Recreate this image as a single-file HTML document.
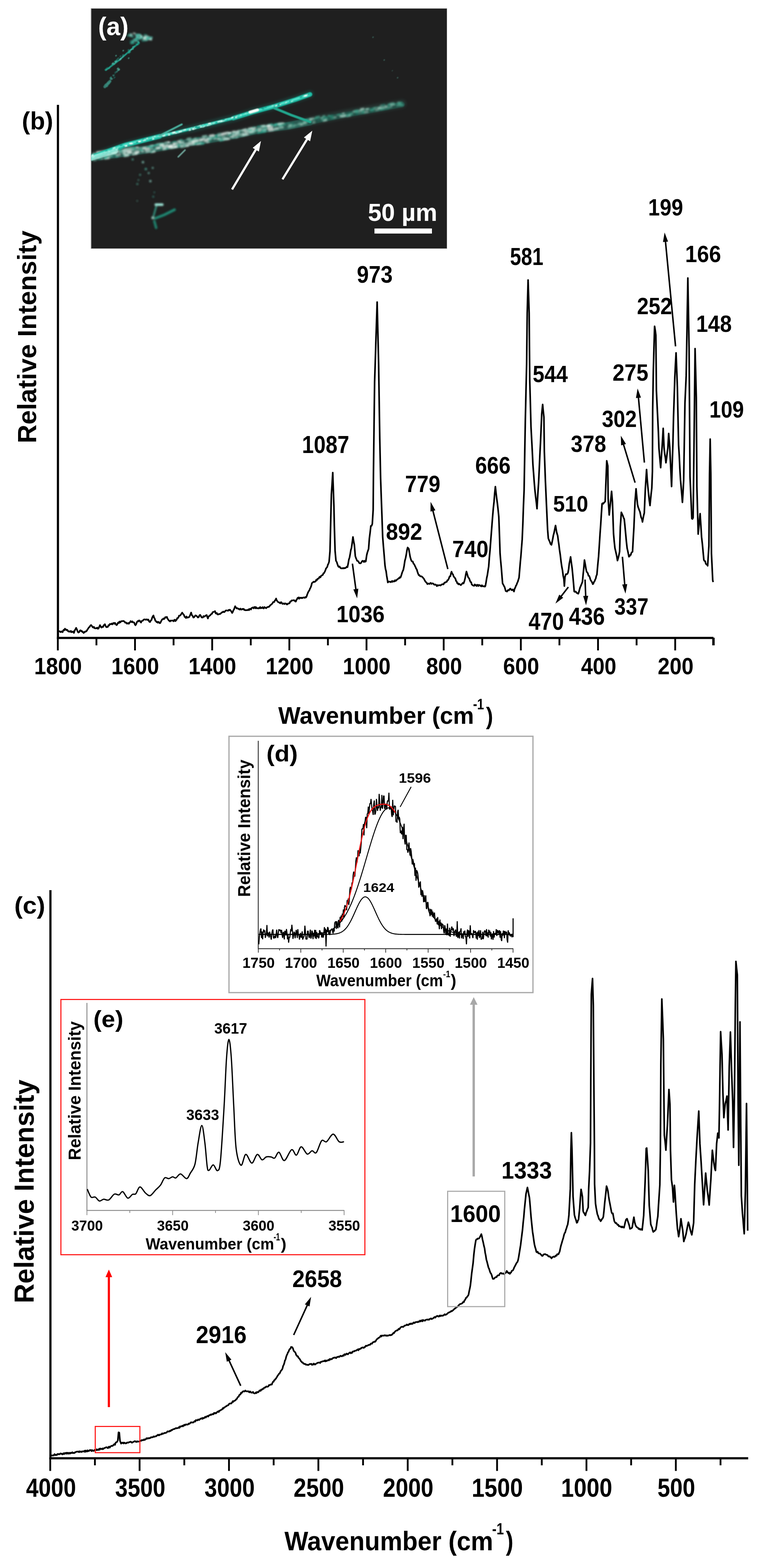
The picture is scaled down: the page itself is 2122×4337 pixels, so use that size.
<!DOCTYPE html>
<html><head><meta charset="utf-8"><title>Raman spectra figure</title>
<style>html,body{margin:0;padding:0;background:#fff;overflow:hidden;width:2122px;height:4337px;}svg{display:block;}text{font-family:"Liberation Sans",Arial,sans-serif;}</style>
</head><body>
<svg width="2122" height="4337" viewBox="0 0 2122 4337">
<rect x="0" y="0" width="2122" height="4337" fill="#fff"/>
<defs>
<filter id="blur2" x="-20%" y="-20%" width="140%" height="140%"><feGaussianBlur stdDeviation="2.2"/></filter>
<filter id="blur1" x="-20%" y="-20%" width="140%" height="140%"><feGaussianBlur stdDeviation="1.3"/></filter>
<filter id="blurS" x="-20%" y="-20%" width="140%" height="140%"><feGaussianBlur stdDeviation="1.9"/></filter>
<filter id="blur4" x="-20%" y="-20%" width="140%" height="140%"><feGaussianBlur stdDeviation="4"/></filter>
<clipPath id="imgclip"><rect x="252" y="24" width="984" height="663"/></clipPath>
</defs><rect x="251" y="23" width="986" height="665" fill="#9a9a9a"/><rect x="253" y="24" width="983" height="663" fill="#1f1f1f"/><g clip-path="url(#imgclip)"><g filter="url(#blur4)" opacity="0.3"><path d="M240.0,439.0 L347.0,401.0 L442.0,377.0 L538.0,354.0 L652.0,325.0 L700.0,309.0 L759.0,293.0 L819.0,274.0 L858.0,260.0" stroke="#1a9c8a" stroke-width="18" fill="none" stroke-linecap="round"/><path d="M240.0,436.0 L330.0,424.0 L411.0,412.0 L506.0,396.0 L569.0,386.0 L652.0,372.0 L719.0,357.0 L799.0,347.0 L858.0,335.0 L958.0,315.0 L1037.0,301.0 L1112.0,287.0" stroke="#3f7c70" stroke-width="22" fill="none" stroke-linecap="round"/></g><g filter="url(#blur1)"><path d="M240,437 L330,425 L411,413 L506,397 L569,387 L652,373 L719,358 L799,348 L858,336" stroke="#2a5f56" stroke-width="21" fill="none" stroke-linecap="round" opacity="0.85"/><path d="M858,337 L958,317 L1037,303 L1112,289" stroke="#22554b" stroke-width="15" fill="none" stroke-linecap="round" opacity="0.75"/><g filter="url(#blurS)"><rect x="479.0" y="397.3" width="13.4" height="6.7" fill="#c0c8c4" opacity="0.78" transform="rotate(-9.6 485.7 400.6)"/><rect x="695.5" y="352.1" width="12.4" height="6.2" fill="#c0c8c4" opacity="0.85" transform="rotate(-12.6 701.7 355.2)"/><rect x="663.9" y="358.8" width="8.4" height="4.2" fill="#a8d2c6" opacity="0.82" transform="rotate(-12.6 668.1 360.9)"/><rect x="716.8" y="356.3" width="10.8" height="5.4" fill="#6a9d90" opacity="0.99" transform="rotate(-7.1 722.2 359.0)"/><rect x="591.4" y="382.0" width="7.3" height="3.6" fill="#d3e6de" opacity="0.93" transform="rotate(-9.6 595.0 383.8)"/><rect x="266.5" y="418.2" width="13.0" height="6.5" fill="#d3e6de" opacity="0.91" transform="rotate(-7.6 273.0 421.4)"/><rect x="413.8" y="410.9" width="7.6" height="3.8" fill="#86b8aa" opacity="0.86" transform="rotate(-9.6 417.6 412.8)"/><rect x="506.8" y="395.9" width="9.7" height="4.8" fill="#eef6f2" opacity="0.76" transform="rotate(-9.0 511.6 398.3)"/><rect x="537.0" y="397.3" width="6.7" height="3.3" fill="#eef6f2" opacity="0.73" transform="rotate(-9.0 540.3 399.0)"/><rect x="360.9" y="412.8" width="6.6" height="3.3" fill="#a8d2c6" opacity="0.76" transform="rotate(-8.4 364.2 414.5)"/><rect x="691.1" y="356.2" width="13.7" height="6.8" fill="#d3e6de" opacity="0.69" transform="rotate(-12.6 697.9 359.6)"/><rect x="736.4" y="344.2" width="9.0" height="4.5" fill="#6a9d90" opacity="0.77" transform="rotate(-7.1 740.9 346.4)"/><rect x="540.5" y="380.9" width="11.4" height="5.7" fill="#1f8f7a" opacity="0.63" transform="rotate(-9.0 546.2 383.8)"/><rect x="416.2" y="416.7" width="12.1" height="6.0" fill="#a8d2c6" opacity="0.65" transform="rotate(-9.6 422.2 419.7)"/><rect x="617.0" y="365.5" width="9.7" height="4.9" fill="#c0c8c4" opacity="0.67" transform="rotate(-9.6 621.8 367.9)"/><rect x="539.5" y="387.2" width="7.5" height="3.8" fill="#3fb39c" opacity="0.77" transform="rotate(-9.0 543.2 389.1)"/><rect x="441.0" y="400.1" width="13.9" height="7.0" fill="#d3e6de" opacity="0.71" transform="rotate(-9.6 448.0 403.6)"/><rect x="762.2" y="354.2" width="8.4" height="4.2" fill="#d3e6de" opacity="0.68" transform="rotate(-7.1 766.4 356.3)"/><rect x="449.7" y="409.0" width="11.1" height="5.6" fill="#a8d2c6" opacity="0.62" transform="rotate(-9.6 455.2 411.8)"/><rect x="316.4" y="422.6" width="6.1" height="3.0" fill="#1f8f7a" opacity="0.93" transform="rotate(-7.6 319.4 424.2)"/><rect x="444.4" y="395.1" width="7.7" height="3.8" fill="#86b8aa" opacity="0.61" transform="rotate(-9.6 448.2 397.1)"/><rect x="437.1" y="407.8" width="7.0" height="3.5" fill="#c0c8c4" opacity="0.93" transform="rotate(-9.6 440.6 409.5)"/><rect x="308.0" y="421.0" width="11.0" height="5.5" fill="#eef6f2" opacity="0.96" transform="rotate(-7.6 313.5 423.7)"/><rect x="678.2" y="358.8" width="7.5" height="3.8" fill="#86b8aa" opacity="0.87" transform="rotate(-12.6 682.0 360.7)"/><rect x="447.4" y="403.3" width="6.6" height="3.3" fill="#d3e6de" opacity="0.64" transform="rotate(-9.6 450.7 405.0)"/><rect x="258.4" y="441.2" width="7.9" height="4.0" fill="#6a9d90" opacity="0.70" transform="rotate(-7.6 262.4 443.2)"/><rect x="682.3" y="364.0" width="8.3" height="4.2" fill="#3fb39c" opacity="0.97" transform="rotate(-12.6 686.5 366.0)"/><rect x="763.4" y="341.9" width="9.8" height="4.9" fill="#a8d2c6" opacity="0.71" transform="rotate(-7.1 768.3 344.4)"/><rect x="732.9" y="348.1" width="6.1" height="3.1" fill="#eef6f2" opacity="0.76" transform="rotate(-7.1 735.9 349.7)"/><rect x="369.9" y="405.9" width="8.3" height="4.1" fill="#3fb39c" opacity="0.64" transform="rotate(-8.4 374.0 408.0)"/><rect x="310.8" y="422.8" width="8.6" height="4.3" fill="#3fb39c" opacity="0.84" transform="rotate(-7.6 315.1 424.9)"/><rect x="735.5" y="351.7" width="8.9" height="4.4" fill="#eef6f2" opacity="0.99" transform="rotate(-7.1 739.9 353.9)"/><rect x="247.0" y="434.9" width="9.9" height="4.9" fill="#eef6f2" opacity="0.73" transform="rotate(-7.6 252.0 437.4)"/><rect x="775.1" y="339.4" width="10.4" height="5.2" fill="#d3e6de" opacity="0.96" transform="rotate(-7.1 780.3 342.0)"/><rect x="634.1" y="374.7" width="12.3" height="6.2" fill="#1f8f7a" opacity="0.74" transform="rotate(-9.6 640.2 377.8)"/><rect x="606.3" y="382.9" width="13.0" height="6.5" fill="#6a9d90" opacity="0.98" transform="rotate(-9.6 612.8 386.2)"/><rect x="253.4" y="432.3" width="6.1" height="3.1" fill="#6a9d90" opacity="0.75" transform="rotate(-7.6 256.5 433.8)"/><rect x="242.2" y="424.1" width="6.7" height="3.4" fill="#a8d2c6" opacity="1.00" transform="rotate(-7.6 245.5 425.8)"/><rect x="712.5" y="359.3" width="9.1" height="4.6" fill="#c0c8c4" opacity="0.78" transform="rotate(-12.6 717.0 361.6)"/><rect x="686.4" y="352.4" width="12.0" height="6.0" fill="#d3e6de" opacity="0.72" transform="rotate(-12.6 692.4 355.4)"/><rect x="279.5" y="416.0" width="13.7" height="6.8" fill="#a8d2c6" opacity="0.80" transform="rotate(-7.6 286.4 419.4)"/><rect x="570.6" y="391.1" width="8.0" height="4.0" fill="#d3e6de" opacity="0.75" transform="rotate(-9.6 574.6 393.1)"/><rect x="313.1" y="425.4" width="10.1" height="5.1" fill="#1f8f7a" opacity="0.86" transform="rotate(-7.6 318.2 428.0)"/><rect x="476.8" y="405.9" width="8.6" height="4.3" fill="#eef6f2" opacity="0.68" transform="rotate(-9.6 481.1 408.1)"/><rect x="468.2" y="404.1" width="13.3" height="6.7" fill="#86b8aa" opacity="0.75" transform="rotate(-9.6 474.9 407.4)"/><rect x="552.2" y="382.8" width="7.1" height="3.5" fill="#c0c8c4" opacity="0.74" transform="rotate(-9.0 555.7 384.6)"/><rect x="720.5" y="346.6" width="6.5" height="3.3" fill="#eef6f2" opacity="0.93" transform="rotate(-7.1 723.7 348.3)"/><rect x="294.6" y="423.9" width="13.4" height="6.7" fill="#6a9d90" opacity="0.75" transform="rotate(-7.6 301.3 427.2)"/><rect x="516.7" y="393.8" width="11.7" height="5.9" fill="#c0c8c4" opacity="0.73" transform="rotate(-9.0 522.6 396.7)"/><rect x="682.5" y="357.2" width="10.9" height="5.4" fill="#eef6f2" opacity="0.83" transform="rotate(-12.6 688.0 359.9)"/><rect x="405.7" y="416.8" width="6.2" height="3.1" fill="#3fb39c" opacity="0.76" transform="rotate(-8.4 408.8 418.4)"/><rect x="340.0" y="425.6" width="8.1" height="4.1" fill="#3fb39c" opacity="0.92" transform="rotate(-8.4 344.1 427.6)"/><rect x="768.6" y="342.0" width="6.9" height="3.4" fill="#1f8f7a" opacity="0.98" transform="rotate(-7.1 772.0 343.7)"/><rect x="605.3" y="370.9" width="9.8" height="4.9" fill="#3fb39c" opacity="0.89" transform="rotate(-9.6 610.2 373.4)"/><rect x="646.3" y="371.5" width="6.3" height="3.1" fill="#86b8aa" opacity="0.71" transform="rotate(-9.6 649.4 373.1)"/><rect x="423.4" y="410.6" width="10.2" height="5.1" fill="#3fb39c" opacity="0.76" transform="rotate(-9.6 428.4 413.1)"/><rect x="667.4" y="373.7" width="6.7" height="3.3" fill="#6a9d90" opacity="0.65" transform="rotate(-12.6 670.7 375.3)"/><rect x="479.9" y="398.5" width="13.3" height="6.6" fill="#6a9d90" opacity="0.82" transform="rotate(-9.6 486.5 401.8)"/><rect x="587.7" y="378.7" width="12.6" height="6.3" fill="#1f8f7a" opacity="0.79" transform="rotate(-9.6 594.0 381.8)"/><rect x="586.4" y="373.5" width="11.8" height="5.9" fill="#a8d2c6" opacity="0.69" transform="rotate(-9.6 592.3 376.5)"/><rect x="721.2" y="360.9" width="13.8" height="6.9" fill="#1f8f7a" opacity="0.70" transform="rotate(-7.1 728.2 364.3)"/><rect x="622.9" y="364.5" width="10.0" height="5.0" fill="#d3e6de" opacity="0.78" transform="rotate(-9.6 628.0 367.0)"/><rect x="534.4" y="393.5" width="9.9" height="4.9" fill="#d3e6de" opacity="0.69" transform="rotate(-9.0 539.3 395.9)"/><rect x="706.2" y="356.3" width="6.3" height="3.1" fill="#1f8f7a" opacity="0.87" transform="rotate(-12.6 709.3 357.9)"/><rect x="728.8" y="350.9" width="14.0" height="7.0" fill="#c0c8c4" opacity="0.98" transform="rotate(-7.1 735.8 354.4)"/><rect x="505.3" y="402.8" width="6.7" height="3.3" fill="#86b8aa" opacity="0.78" transform="rotate(-9.0 508.6 404.5)"/><rect x="538.9" y="393.8" width="10.5" height="5.2" fill="#3fb39c" opacity="0.81" transform="rotate(-9.0 544.1 396.4)"/><rect x="692.8" y="360.9" width="8.5" height="4.2" fill="#6a9d90" opacity="0.98" transform="rotate(-12.6 697.0 363.0)"/><rect x="707.2" y="358.6" width="8.4" height="4.2" fill="#3fb39c" opacity="0.99" transform="rotate(-12.6 711.4 360.7)"/><rect x="520.8" y="392.6" width="7.6" height="3.8" fill="#a8d2c6" opacity="0.80" transform="rotate(-9.0 524.6 394.5)"/><rect x="560.0" y="373.8" width="13.8" height="6.9" fill="#6a9d90" opacity="0.82" transform="rotate(-9.0 566.9 377.3)"/><rect x="771.6" y="341.8" width="6.7" height="3.4" fill="#3fb39c" opacity="0.63" transform="rotate(-7.1 775.0 343.5)"/><rect x="525.1" y="386.8" width="13.7" height="6.8" fill="#6a9d90" opacity="0.71" transform="rotate(-9.0 532.0 390.2)"/><rect x="490.8" y="388.0" width="9.5" height="4.7" fill="#c0c8c4" opacity="0.81" transform="rotate(-9.6 495.5 390.3)"/><rect x="295.7" y="424.9" width="6.2" height="3.1" fill="#eef6f2" opacity="0.65" transform="rotate(-7.6 298.8 426.4)"/><rect x="656.7" y="359.3" width="7.6" height="3.8" fill="#86b8aa" opacity="0.60" transform="rotate(-12.6 660.5 361.2)"/><rect x="391.1" y="417.0" width="8.0" height="4.0" fill="#c0c8c4" opacity="0.64" transform="rotate(-8.4 395.0 419.0)"/><rect x="630.1" y="365.3" width="10.1" height="5.0" fill="#eef6f2" opacity="0.89" transform="rotate(-9.6 635.1 367.8)"/><rect x="618.4" y="382.7" width="6.2" height="3.1" fill="#6a9d90" opacity="0.93" transform="rotate(-9.6 621.5 384.3)"/><rect x="567.7" y="382.6" width="12.9" height="6.5" fill="#86b8aa" opacity="0.81" transform="rotate(-9.6 574.1 385.9)"/><rect x="694.9" y="359.8" width="12.9" height="6.4" fill="#86b8aa" opacity="0.97" transform="rotate(-12.6 701.3 363.0)"/><rect x="576.3" y="379.4" width="7.4" height="3.7" fill="#1f8f7a" opacity="0.96" transform="rotate(-9.6 580.1 381.2)"/><rect x="342.9" y="425.6" width="7.6" height="3.8" fill="#a8d2c6" opacity="0.65" transform="rotate(-8.4 346.7 427.4)"/><rect x="366.7" y="420.7" width="8.1" height="4.0" fill="#a8d2c6" opacity="0.77" transform="rotate(-8.4 370.8 422.7)"/><rect x="743.8" y="351.0" width="11.6" height="5.8" fill="#86b8aa" opacity="0.76" transform="rotate(-7.1 749.6 353.9)"/><rect x="606.3" y="368.1" width="7.6" height="3.8" fill="#1f8f7a" opacity="0.96" transform="rotate(-9.6 610.1 370.0)"/><rect x="758.5" y="342.3" width="10.0" height="5.0" fill="#1f8f7a" opacity="0.80" transform="rotate(-7.1 763.5 344.8)"/><rect x="607.6" y="371.4" width="6.6" height="3.3" fill="#a8d2c6" opacity="0.61" transform="rotate(-9.6 610.8 373.1)"/><rect x="646.9" y="370.5" width="13.2" height="6.6" fill="#c0c8c4" opacity="0.66" transform="rotate(-12.6 653.5 373.8)"/><rect x="333.1" y="413.1" width="12.7" height="6.4" fill="#eef6f2" opacity="0.97" transform="rotate(-8.4 339.4 416.3)"/><rect x="283.7" y="416.3" width="13.6" height="6.8" fill="#c0c8c4" opacity="0.63" transform="rotate(-7.6 290.6 419.7)"/><rect x="287.6" y="424.3" width="9.4" height="4.7" fill="#1f8f7a" opacity="0.77" transform="rotate(-7.6 292.3 426.7)"/><rect x="558.7" y="374.4" width="11.6" height="5.8" fill="#86b8aa" opacity="0.67" transform="rotate(-9.0 564.5 377.3)"/><rect x="482.5" y="401.7" width="9.2" height="4.6" fill="#86b8aa" opacity="0.84" transform="rotate(-9.6 487.1 404.0)"/><rect x="288.1" y="433.2" width="8.6" height="4.3" fill="#a8d2c6" opacity="0.92" transform="rotate(-7.6 292.4 435.4)"/><rect x="617.7" y="380.9" width="11.0" height="5.5" fill="#6a9d90" opacity="0.83" transform="rotate(-9.6 623.2 383.6)"/><rect x="339.7" y="421.5" width="8.7" height="4.4" fill="#eef6f2" opacity="0.71" transform="rotate(-8.4 344.1 423.7)"/><rect x="300.3" y="430.9" width="7.3" height="3.6" fill="#6a9d90" opacity="0.65" transform="rotate(-7.6 303.9 432.7)"/><rect x="414.9" y="409.2" width="9.0" height="4.5" fill="#6a9d90" opacity="0.91" transform="rotate(-9.6 419.4 411.4)"/><rect x="457.7" y="406.5" width="6.6" height="3.3" fill="#1f8f7a" opacity="0.72" transform="rotate(-9.6 461.0 408.1)"/><rect x="289.0" y="433.5" width="13.9" height="7.0" fill="#d3e6de" opacity="0.69" transform="rotate(-7.6 296.0 437.0)"/><rect x="747.4" y="353.6" width="8.7" height="4.4" fill="#6a9d90" opacity="0.83" transform="rotate(-7.1 751.8 355.8)"/><rect x="521.8" y="386.7" width="14.0" height="7.0" fill="#86b8aa" opacity="0.88" transform="rotate(-9.0 528.8 390.2)"/><rect x="651.8" y="378.8" width="6.2" height="3.1" fill="#a8d2c6" opacity="0.90" transform="rotate(-12.6 654.9 380.3)"/><rect x="376.0" y="413.1" width="6.4" height="3.2" fill="#86b8aa" opacity="0.86" transform="rotate(-8.4 379.2 414.7)"/><rect x="241.1" y="427.9" width="8.2" height="4.1" fill="#1f8f7a" opacity="0.82" transform="rotate(-7.6 245.2 430.0)"/><rect x="511.7" y="400.8" width="10.5" height="5.3" fill="#a8d2c6" opacity="0.86" transform="rotate(-9.0 516.9 403.5)"/><rect x="671.5" y="355.9" width="10.8" height="5.4" fill="#d3e6de" opacity="0.75" transform="rotate(-12.6 676.9 358.6)"/><rect x="741.0" y="348.0" width="13.8" height="6.9" fill="#c0c8c4" opacity="0.82" transform="rotate(-7.1 747.9 351.4)"/><rect x="558.4" y="383.0" width="10.0" height="5.0" fill="#eef6f2" opacity="0.81" transform="rotate(-9.0 563.4 385.5)"/><rect x="559.7" y="382.2" width="8.3" height="4.1" fill="#eef6f2" opacity="0.82" transform="rotate(-9.0 563.9 384.2)"/><rect x="390.5" y="416.8" width="8.4" height="4.2" fill="#d3e6de" opacity="0.91" transform="rotate(-8.4 394.7 418.9)"/><rect x="553.5" y="388.0" width="9.3" height="4.6" fill="#6a9d90" opacity="0.62" transform="rotate(-9.0 558.2 390.3)"/><rect x="405.6" y="407.2" width="10.7" height="5.3" fill="#1f8f7a" opacity="0.63" transform="rotate(-9.6 410.9 409.9)"/><rect x="725.1" y="351.9" width="9.8" height="4.9" fill="#86b8aa" opacity="0.62" transform="rotate(-7.1 730.0 354.4)"/><rect x="287.8" y="432.2" width="13.3" height="6.6" fill="#3fb39c" opacity="0.99" transform="rotate(-7.6 294.4 435.5)"/><rect x="679.3" y="365.3" width="6.9" height="3.5" fill="#6a9d90" opacity="0.78" transform="rotate(-12.6 682.8 367.0)"/><rect x="344.2" y="409.1" width="10.2" height="5.1" fill="#a8d2c6" opacity="0.75" transform="rotate(-8.4 349.3 411.6)"/><rect x="310.4" y="421.4" width="10.8" height="5.4" fill="#6a9d90" opacity="0.75" transform="rotate(-7.6 315.8 424.1)"/><rect x="640.7" y="377.4" width="7.1" height="3.5" fill="#eef6f2" opacity="0.89" transform="rotate(-9.6 644.3 379.2)"/><rect x="361.8" y="406.9" width="13.1" height="6.6" fill="#1f8f7a" opacity="0.71" transform="rotate(-8.4 368.4 410.2)"/><rect x="565.7" y="387.0" width="11.6" height="5.8" fill="#86b8aa" opacity="0.85" transform="rotate(-9.6 571.5 389.9)"/><rect x="643.5" y="365.0" width="8.0" height="4.0" fill="#86b8aa" opacity="0.95" transform="rotate(-9.6 647.5 367.0)"/><rect x="256.1" y="421.6" width="8.2" height="4.1" fill="#6a9d90" opacity="0.61" transform="rotate(-7.6 260.2 423.6)"/><rect x="255.8" y="425.2" width="8.2" height="4.1" fill="#a8d2c6" opacity="0.97" transform="rotate(-7.6 259.9 427.2)"/><rect x="319.8" y="415.3" width="13.9" height="6.9" fill="#c0c8c4" opacity="0.79" transform="rotate(-7.6 326.7 418.8)"/><rect x="348.0" y="414.1" width="12.0" height="6.0" fill="#a8d2c6" opacity="0.92" transform="rotate(-8.4 354.0 417.1)"/><rect x="477.4" y="403.0" width="12.7" height="6.4" fill="#86b8aa" opacity="0.78" transform="rotate(-9.6 483.8 406.2)"/><rect x="641.2" y="369.4" width="7.2" height="3.6" fill="#3fb39c" opacity="0.86" transform="rotate(-9.6 644.8 371.2)"/><rect x="770.1" y="344.4" width="10.4" height="5.2" fill="#3fb39c" opacity="0.77" transform="rotate(-7.1 775.3 347.0)"/><rect x="432.7" y="395.8" width="13.0" height="6.5" fill="#a8d2c6" opacity="0.82" transform="rotate(-9.6 439.2 399.0)"/><rect x="468.4" y="399.5" width="12.5" height="6.3" fill="#c0c8c4" opacity="0.72" transform="rotate(-9.6 474.7 402.6)"/><rect x="654.8" y="360.7" width="7.7" height="3.9" fill="#a8d2c6" opacity="0.88" transform="rotate(-12.6 658.6 362.6)"/><rect x="504.9" y="398.6" width="8.6" height="4.3" fill="#3fb39c" opacity="0.69" transform="rotate(-9.0 509.2 400.7)"/><rect x="589.3" y="374.9" width="13.3" height="6.6" fill="#1f8f7a" opacity="0.88" transform="rotate(-9.6 595.9 378.2)"/><rect x="543.3" y="393.8" width="13.5" height="6.8" fill="#eef6f2" opacity="0.78" transform="rotate(-9.0 550.1 397.1)"/><rect x="670.0" y="361.3" width="8.5" height="4.3" fill="#6a9d90" opacity="0.99" transform="rotate(-12.6 674.3 363.4)"/><rect x="632.4" y="373.4" width="6.7" height="3.3" fill="#1f8f7a" opacity="0.61" transform="rotate(-9.6 635.7 375.0)"/><rect x="601.2" y="378.0" width="12.4" height="6.2" fill="#1f8f7a" opacity="0.92" transform="rotate(-9.6 607.4 381.1)"/><rect x="529.0" y="395.5" width="10.5" height="5.3" fill="#3fb39c" opacity="0.64" transform="rotate(-9.0 534.3 398.1)"/><rect x="481.5" y="403.1" width="12.5" height="6.2" fill="#86b8aa" opacity="0.81" transform="rotate(-9.6 487.7 406.2)"/><rect x="528.5" y="389.2" width="13.7" height="6.9" fill="#6a9d90" opacity="0.63" transform="rotate(-9.0 535.4 392.7)"/><rect x="534.2" y="395.0" width="6.7" height="3.3" fill="#a8d2c6" opacity="0.71" transform="rotate(-9.0 537.5 396.6)"/><rect x="293.7" y="422.8" width="6.2" height="3.1" fill="#3fb39c" opacity="0.64" transform="rotate(-7.6 296.8 424.4)"/><rect x="676.0" y="361.0" width="11.7" height="5.8" fill="#c0c8c4" opacity="0.91" transform="rotate(-12.6 681.8 363.9)"/><rect x="519.2" y="396.1" width="9.2" height="4.6" fill="#1f8f7a" opacity="0.92" transform="rotate(-9.0 523.7 398.4)"/><rect x="414.7" y="400.6" width="9.9" height="5.0" fill="#a8d2c6" opacity="0.88" transform="rotate(-9.6 419.6 403.0)"/><rect x="728.8" y="350.3" width="12.6" height="6.3" fill="#1f8f7a" opacity="0.94" transform="rotate(-7.1 735.1 353.4)"/><rect x="671.4" y="369.1" width="13.1" height="6.6" fill="#d3e6de" opacity="0.81" transform="rotate(-12.6 677.9 372.4)"/><rect x="621.3" y="379.7" width="9.4" height="4.7" fill="#6a9d90" opacity="0.97" transform="rotate(-9.6 625.9 382.1)"/><rect x="367.0" y="407.8" width="11.1" height="5.5" fill="#3fb39c" opacity="0.73" transform="rotate(-8.4 372.5 410.6)"/><rect x="447.4" y="403.7" width="8.2" height="4.1" fill="#d3e6de" opacity="0.79" transform="rotate(-9.6 451.5 405.8)"/><rect x="632.0" y="369.3" width="7.2" height="3.6" fill="#3fb39c" opacity="0.96" transform="rotate(-9.6 635.6 371.1)"/><rect x="641.9" y="361.5" width="9.8" height="4.9" fill="#d3e6de" opacity="0.73" transform="rotate(-9.6 646.8 363.9)"/><rect x="341.7" y="415.8" width="10.7" height="5.4" fill="#c0c8c4" opacity="0.84" transform="rotate(-8.4 347.0 418.5)"/><rect x="356.7" y="410.7" width="8.2" height="4.1" fill="#3fb39c" opacity="0.96" transform="rotate(-8.4 360.8 412.8)"/><rect x="741.0" y="352.2" width="13.5" height="6.8" fill="#c0c8c4" opacity="0.94" transform="rotate(-7.1 747.7 355.6)"/><rect x="495.9" y="391.2" width="13.6" height="6.8" fill="#a8d2c6" opacity="0.79" transform="rotate(-9.6 502.7 394.6)"/><rect x="352.0" y="406.8" width="13.6" height="6.8" fill="#6a9d90" opacity="0.99" transform="rotate(-8.4 358.8 410.2)"/><rect x="665.5" y="369.6" width="12.3" height="6.2" fill="#d3e6de" opacity="0.86" transform="rotate(-12.6 671.7 372.7)"/><rect x="362.8" y="405.7" width="9.8" height="4.9" fill="#1f8f7a" opacity="0.78" transform="rotate(-8.4 367.7 408.1)"/><rect x="367.3" y="412.6" width="13.0" height="6.5" fill="#6a9d90" opacity="0.66" transform="rotate(-8.4 373.8 415.9)"/><rect x="407.5" y="403.3" width="13.0" height="6.5" fill="#3fb39c" opacity="0.85" transform="rotate(-9.6 414.0 406.5)"/><rect x="772.2" y="343.1" width="10.3" height="5.1" fill="#3fb39c" opacity="0.83" transform="rotate(-7.1 777.3 345.7)"/><rect x="329.4" y="413.5" width="13.3" height="6.7" fill="#3fb39c" opacity="0.93" transform="rotate(-8.4 336.0 416.8)"/><rect x="278.3" y="422.2" width="11.7" height="5.9" fill="#a8d2c6" opacity="0.96" transform="rotate(-7.6 284.2 425.1)"/><rect x="608.9" y="367.4" width="12.0" height="6.0" fill="#eef6f2" opacity="0.61" transform="rotate(-9.6 614.9 370.4)"/><rect x="335.4" y="412.9" width="11.5" height="5.7" fill="#c0c8c4" opacity="0.68" transform="rotate(-8.4 341.1 415.8)"/><rect x="531.2" y="390.1" width="7.3" height="3.6" fill="#eef6f2" opacity="0.73" transform="rotate(-9.0 534.8 391.9)"/><rect x="453.3" y="401.3" width="14.0" height="7.0" fill="#a8d2c6" opacity="0.74" transform="rotate(-9.6 460.3 404.8)"/><rect x="606.8" y="369.1" width="9.2" height="4.6" fill="#c0c8c4" opacity="0.90" transform="rotate(-9.6 611.4 371.4)"/><rect x="658.8" y="360.0" width="9.6" height="4.8" fill="#6a9d90" opacity="0.88" transform="rotate(-12.6 663.6 362.4)"/><rect x="493.7" y="391.6" width="6.9" height="3.5" fill="#d3e6de" opacity="0.94" transform="rotate(-9.6 497.2 393.4)"/><rect x="691.5" y="362.4" width="13.2" height="6.6" fill="#3fb39c" opacity="0.72" transform="rotate(-12.6 698.1 365.7)"/><rect x="440.1" y="405.1" width="8.4" height="4.2" fill="#1f8f7a" opacity="0.90" transform="rotate(-9.6 444.3 407.2)"/><rect x="536.4" y="380.7" width="7.5" height="3.8" fill="#6a9d90" opacity="0.89" transform="rotate(-9.0 540.1 382.5)"/><rect x="415.2" y="417.0" width="10.5" height="5.3" fill="#1f8f7a" opacity="0.78" transform="rotate(-9.6 420.4 419.6)"/><rect x="440.8" y="395.2" width="11.0" height="5.5" fill="#3fb39c" opacity="0.87" transform="rotate(-9.6 446.3 397.9)"/><rect x="618.4" y="368.6" width="9.2" height="4.6" fill="#c0c8c4" opacity="0.84" transform="rotate(-9.6 623.1 370.9)"/><rect x="284.6" y="421.8" width="7.3" height="3.6" fill="#a8d2c6" opacity="0.77" transform="rotate(-7.6 288.2 423.6)"/><rect x="651.1" y="364.7" width="12.6" height="6.3" fill="#3fb39c" opacity="0.86" transform="rotate(-12.6 657.4 367.8)"/><rect x="652.4" y="374.6" width="9.1" height="4.5" fill="#1f8f7a" opacity="0.97" transform="rotate(-12.6 657.0 376.9)"/><rect x="573.2" y="386.0" width="10.9" height="5.5" fill="#1f8f7a" opacity="0.99" transform="rotate(-9.6 578.6 388.7)"/><rect x="663.1" y="368.5" width="10.9" height="5.4" fill="#d3e6de" opacity="0.70" transform="rotate(-12.6 668.5 371.3)"/><rect x="337.3" y="415.7" width="9.5" height="4.8" fill="#6a9d90" opacity="0.68" transform="rotate(-8.4 342.0 418.1)"/><rect x="416.7" y="404.5" width="6.8" height="3.4" fill="#3fb39c" opacity="0.70" transform="rotate(-9.6 420.1 406.2)"/><rect x="527.8" y="386.0" width="7.9" height="3.9" fill="#3fb39c" opacity="0.83" transform="rotate(-9.0 531.7 388.0)"/><rect x="342.1" y="426.9" width="14.0" height="7.0" fill="#86b8aa" opacity="0.83" transform="rotate(-8.4 349.1 430.4)"/><rect x="248.9" y="434.5" width="12.2" height="6.1" fill="#3fb39c" opacity="0.70" transform="rotate(-7.6 255.0 437.5)"/><rect x="549.0" y="390.2" width="8.6" height="4.3" fill="#1f8f7a" opacity="0.71" transform="rotate(-9.0 553.3 392.3)"/><rect x="711.8" y="353.5" width="11.8" height="5.9" fill="#86b8aa" opacity="0.96" transform="rotate(-12.6 717.7 356.4)"/><rect x="529.7" y="390.0" width="10.5" height="5.2" fill="#eef6f2" opacity="0.67" transform="rotate(-9.0 535.0 392.6)"/><rect x="641.2" y="378.3" width="8.7" height="4.3" fill="#3fb39c" opacity="0.65" transform="rotate(-9.6 645.5 380.5)"/><rect x="679.2" y="357.3" width="13.2" height="6.6" fill="#86b8aa" opacity="0.90" transform="rotate(-12.6 685.8 360.6)"/><rect x="430.7" y="398.2" width="10.8" height="5.4" fill="#a8d2c6" opacity="0.78" transform="rotate(-9.6 436.1 400.9)"/><rect x="453.2" y="406.1" width="13.4" height="6.7" fill="#3fb39c" opacity="0.72" transform="rotate(-9.6 459.9 409.5)"/><rect x="600.2" y="382.2" width="9.1" height="4.5" fill="#d3e6de" opacity="0.66" transform="rotate(-9.6 604.7 384.5)"/><rect x="457.0" y="391.4" width="10.2" height="5.1" fill="#a8d2c6" opacity="0.83" transform="rotate(-9.6 462.1 393.9)"/><rect x="330.5" y="421.7" width="8.1" height="4.1" fill="#1f8f7a" opacity="0.62" transform="rotate(-8.4 334.5 423.8)"/><rect x="659.6" y="370.0" width="12.3" height="6.2" fill="#6a9d90" opacity="0.98" transform="rotate(-12.6 665.7 373.0)"/><rect x="560.8" y="383.7" width="9.3" height="4.6" fill="#6a9d90" opacity="0.90" transform="rotate(-9.0 565.4 386.0)"/><rect x="498.8" y="402.8" width="12.7" height="6.4" fill="#6a9d90" opacity="0.93" transform="rotate(-9.6 505.2 406.0)"/><rect x="296.0" y="415.9" width="13.5" height="6.8" fill="#1f8f7a" opacity="0.81" transform="rotate(-7.6 302.7 419.3)"/><rect x="471.6" y="407.1" width="8.6" height="4.3" fill="#d3e6de" opacity="0.72" transform="rotate(-9.6 475.9 409.2)"/><rect x="569.5" y="381.6" width="9.0" height="4.5" fill="#1f8f7a" opacity="0.90" transform="rotate(-9.6 574.0 383.9)"/><rect x="402.6" y="413.1" width="6.6" height="3.3" fill="#a8d2c6" opacity="0.94" transform="rotate(-8.4 405.9 414.7)"/><rect x="366.0" y="422.0" width="13.8" height="6.9" fill="#c0c8c4" opacity="0.88" transform="rotate(-8.4 372.9 425.5)"/><rect x="520.4" y="385.8" width="8.5" height="4.2" fill="#6a9d90" opacity="0.98" transform="rotate(-9.0 524.7 387.9)"/><rect x="712.1" y="363.3" width="11.8" height="5.9" fill="#1f8f7a" opacity="0.95" transform="rotate(-12.6 718.1 366.2)"/><rect x="465.8" y="406.3" width="7.8" height="3.9" fill="#6a9d90" opacity="0.83" transform="rotate(-9.6 469.7 408.3)"/><rect x="721.9" y="345.7" width="12.3" height="6.2" fill="#a8d2c6" opacity="0.95" transform="rotate(-7.1 728.1 348.8)"/><rect x="548.1" y="385.7" width="8.4" height="4.2" fill="#eef6f2" opacity="0.61" transform="rotate(-9.0 552.2 387.8)"/><rect x="328.6" y="419.8" width="9.6" height="4.8" fill="#6a9d90" opacity="0.66" transform="rotate(-8.4 333.4 422.2)"/><rect x="610.3" y="371.1" width="8.4" height="4.2" fill="#c0c8c4" opacity="0.96" transform="rotate(-9.6 614.5 373.2)"/><rect x="400.5" y="409.2" width="13.5" height="6.7" fill="#c0c8c4" opacity="0.95" transform="rotate(-8.4 407.3 412.5)"/><rect x="345.5" y="425.6" width="11.5" height="5.8" fill="#d3e6de" opacity="0.68" transform="rotate(-8.4 351.3 428.5)"/><rect x="688.3" y="357.7" width="9.8" height="4.9" fill="#3fb39c" opacity="0.85" transform="rotate(-12.6 693.2 360.1)"/><rect x="613.5" y="376.2" width="10.3" height="5.1" fill="#86b8aa" opacity="0.68" transform="rotate(-9.6 618.6 378.8)"/><rect x="711.2" y="348.1" width="6.8" height="3.4" fill="#1f8f7a" opacity="0.98" transform="rotate(-12.6 714.6 349.8)"/><rect x="382.1" y="410.4" width="13.0" height="6.5" fill="#1f8f7a" opacity="0.88" transform="rotate(-8.4 388.6 413.7)"/><rect x="744.3" y="350.8" width="6.6" height="3.3" fill="#86b8aa" opacity="0.94" transform="rotate(-7.1 747.6 352.5)"/><rect x="302.1" y="429.3" width="8.2" height="4.1" fill="#86b8aa" opacity="0.80" transform="rotate(-7.6 306.2 431.3)"/><rect x="393.7" y="405.8" width="12.4" height="6.2" fill="#a8d2c6" opacity="0.84" transform="rotate(-8.4 399.9 408.9)"/><rect x="357.2" y="411.4" width="13.4" height="6.7" fill="#86b8aa" opacity="0.71" transform="rotate(-8.4 363.9 414.8)"/><rect x="578.8" y="371.9" width="13.9" height="6.9" fill="#c0c8c4" opacity="0.97" transform="rotate(-9.6 585.8 375.3)"/><rect x="278.3" y="437.9" width="6.1" height="3.0" fill="#eef6f2" opacity="0.81" transform="rotate(-7.6 281.3 439.4)"/><rect x="466.4" y="401.6" width="7.3" height="3.7" fill="#86b8aa" opacity="0.70" transform="rotate(-9.6 470.1 403.4)"/><rect x="388.1" y="414.0" width="7.5" height="3.7" fill="#3fb39c" opacity="1.00" transform="rotate(-8.4 391.8 415.8)"/><rect x="252.2" y="429.7" width="12.0" height="6.0" fill="#6a9d90" opacity="0.60" transform="rotate(-7.6 258.2 432.7)"/><rect x="718.3" y="347.3" width="6.5" height="3.3" fill="#1f8f7a" opacity="0.73" transform="rotate(-7.1 721.6 348.9)"/><rect x="496.6" y="385.5" width="8.3" height="4.2" fill="#3fb39c" opacity="0.84" transform="rotate(-9.6 500.8 387.6)"/><rect x="651.8" y="361.4" width="9.5" height="4.7" fill="#c0c8c4" opacity="0.82" transform="rotate(-12.6 656.5 363.8)"/><rect x="374.0" y="418.2" width="11.8" height="5.9" fill="#eef6f2" opacity="0.80" transform="rotate(-8.4 379.9 421.1)"/><rect x="355.5" y="418.7" width="10.0" height="5.0" fill="#d3e6de" opacity="0.68" transform="rotate(-8.4 360.5 421.2)"/><rect x="759.8" y="341.2" width="9.6" height="4.8" fill="#3fb39c" opacity="0.73" transform="rotate(-7.1 764.6 343.5)"/><rect x="564.1" y="384.8" width="12.4" height="6.2" fill="#c0c8c4" opacity="0.89" transform="rotate(-9.6 570.3 387.9)"/><rect x="698.5" y="350.6" width="6.9" height="3.5" fill="#3fb39c" opacity="0.83" transform="rotate(-12.6 702.0 352.3)"/><rect x="531.6" y="395.0" width="7.9" height="4.0" fill="#3fb39c" opacity="0.62" transform="rotate(-9.0 535.6 397.0)"/><rect x="465.2" y="402.6" width="12.6" height="6.3" fill="#eef6f2" opacity="0.91" transform="rotate(-9.6 471.5 405.8)"/><rect x="505.8" y="395.7" width="10.1" height="5.0" fill="#6a9d90" opacity="0.70" transform="rotate(-9.0 510.8 398.2)"/><rect x="321.1" y="425.3" width="12.6" height="6.3" fill="#c0c8c4" opacity="0.62" transform="rotate(-7.6 327.5 428.4)"/><rect x="458.6" y="398.7" width="7.7" height="3.9" fill="#d3e6de" opacity="0.65" transform="rotate(-9.6 462.4 400.6)"/><rect x="646.3" y="372.5" width="7.1" height="3.5" fill="#c0c8c4" opacity="0.81" transform="rotate(-9.6 649.8 374.2)"/><rect x="768.0" y="339.4" width="9.3" height="4.6" fill="#3fb39c" opacity="0.64" transform="rotate(-7.1 772.7 341.7)"/><rect x="534.8" y="386.4" width="13.5" height="6.7" fill="#d3e6de" opacity="0.87" transform="rotate(-9.0 541.6 389.8)"/><rect x="624.8" y="381.9" width="10.9" height="5.4" fill="#eef6f2" opacity="0.70" transform="rotate(-9.6 630.2 384.6)"/><rect x="533.7" y="383.4" width="9.7" height="4.8" fill="#86b8aa" opacity="0.75" transform="rotate(-9.0 538.6 385.8)"/><rect x="419.3" y="416.9" width="10.9" height="5.4" fill="#d3e6de" opacity="0.66" transform="rotate(-9.6 424.7 419.6)"/><rect x="553.0" y="394.2" width="11.9" height="5.9" fill="#3fb39c" opacity="0.79" transform="rotate(-9.0 558.9 397.2)"/><rect x="449.9" y="409.4" width="9.0" height="4.5" fill="#d3e6de" opacity="0.69" transform="rotate(-9.6 454.5 411.7)"/><rect x="422.4" y="400.1" width="10.4" height="5.2" fill="#3fb39c" opacity="0.79" transform="rotate(-9.6 427.6 402.7)"/><rect x="451.5" y="403.0" width="12.1" height="6.0" fill="#c0c8c4" opacity="0.78" transform="rotate(-9.6 457.6 406.1)"/><rect x="771.9" y="349.4" width="12.9" height="6.5" fill="#86b8aa" opacity="0.82" transform="rotate(-7.1 778.3 352.7)"/><rect x="461.9" y="391.5" width="8.2" height="4.1" fill="#eef6f2" opacity="0.85" transform="rotate(-9.6 466.0 393.6)"/><rect x="517.2" y="395.7" width="10.1" height="5.0" fill="#86b8aa" opacity="0.71" transform="rotate(-9.0 522.2 398.2)"/><rect x="428.2" y="397.5" width="13.5" height="6.7" fill="#1f8f7a" opacity="0.65" transform="rotate(-9.6 434.9 400.9)"/><rect x="368.5" y="423.2" width="7.0" height="3.5" fill="#1f8f7a" opacity="0.94" transform="rotate(-8.4 372.0 424.9)"/><rect x="480.8" y="404.3" width="9.1" height="4.5" fill="#eef6f2" opacity="0.91" transform="rotate(-9.6 485.3 406.6)"/><rect x="515.8" y="382.7" width="9.2" height="4.6" fill="#86b8aa" opacity="0.80" transform="rotate(-9.0 520.4 385.0)"/><rect x="338.6" y="420.7" width="7.0" height="3.5" fill="#86b8aa" opacity="0.72" transform="rotate(-8.4 342.1 422.5)"/><rect x="466.8" y="401.1" width="7.1" height="3.5" fill="#eef6f2" opacity="0.73" transform="rotate(-9.6 470.3 402.9)"/><rect x="478.2" y="393.9" width="13.0" height="6.5" fill="#eef6f2" opacity="0.81" transform="rotate(-9.6 484.7 397.1)"/><rect x="477.6" y="390.1" width="10.1" height="5.1" fill="#1f8f7a" opacity="0.69" transform="rotate(-9.6 482.7 392.6)"/><rect x="394.4" y="408.7" width="7.7" height="3.9" fill="#d3e6de" opacity="0.94" transform="rotate(-8.4 398.2 410.7)"/><rect x="641.9" y="371.3" width="6.1" height="3.0" fill="#eef6f2" opacity="0.86" transform="rotate(-9.6 645.0 372.9)"/><rect x="272.2" y="436.1" width="10.5" height="5.2" fill="#1f8f7a" opacity="0.87" transform="rotate(-7.6 277.4 438.7)"/><rect x="754.0" y="356.6" width="7.9" height="3.9" fill="#eef6f2" opacity="0.64" transform="rotate(-7.1 757.9 358.5)"/><rect x="468.5" y="398.0" width="6.5" height="3.2" fill="#6a9d90" opacity="0.97" transform="rotate(-9.6 471.8 399.6)"/><rect x="391.4" y="416.6" width="7.8" height="3.9" fill="#6a9d90" opacity="0.68" transform="rotate(-8.4 395.2 418.6)"/><rect x="650.0" y="365.4" width="11.7" height="5.8" fill="#a8d2c6" opacity="0.90" transform="rotate(-12.6 655.9 368.4)"/><rect x="727.0" y="358.3" width="9.8" height="4.9" fill="#eef6f2" opacity="0.88" transform="rotate(-7.1 731.9 360.8)"/><rect x="537.6" y="392.9" width="6.2" height="3.1" fill="#6a9d90" opacity="0.65" transform="rotate(-9.0 540.7 394.4)"/><rect x="729.2" y="360.4" width="8.2" height="4.1" fill="#6a9d90" opacity="0.80" transform="rotate(-7.1 733.3 362.5)"/><rect x="553.4" y="385.0" width="8.6" height="4.3" fill="#eef6f2" opacity="0.63" transform="rotate(-9.0 557.7 387.2)"/><rect x="254.2" y="427.4" width="9.0" height="4.5" fill="#eef6f2" opacity="0.70" transform="rotate(-7.6 258.7 429.6)"/><rect x="596.4" y="372.2" width="9.8" height="4.9" fill="#1f8f7a" opacity="0.98" transform="rotate(-9.6 601.3 374.6)"/><rect x="430.4" y="405.8" width="13.5" height="6.8" fill="#a8d2c6" opacity="0.85" transform="rotate(-9.6 437.2 409.2)"/><rect x="571.8" y="380.7" width="9.3" height="4.7" fill="#eef6f2" opacity="0.63" transform="rotate(-9.6 576.4 383.0)"/><rect x="484.7" y="394.0" width="13.7" height="6.9" fill="#6a9d90" opacity="0.62" transform="rotate(-9.6 491.6 397.4)"/><rect x="309.7" y="424.2" width="8.5" height="4.2" fill="#1f8f7a" opacity="0.79" transform="rotate(-7.6 313.9 426.3)"/><rect x="247.7" y="434.7" width="8.2" height="4.1" fill="#eef6f2" opacity="0.87" transform="rotate(-7.6 251.8 436.8)"/><rect x="360.8" y="405.6" width="10.4" height="5.2" fill="#6a9d90" opacity="0.60" transform="rotate(-8.4 366.0 408.2)"/><rect x="531.7" y="394.7" width="12.1" height="6.1" fill="#a8d2c6" opacity="0.85" transform="rotate(-9.0 537.8 397.8)"/><rect x="538.3" y="392.8" width="13.8" height="6.9" fill="#1f8f7a" opacity="0.71" transform="rotate(-9.0 545.2 396.2)"/><rect x="288.9" y="415.1" width="12.4" height="6.2" fill="#86b8aa" opacity="0.88" transform="rotate(-7.6 295.1 418.2)"/><rect x="607.4" y="384.1" width="12.6" height="6.3" fill="#3fb39c" opacity="0.73" transform="rotate(-9.6 613.7 387.2)"/><rect x="610.5" y="382.0" width="8.3" height="4.2" fill="#6a9d90" opacity="0.71" transform="rotate(-9.6 614.7 384.0)"/><rect x="642.2" y="371.6" width="7.9" height="3.9" fill="#86b8aa" opacity="0.74" transform="rotate(-9.6 646.2 373.6)"/><rect x="618.2" y="381.5" width="11.9" height="6.0" fill="#a8d2c6" opacity="1.00" transform="rotate(-9.6 624.2 384.5)"/><rect x="680.3" y="369.7" width="8.5" height="4.2" fill="#c0c8c4" opacity="0.80" transform="rotate(-12.6 684.5 371.8)"/><rect x="601.4" y="368.2" width="11.0" height="5.5" fill="#6a9d90" opacity="0.95" transform="rotate(-9.6 606.9 370.9)"/><rect x="263.3" y="424.3" width="10.1" height="5.0" fill="#6a9d90" opacity="0.70" transform="rotate(-7.6 268.4 426.8)"/><rect x="578.1" y="378.1" width="11.5" height="5.7" fill="#3fb39c" opacity="0.73" transform="rotate(-9.6 583.9 381.0)"/><rect x="646.3" y="375.1" width="12.6" height="6.3" fill="#6a9d90" opacity="0.86" transform="rotate(-9.6 652.7 378.2)"/><rect x="304.9" y="429.9" width="8.2" height="4.1" fill="#3fb39c" opacity="0.65" transform="rotate(-7.6 309.0 432.0)"/><rect x="441.3" y="407.7" width="7.8" height="3.9" fill="#3fb39c" opacity="0.99" transform="rotate(-9.6 445.2 409.7)"/><rect x="490.5" y="398.4" width="12.3" height="6.2" fill="#3fb39c" opacity="0.71" transform="rotate(-9.6 496.6 401.4)"/><rect x="380.9" y="407.6" width="11.3" height="5.7" fill="#6a9d90" opacity="0.97" transform="rotate(-8.4 386.6 410.4)"/><rect x="768.7" y="339.4" width="11.7" height="5.9" fill="#a8d2c6" opacity="0.95" transform="rotate(-7.1 774.5 342.3)"/><rect x="339.8" y="416.2" width="10.3" height="5.2" fill="#a8d2c6" opacity="0.76" transform="rotate(-8.4 344.9 418.7)"/><rect x="724.0" y="358.2" width="12.8" height="6.4" fill="#3fb39c" opacity="0.75" transform="rotate(-7.1 730.4 361.4)"/><rect x="402.6" y="415.3" width="12.7" height="6.4" fill="#eef6f2" opacity="0.69" transform="rotate(-8.4 408.9 418.5)"/><rect x="627.5" y="372.0" width="7.1" height="3.6" fill="#6a9d90" opacity="0.87" transform="rotate(-9.6 631.1 373.8)"/><rect x="350.6" y="412.2" width="12.9" height="6.5" fill="#c0c8c4" opacity="0.67" transform="rotate(-8.4 357.1 415.4)"/><rect x="295.5" y="435.5" width="8.0" height="4.0" fill="#c0c8c4" opacity="0.77" transform="rotate(-7.6 299.5 437.5)"/><rect x="319.6" y="431.0" width="8.2" height="4.1" fill="#3fb39c" opacity="0.71" transform="rotate(-7.6 323.7 433.1)"/><rect x="453.3" y="399.0" width="6.6" height="3.3" fill="#86b8aa" opacity="0.75" transform="rotate(-9.6 456.6 400.7)"/><rect x="376.5" y="405.6" width="6.5" height="3.3" fill="#eef6f2" opacity="0.87" transform="rotate(-8.4 379.7 407.2)"/><rect x="238.2" y="430.4" width="7.1" height="3.6" fill="#86b8aa" opacity="1.00" transform="rotate(-7.6 241.7 432.1)"/><rect x="455.8" y="392.0" width="8.8" height="4.4" fill="#6a9d90" opacity="0.82" transform="rotate(-9.6 460.2 394.2)"/><rect x="350.9" y="419.3" width="12.6" height="6.3" fill="#eef6f2" opacity="0.71" transform="rotate(-8.4 357.2 422.4)"/><rect x="742.1" y="356.1" width="14.0" height="7.0" fill="#c0c8c4" opacity="0.83" transform="rotate(-7.1 749.1 359.6)"/><rect x="741.9" y="342.2" width="12.9" height="6.4" fill="#3fb39c" opacity="0.82" transform="rotate(-7.1 748.4 345.4)"/><rect x="602.1" y="374.0" width="6.2" height="3.1" fill="#eef6f2" opacity="0.63" transform="rotate(-9.6 605.2 375.6)"/><rect x="490.8" y="404.1" width="6.5" height="3.3" fill="#1f8f7a" opacity="0.60" transform="rotate(-9.6 494.0 405.7)"/><rect x="520.8" y="395.7" width="12.3" height="6.2" fill="#c0c8c4" opacity="0.76" transform="rotate(-9.0 527.0 398.8)"/><rect x="670.3" y="369.6" width="12.1" height="6.1" fill="#a8d2c6" opacity="0.97" transform="rotate(-12.6 676.4 372.6)"/><rect x="498.0" y="401.0" width="9.3" height="4.6" fill="#d3e6de" opacity="0.60" transform="rotate(-9.6 502.7 403.3)"/><rect x="310.2" y="419.1" width="11.8" height="5.9" fill="#eef6f2" opacity="0.92" transform="rotate(-7.6 316.1 422.1)"/><rect x="434.1" y="408.0" width="8.8" height="4.4" fill="#eef6f2" opacity="0.63" transform="rotate(-9.6 438.5 410.2)"/><rect x="590.5" y="381.4" width="8.1" height="4.1" fill="#86b8aa" opacity="0.90" transform="rotate(-9.6 594.6 383.5)"/><rect x="350.5" y="422.8" width="10.4" height="5.2" fill="#86b8aa" opacity="0.67" transform="rotate(-8.4 355.6 425.4)"/><rect x="292.1" y="418.5" width="8.8" height="4.4" fill="#6a9d90" opacity="0.61" transform="rotate(-7.6 296.5 420.7)"/><rect x="452.1" y="393.7" width="6.8" height="3.4" fill="#86b8aa" opacity="0.61" transform="rotate(-9.6 455.5 395.4)"/><rect x="328.2" y="411.5" width="10.7" height="5.4" fill="#1f8f7a" opacity="0.77" transform="rotate(-8.4 333.6 414.2)"/><rect x="756.0" y="344.6" width="9.3" height="4.6" fill="#3fb39c" opacity="0.93" transform="rotate(-7.1 760.6 346.9)"/><rect x="271.0" y="425.2" width="13.4" height="6.7" fill="#3fb39c" opacity="0.91" transform="rotate(-7.6 277.7 428.6)"/><rect x="517.4" y="380.7" width="11.8" height="5.9" fill="#6a9d90" opacity="0.96" transform="rotate(-9.0 523.4 383.6)"/><rect x="266.0" y="432.3" width="8.8" height="4.4" fill="#c0c8c4" opacity="0.94" transform="rotate(-7.6 270.4 434.5)"/><rect x="575.7" y="381.4" width="10.5" height="5.3" fill="#a8d2c6" opacity="0.65" transform="rotate(-9.6 581.0 384.1)"/><rect x="636.5" y="376.0" width="9.5" height="4.7" fill="#c0c8c4" opacity="0.77" transform="rotate(-9.6 641.2 378.4)"/><rect x="442.5" y="397.6" width="10.8" height="5.4" fill="#d3e6de" opacity="0.81" transform="rotate(-9.6 447.9 400.3)"/><rect x="253.1" y="434.0" width="9.6" height="4.8" fill="#d3e6de" opacity="0.84" transform="rotate(-7.6 257.9 436.4)"/><rect x="738.7" y="345.4" width="9.7" height="4.9" fill="#eef6f2" opacity="0.90" transform="rotate(-7.1 743.6 347.8)"/><rect x="403.8" y="413.5" width="13.9" height="7.0" fill="#6a9d90" opacity="0.62" transform="rotate(-8.4 410.8 416.9)"/><rect x="758.2" y="352.4" width="13.2" height="6.6" fill="#a8d2c6" opacity="0.69" transform="rotate(-7.1 764.8 355.7)"/><rect x="688.8" y="361.6" width="13.5" height="6.8" fill="#a8d2c6" opacity="0.92" transform="rotate(-12.6 695.6 365.0)"/><rect x="515.8" y="402.0" width="6.5" height="3.3" fill="#d3e6de" opacity="0.88" transform="rotate(-9.0 519.1 403.7)"/><rect x="372.4" y="421.0" width="9.6" height="4.8" fill="#d3e6de" opacity="0.95" transform="rotate(-8.4 377.2 423.5)"/><rect x="340.3" y="414.2" width="11.1" height="5.6" fill="#a8d2c6" opacity="0.64" transform="rotate(-8.4 345.9 417.0)"/><rect x="837.8" y="338.4" width="8.3" height="4.2" fill="#3f9f88" opacity="0.88" transform="rotate(-11.5 841.9 340.5)"/><rect x="984.3" y="303.5" width="8.1" height="4.0" fill="#2a8f78" opacity="0.54" transform="rotate(-10.0 988.3 305.5)"/><rect x="1073.0" y="286.2" width="9.7" height="4.8" fill="#3f9f88" opacity="0.84" transform="rotate(-10.6 1077.8 288.6)"/><rect x="1089.1" y="285.4" width="7.7" height="3.8" fill="#1f6f60" opacity="0.61" transform="rotate(-10.6 1092.9 287.3)"/><rect x="943.8" y="317.6" width="12.2" height="6.1" fill="#a8d0c2" opacity="0.55" transform="rotate(-11.3 949.9 320.7)"/><rect x="872.6" y="320.9" width="12.8" height="6.4" fill="#3f9f88" opacity="0.80" transform="rotate(-11.3 879.0 324.1)"/><rect x="910.2" y="319.0" width="10.0" height="5.0" fill="#2a8f78" opacity="0.82" transform="rotate(-11.3 915.2 321.5)"/><rect x="975.8" y="307.0" width="6.8" height="3.4" fill="#a8d0c2" opacity="0.71" transform="rotate(-10.0 979.2 308.7)"/><rect x="941.1" y="314.3" width="11.6" height="5.8" fill="#3f9f88" opacity="0.54" transform="rotate(-11.3 946.8 317.2)"/><rect x="992.5" y="310.5" width="6.9" height="3.5" fill="#5f9a8a" opacity="0.67" transform="rotate(-10.0 996.0 312.2)"/><rect x="810.6" y="343.9" width="10.1" height="5.1" fill="#5f9a8a" opacity="0.83" transform="rotate(-11.5 815.7 346.5)"/><rect x="1038.3" y="301.3" width="10.6" height="5.3" fill="#a8d0c2" opacity="0.49" transform="rotate(-10.6 1043.6 304.0)"/><rect x="826.3" y="334.3" width="6.6" height="3.3" fill="#1f6f60" opacity="0.49" transform="rotate(-11.5 829.6 335.9)"/><rect x="893.3" y="329.8" width="11.5" height="5.7" fill="#a8d0c2" opacity="0.81" transform="rotate(-11.3 899.1 332.6)"/><rect x="1047.4" y="298.0" width="9.7" height="4.8" fill="#3f9f88" opacity="0.80" transform="rotate(-10.6 1052.3 300.4)"/><rect x="1056.2" y="289.2" width="8.8" height="4.4" fill="#a8d0c2" opacity="0.53" transform="rotate(-10.6 1060.6 291.4)"/><rect x="914.0" y="317.7" width="8.8" height="4.4" fill="#1f6f60" opacity="0.61" transform="rotate(-11.3 918.4 319.9)"/><rect x="887.8" y="328.5" width="10.3" height="5.1" fill="#3f9f88" opacity="0.65" transform="rotate(-11.3 893.0 331.1)"/><rect x="1007.0" y="306.8" width="12.3" height="6.1" fill="#a8d0c2" opacity="0.52" transform="rotate(-10.0 1013.2 309.9)"/><rect x="830.8" y="340.1" width="10.6" height="5.3" fill="#a8d0c2" opacity="0.45" transform="rotate(-11.5 836.1 342.8)"/><rect x="961.0" y="315.4" width="9.8" height="4.9" fill="#7fb8a8" opacity="0.80" transform="rotate(-10.0 965.9 317.9)"/><rect x="1031.5" y="298.0" width="8.8" height="4.4" fill="#5f9a8a" opacity="0.70" transform="rotate(-10.0 1035.9 300.2)"/><rect x="1063.4" y="296.2" width="11.9" height="5.9" fill="#3f9f88" opacity="0.55" transform="rotate(-10.6 1069.4 299.1)"/><rect x="1058.7" y="290.0" width="8.6" height="4.3" fill="#1f6f60" opacity="0.58" transform="rotate(-10.6 1063.0 292.1)"/><rect x="795.7" y="347.9" width="12.5" height="6.3" fill="#5f9a8a" opacity="0.78" transform="rotate(-11.5 802.0 351.0)"/><rect x="1096.8" y="285.8" width="12.5" height="6.3" fill="#2a8f78" opacity="0.88" transform="rotate(-10.6 1103.0 289.0)"/><rect x="829.3" y="337.3" width="13.0" height="6.5" fill="#3f9f88" opacity="0.51" transform="rotate(-11.5 835.8 340.5)"/><rect x="877.7" y="330.0" width="6.5" height="3.2" fill="#2a8f78" opacity="0.49" transform="rotate(-11.3 880.9 331.6)"/><rect x="865.7" y="328.9" width="7.2" height="3.6" fill="#1f6f60" opacity="0.63" transform="rotate(-11.3 869.3 330.7)"/><rect x="945.0" y="316.2" width="13.0" height="6.5" fill="#7fb8a8" opacity="0.57" transform="rotate(-11.3 951.5 319.5)"/><rect x="920.6" y="322.3" width="10.0" height="5.0" fill="#a8d0c2" opacity="0.57" transform="rotate(-11.3 925.6 324.8)"/><rect x="848.4" y="329.9" width="7.0" height="3.5" fill="#1f6f60" opacity="0.74" transform="rotate(-11.5 851.9 331.6)"/><rect x="807.8" y="345.9" width="8.3" height="4.1" fill="#1f6f60" opacity="0.57" transform="rotate(-11.5 811.9 348.0)"/><rect x="1051.5" y="298.4" width="9.7" height="4.9" fill="#7fb8a8" opacity="0.55" transform="rotate(-10.6 1056.3 300.8)"/><rect x="800.9" y="342.1" width="11.4" height="5.7" fill="#2a8f78" opacity="0.52" transform="rotate(-11.5 806.7 345.0)"/><rect x="1098.9" y="281.5" width="8.5" height="4.3" fill="#5f9a8a" opacity="0.87" transform="rotate(-10.6 1103.1 283.7)"/><rect x="939.6" y="318.9" width="9.5" height="4.8" fill="#a8d0c2" opacity="0.84" transform="rotate(-11.3 944.4 321.3)"/><rect x="1001.9" y="304.6" width="6.1" height="3.1" fill="#1f6f60" opacity="0.87" transform="rotate(-10.0 1005.0 306.1)"/><rect x="1053.7" y="297.3" width="7.4" height="3.7" fill="#7fb8a8" opacity="0.63" transform="rotate(-10.6 1057.4 299.2)"/><rect x="1025.1" y="302.4" width="10.0" height="5.0" fill="#2a8f78" opacity="0.55" transform="rotate(-10.0 1030.1 304.9)"/><rect x="955.8" y="315.4" width="8.2" height="4.1" fill="#3f9f88" opacity="0.55" transform="rotate(-10.0 959.9 317.5)"/><rect x="1010.7" y="299.5" width="9.7" height="4.8" fill="#1f6f60" opacity="0.87" transform="rotate(-10.0 1015.6 301.9)"/><rect x="946.4" y="311.8" width="7.0" height="3.5" fill="#a8d0c2" opacity="0.73" transform="rotate(-11.3 949.9 313.6)"/><rect x="979.5" y="307.6" width="9.7" height="4.8" fill="#1f6f60" opacity="0.81" transform="rotate(-10.0 984.3 310.0)"/><rect x="945.0" y="316.3" width="8.0" height="4.0" fill="#1f6f60" opacity="0.58" transform="rotate(-11.3 949.0 318.3)"/><rect x="1078.4" y="283.6" width="10.6" height="5.3" fill="#5f9a8a" opacity="0.71" transform="rotate(-10.6 1083.7 286.3)"/><rect x="845.6" y="328.4" width="12.9" height="6.5" fill="#3f9f88" opacity="0.53" transform="rotate(-11.5 852.1 331.6)"/><rect x="800.3" y="344.9" width="7.2" height="3.6" fill="#a8d0c2" opacity="0.70" transform="rotate(-11.5 803.9 346.7)"/><rect x="857.4" y="325.6" width="10.8" height="5.4" fill="#a8d0c2" opacity="0.67" transform="rotate(-11.3 862.8 328.3)"/><rect x="838.6" y="334.5" width="10.5" height="5.2" fill="#a8d0c2" opacity="0.58" transform="rotate(-11.5 843.8 337.1)"/><rect x="843.2" y="339.8" width="8.3" height="4.2" fill="#1f6f60" opacity="0.76" transform="rotate(-11.5 847.4 341.9)"/><rect x="956.0" y="317.6" width="8.6" height="4.3" fill="#7fb8a8" opacity="0.75" transform="rotate(-10.0 960.3 319.8)"/><rect x="1022.8" y="300.8" width="12.4" height="6.2" fill="#3f9f88" opacity="0.63" transform="rotate(-10.0 1029.0 303.9)"/><rect x="808.7" y="348.7" width="7.8" height="3.9" fill="#3f9f88" opacity="0.66" transform="rotate(-11.5 812.6 350.6)"/><rect x="1071.4" y="296.8" width="7.1" height="3.5" fill="#2a8f78" opacity="0.46" transform="rotate(-10.6 1075.0 298.6)"/><rect x="892.0" y="319.1" width="8.0" height="4.0" fill="#3f9f88" opacity="0.88" transform="rotate(-11.3 896.0 321.1)"/><rect x="979.0" y="305.7" width="10.4" height="5.2" fill="#7fb8a8" opacity="0.72" transform="rotate(-10.0 984.2 308.3)"/><rect x="818.3" y="343.4" width="11.5" height="5.7" fill="#3f9f88" opacity="0.47" transform="rotate(-11.5 824.0 346.3)"/><rect x="999.1" y="307.8" width="8.4" height="4.2" fill="#1f6f60" opacity="0.70" transform="rotate(-10.0 1003.3 309.9)"/><rect x="1033.2" y="296.2" width="9.6" height="4.8" fill="#5f9a8a" opacity="0.60" transform="rotate(-10.6 1038.0 298.6)"/><rect x="864.5" y="337.2" width="7.6" height="3.8" fill="#a8d0c2" opacity="0.62" transform="rotate(-11.3 868.3 339.1)"/><rect x="914.4" y="323.8" width="11.5" height="5.7" fill="#2a8f78" opacity="0.66" transform="rotate(-11.3 920.2 326.7)"/><rect x="999.8" y="308.9" width="9.4" height="4.7" fill="#3f9f88" opacity="0.66" transform="rotate(-10.0 1004.5 311.2)"/><rect x="1046.0" y="296.4" width="7.8" height="3.9" fill="#a8d0c2" opacity="0.76" transform="rotate(-10.6 1049.9 298.3)"/><rect x="888.8" y="321.4" width="11.9" height="5.9" fill="#2a8f78" opacity="0.54" transform="rotate(-11.3 894.7 324.4)"/><rect x="964.0" y="312.1" width="13.0" height="6.5" fill="#3f9f88" opacity="0.79" transform="rotate(-10.0 970.5 315.3)"/><rect x="1002.0" y="307.9" width="6.3" height="3.2" fill="#5f9a8a" opacity="0.50" transform="rotate(-10.0 1005.1 309.4)"/><rect x="996.5" y="298.6" width="11.5" height="5.7" fill="#a8d0c2" opacity="0.82" transform="rotate(-10.0 1002.2 301.5)"/><rect x="1054.0" y="288.3" width="12.1" height="6.1" fill="#1f6f60" opacity="0.75" transform="rotate(-10.6 1060.0 291.3)"/><rect x="1076.8" y="288.9" width="8.4" height="4.2" fill="#5f9a8a" opacity="0.54" transform="rotate(-10.6 1081.0 291.0)"/><rect x="1096.5" y="288.0" width="11.7" height="5.8" fill="#5f9a8a" opacity="0.63" transform="rotate(-10.6 1102.4 290.9)"/><rect x="1073.5" y="293.0" width="11.3" height="5.6" fill="#7fb8a8" opacity="0.55" transform="rotate(-10.6 1079.2 295.8)"/><rect x="1026.4" y="300.9" width="9.0" height="4.5" fill="#2a8f78" opacity="0.64" transform="rotate(-10.0 1030.9 303.1)"/><rect x="1001.3" y="305.0" width="8.6" height="4.3" fill="#2a8f78" opacity="0.77" transform="rotate(-10.0 1005.6 307.1)"/><rect x="994.8" y="303.6" width="6.3" height="3.1" fill="#7fb8a8" opacity="0.77" transform="rotate(-10.0 997.9 305.1)"/><rect x="840.2" y="339.4" width="8.3" height="4.1" fill="#a8d0c2" opacity="0.50" transform="rotate(-11.5 844.4 341.5)"/><rect x="1058.0" y="297.1" width="11.8" height="5.9" fill="#1f6f60" opacity="0.49" transform="rotate(-10.6 1063.9 300.0)"/><rect x="849.4" y="329.3" width="12.2" height="6.1" fill="#a8d0c2" opacity="0.63" transform="rotate(-11.5 855.5 332.4)"/><rect x="800.5" y="342.6" width="8.2" height="4.1" fill="#5f9a8a" opacity="0.54" transform="rotate(-11.5 804.7 344.6)"/><rect x="1050.5" y="290.3" width="6.6" height="3.3" fill="#5f9a8a" opacity="0.75" transform="rotate(-10.6 1053.8 292.0)"/><rect x="961.9" y="312.9" width="7.1" height="3.6" fill="#1f6f60" opacity="0.45" transform="rotate(-10.0 965.5 314.7)"/><rect x="958.2" y="317.2" width="11.9" height="5.9" fill="#7fb8a8" opacity="0.70" transform="rotate(-10.0 964.1 320.2)"/><rect x="1052.0" y="295.3" width="12.7" height="6.4" fill="#a8d0c2" opacity="0.55" transform="rotate(-10.6 1058.4 298.4)"/><rect x="823.5" y="340.1" width="8.7" height="4.4" fill="#7fb8a8" opacity="0.70" transform="rotate(-11.5 827.8 342.3)"/><rect x="1064.9" y="292.0" width="10.9" height="5.4" fill="#a8d0c2" opacity="0.76" transform="rotate(-10.6 1070.3 294.7)"/><rect x="931.2" y="317.0" width="6.3" height="3.1" fill="#5f9a8a" opacity="0.56" transform="rotate(-11.3 934.4 318.6)"/><rect x="796.9" y="347.0" width="11.1" height="5.6" fill="#5f9a8a" opacity="0.85" transform="rotate(-11.5 802.4 349.7)"/><rect x="991.9" y="303.4" width="10.4" height="5.2" fill="#7fb8a8" opacity="0.76" transform="rotate(-10.0 997.1 306.0)"/><rect x="793.9" y="339.6" width="8.3" height="4.2" fill="#2a8f78" opacity="0.66" transform="rotate(-7.1 798.0 341.7)"/><rect x="956.3" y="317.4" width="8.8" height="4.4" fill="#2a8f78" opacity="0.79" transform="rotate(-10.0 960.7 319.6)"/><rect x="798.0" y="344.5" width="8.9" height="4.5" fill="#7fb8a8" opacity="0.89" transform="rotate(-11.5 802.5 346.7)"/><rect x="864.5" y="333.1" width="8.2" height="4.1" fill="#5f9a8a" opacity="0.47" transform="rotate(-11.3 868.7 335.2)"/><rect x="945.9" y="318.5" width="10.2" height="5.1" fill="#a8d0c2" opacity="0.74" transform="rotate(-11.3 951.0 321.1)"/><rect x="903.4" y="327.2" width="9.5" height="4.8" fill="#1f6f60" opacity="0.50" transform="rotate(-11.3 908.2 329.6)"/><rect x="987.1" y="310.0" width="6.3" height="3.2" fill="#7fb8a8" opacity="0.70" transform="rotate(-10.0 990.2 311.6)"/><rect x="844.6" y="329.2" width="11.6" height="5.8" fill="#1f6f60" opacity="0.66" transform="rotate(-11.5 850.4 332.1)"/><rect x="978.8" y="303.6" width="13.0" height="6.5" fill="#3f9f88" opacity="0.68" transform="rotate(-10.0 985.2 306.8)"/><rect x="1101.5" y="282.5" width="10.9" height="5.5" fill="#3f9f88" opacity="0.72" transform="rotate(-10.6 1106.9 285.2)"/><rect x="1092.8" y="288.0" width="8.5" height="4.3" fill="#1f6f60" opacity="0.60" transform="rotate(-10.6 1097.1 290.1)"/><rect x="932.8" y="315.3" width="9.5" height="4.7" fill="#3f9f88" opacity="0.64" transform="rotate(-11.3 937.5 317.6)"/><rect x="906.2" y="318.4" width="6.2" height="3.1" fill="#3f9f88" opacity="0.82" transform="rotate(-11.3 909.3 320.0)"/><rect x="984.2" y="307.5" width="8.2" height="4.1" fill="#3f9f88" opacity="0.50" transform="rotate(-10.0 988.3 309.6)"/><rect x="1080.0" y="286.3" width="12.4" height="6.2" fill="#7fb8a8" opacity="0.80" transform="rotate(-10.6 1086.2 289.4)"/><rect x="805.5" y="338.9" width="9.0" height="4.5" fill="#1f6f60" opacity="0.62" transform="rotate(-11.5 810.0 341.2)"/><rect x="896.3" y="324.3" width="11.0" height="5.5" fill="#2a8f78" opacity="0.83" transform="rotate(-11.3 901.8 327.0)"/><rect x="886.7" y="324.5" width="7.6" height="3.8" fill="#7fb8a8" opacity="0.75" transform="rotate(-11.3 890.5 326.4)"/><rect x="1106.5" y="288.1" width="10.1" height="5.1" fill="#3f9f88" opacity="0.85" transform="rotate(-10.6 1111.6 290.7)"/><rect x="857.3" y="330.7" width="6.3" height="3.1" fill="#a8d0c2" opacity="0.71" transform="rotate(-11.3 860.4 332.3)"/><rect x="868.0" y="324.6" width="9.4" height="4.7" fill="#3f9f88" opacity="0.74" transform="rotate(-11.3 872.7 327.0)"/><rect x="830.3" y="342.8" width="7.8" height="3.9" fill="#a8d0c2" opacity="0.72" transform="rotate(-11.5 834.2 344.8)"/><rect x="983.0" y="311.2" width="10.2" height="5.1" fill="#1f6f60" opacity="0.71" transform="rotate(-10.0 988.1 313.8)"/><rect x="842.3" y="331.6" width="9.3" height="4.7" fill="#5f9a8a" opacity="0.58" transform="rotate(-11.5 846.9 333.9)"/><rect x="1043.8" y="295.8" width="10.1" height="5.0" fill="#a8d0c2" opacity="0.65" transform="rotate(-10.6 1048.9 298.3)"/><rect x="1070.6" y="291.0" width="10.7" height="5.3" fill="#1f6f60" opacity="0.83" transform="rotate(-10.6 1075.9 293.7)"/><rect x="892.0" y="319.5" width="7.2" height="3.6" fill="#5f9a8a" opacity="0.73" transform="rotate(-11.3 895.6 321.3)"/><rect x="1011.1" y="299.2" width="9.9" height="4.9" fill="#a8d0c2" opacity="0.77" transform="rotate(-10.0 1016.1 301.6)"/><rect x="1084.1" y="284.2" width="7.2" height="3.6" fill="#3f9f88" opacity="0.77" transform="rotate(-10.6 1087.7 286.0)"/><rect x="809.2" y="346.2" width="7.2" height="3.6" fill="#7fb8a8" opacity="0.60" transform="rotate(-11.5 812.8 348.0)"/><rect x="1051.3" y="299.0" width="10.4" height="5.2" fill="#3f9f88" opacity="0.80" transform="rotate(-10.6 1056.5 301.6)"/><rect x="779.2" y="341.2" width="11.8" height="5.9" fill="#2a8f78" opacity="0.84" transform="rotate(-7.1 785.1 344.2)"/></g><path d="M240,439 L347,401 L442,377" stroke="#1db9a2" stroke-width="13" fill="none" stroke-linecap="round"/><path d="M442,377 L538,354 L645,327" stroke="#1db9a2" stroke-width="8" fill="none" stroke-linecap="round"/><path d="M645,327 L700,310 L759,294 L819,275 L858,261" stroke="#1db9a2" stroke-width="12" fill="none" stroke-linecap="round"/><path d="M240,438 L347,400 L442,376 L538,353 L652,324 L700,309 L759,293 L819,274 L855,262" stroke="#4fe3cc" stroke-width="5" fill="none" stroke-linecap="round"/><rect x="530.5" y="354.5" width="6.5" height="3.3" fill="#e8fffa" opacity="0.75" transform="rotate(-13.5 533.8 356.2)"/><rect x="852.7" y="259.0" width="6.4" height="3.2" fill="#0fa08c" opacity="0.88" transform="rotate(-19.7 855.9 260.7)"/><rect x="609.5" y="333.7" width="6.5" height="3.3" fill="#e8fffa" opacity="0.99" transform="rotate(-14.3 612.8 335.4)"/><rect x="464.0" y="368.8" width="4.5" height="2.3" fill="#9ee9da" opacity="0.93" transform="rotate(-13.5 466.3 369.9)"/><rect x="283.3" y="423.2" width="5.1" height="2.5" fill="#0fa08c" opacity="0.92" transform="rotate(-19.6 285.8 424.5)"/><rect x="290.6" y="421.8" width="7.2" height="3.6" fill="#9ee9da" opacity="0.69" transform="rotate(-19.6 294.2 423.6)"/><rect x="848.7" y="260.5" width="5.6" height="2.8" fill="#0fa08c" opacity="0.99" transform="rotate(-19.7 851.5 261.9)"/><rect x="571.6" y="345.9" width="6.1" height="3.0" fill="#bff7ec" opacity="0.82" transform="rotate(-14.3 574.7 347.4)"/><rect x="550.1" y="345.6" width="6.3" height="3.1" fill="#9ee9da" opacity="0.79" transform="rotate(-14.3 553.2 347.1)"/><rect x="614.4" y="332.4" width="6.4" height="3.2" fill="#bff7ec" opacity="0.99" transform="rotate(-14.3 617.7 334.0)"/><rect x="841.3" y="264.6" width="5.2" height="2.6" fill="#2fd8bf" opacity="0.95" transform="rotate(-19.7 843.9 265.9)"/><rect x="475.1" y="365.9" width="4.7" height="2.4" fill="#2fd8bf" opacity="0.75" transform="rotate(-13.5 477.4 367.1)"/><rect x="554.1" y="349.9" width="5.8" height="2.9" fill="#bff7ec" opacity="0.75" transform="rotate(-14.3 557.0 351.4)"/><rect x="769.3" y="285.5" width="3.7" height="1.9" fill="#0fa08c" opacity="0.62" transform="rotate(-17.6 771.2 286.4)"/><rect x="361.3" y="395.7" width="6.9" height="3.5" fill="#e8fffa" opacity="0.67" transform="rotate(-14.2 364.7 397.4)"/><rect x="667.9" y="314.7" width="4.8" height="2.4" fill="#2fd8bf" opacity="0.84" transform="rotate(-18.4 670.3 315.9)"/><rect x="687.0" y="311.3" width="5.2" height="2.6" fill="#2fd8bf" opacity="0.71" transform="rotate(-18.4 689.6 312.6)"/><rect x="532.5" y="356.6" width="5.7" height="2.9" fill="#e8fffa" opacity="0.79" transform="rotate(-13.5 535.3 358.0)"/><rect x="575.9" y="339.5" width="7.0" height="3.5" fill="#e8fffa" opacity="0.96" transform="rotate(-14.3 579.3 341.3)"/><rect x="239.9" y="433.9" width="7.0" height="3.5" fill="#2fd8bf" opacity="0.67" transform="rotate(-19.6 243.4 435.6)"/><rect x="729.9" y="299.1" width="4.7" height="2.3" fill="#bff7ec" opacity="0.99" transform="rotate(-15.2 732.3 300.3)"/><rect x="855.2" y="259.4" width="3.7" height="1.9" fill="#2fd8bf" opacity="0.95" transform="rotate(-19.7 857.1 260.3)"/><rect x="652.0" y="321.8" width="4.1" height="2.1" fill="#9ee9da" opacity="0.80" transform="rotate(-18.4 654.1 322.8)"/><rect x="539.4" y="350.1" width="6.6" height="3.3" fill="#0fa08c" opacity="0.96" transform="rotate(-14.3 542.7 351.7)"/><rect x="334.1" y="400.6" width="7.4" height="3.7" fill="#2fd8bf" opacity="0.73" transform="rotate(-19.6 337.8 402.4)"/><rect x="771.3" y="287.6" width="5.6" height="2.8" fill="#e8fffa" opacity="0.89" transform="rotate(-17.6 774.1 289.0)"/><rect x="559.9" y="343.7" width="3.6" height="1.8" fill="#bff7ec" opacity="0.65" transform="rotate(-14.3 561.7 344.6)"/><rect x="786.3" y="282.0" width="4.7" height="2.3" fill="#0fa08c" opacity="0.79" transform="rotate(-17.6 788.7 283.2)"/><rect x="272.5" y="425.2" width="6.8" height="3.4" fill="#2fd8bf" opacity="0.90" transform="rotate(-19.6 275.9 426.9)"/><rect x="494.2" y="362.4" width="7.6" height="3.8" fill="#e8fffa" opacity="0.83" transform="rotate(-13.5 498.0 364.2)"/><rect x="450.2" y="371.5" width="6.8" height="3.4" fill="#9ee9da" opacity="0.66" transform="rotate(-13.5 453.7 373.2)"/><rect x="664.3" y="317.1" width="3.7" height="1.9" fill="#bff7ec" opacity="0.96" transform="rotate(-18.4 666.2 318.0)"/><rect x="800.1" y="277.3" width="7.1" height="3.5" fill="#0fa08c" opacity="0.92" transform="rotate(-17.6 803.6 279.1)"/><rect x="677.0" y="312.6" width="4.8" height="2.4" fill="#9ee9da" opacity="0.80" transform="rotate(-18.4 679.4 313.8)"/><rect x="615.2" y="330.1" width="6.2" height="3.1" fill="#0fa08c" opacity="0.83" transform="rotate(-14.3 618.3 331.6)"/><rect x="281.1" y="421.4" width="4.0" height="2.0" fill="#2fd8bf" opacity="0.66" transform="rotate(-19.6 283.1 422.4)"/><rect x="291.1" y="416.3" width="6.7" height="3.3" fill="#0fa08c" opacity="0.75" transform="rotate(-19.6 294.4 418.0)"/><rect x="255.2" y="431.1" width="5.6" height="2.8" fill="#e8fffa" opacity="0.62" transform="rotate(-19.6 258.0 432.5)"/><rect x="604.4" y="334.0" width="7.5" height="3.7" fill="#bff7ec" opacity="0.98" transform="rotate(-14.3 608.1 335.9)"/><rect x="241.9" y="434.9" width="4.8" height="2.4" fill="#e8fffa" opacity="0.88" transform="rotate(-19.6 244.3 436.2)"/><rect x="419.7" y="381.2" width="4.2" height="2.1" fill="#2fd8bf" opacity="0.66" transform="rotate(-14.2 421.8 382.2)"/><rect x="523.8" y="355.5" width="7.3" height="3.7" fill="#e8fffa" opacity="0.78" transform="rotate(-13.5 527.4 357.3)"/><rect x="722.2" y="297.5" width="7.0" height="3.5" fill="#0fa08c" opacity="0.82" transform="rotate(-15.2 725.7 299.3)"/><rect x="707.9" y="303.7" width="6.6" height="3.3" fill="#bff7ec" opacity="0.99" transform="rotate(-15.2 711.2 305.3)"/><rect x="580.7" y="342.5" width="5.1" height="2.6" fill="#bff7ec" opacity="0.73" transform="rotate(-14.3 583.3 343.7)"/><rect x="546.6" y="348.9" width="5.0" height="2.5" fill="#e8fffa" opacity="0.79" transform="rotate(-14.3 549.1 350.2)"/><rect x="732.5" y="295.8" width="5.8" height="2.9" fill="#0fa08c" opacity="0.92" transform="rotate(-15.2 735.4 297.2)"/><rect x="413.0" y="385.5" width="6.2" height="3.1" fill="#0fa08c" opacity="0.93" transform="rotate(-14.2 416.1 387.1)"/><rect x="726.9" y="300.7" width="4.3" height="2.1" fill="#2fd8bf" opacity="0.86" transform="rotate(-15.2 729.0 301.8)"/><rect x="758.6" y="290.9" width="7.1" height="3.5" fill="#0fa08c" opacity="0.77" transform="rotate(-17.6 762.1 292.7)"/><rect x="644.5" y="323.2" width="7.0" height="3.5" fill="#0fa08c" opacity="0.75" transform="rotate(-14.3 648.0 325.0)"/><rect x="484.9" y="367.5" width="4.3" height="2.2" fill="#e8fffa" opacity="0.93" transform="rotate(-13.5 487.0 368.5)"/><rect x="302.1" y="411.6" width="7.5" height="3.8" fill="#2fd8bf" opacity="0.99" transform="rotate(-19.6 305.9 413.5)"/><rect x="803.1" y="277.5" width="7.4" height="3.7" fill="#2fd8bf" opacity="0.93" transform="rotate(-17.6 806.8 279.4)"/><rect x="367.7" y="397.6" width="3.7" height="1.9" fill="#2fd8bf" opacity="0.62" transform="rotate(-14.2 369.5 398.5)"/><rect x="739.1" y="294.8" width="4.5" height="2.2" fill="#2fd8bf" opacity="0.97" transform="rotate(-15.2 741.4 296.0)"/><rect x="844.3" y="263.8" width="6.0" height="3.0" fill="#bff7ec" opacity="0.84" transform="rotate(-19.7 847.3 265.3)"/><rect x="299.6" y="417.0" width="6.0" height="3.0" fill="#0fa08c" opacity="0.64" transform="rotate(-19.6 302.6 418.4)"/><rect x="240.0" y="433.2" width="5.3" height="2.7" fill="#0fa08c" opacity="0.85" transform="rotate(-19.6 242.6 434.5)"/><rect x="526.5" y="355.8" width="5.3" height="2.7" fill="#0fa08c" opacity="0.96" transform="rotate(-13.5 529.2 357.1)"/><rect x="256.3" y="434.9" width="3.7" height="1.8" fill="#e8fffa" opacity="0.80" transform="rotate(-19.6 258.1 435.8)"/><rect x="766.2" y="288.6" width="7.8" height="3.9" fill="#0fa08c" opacity="0.82" transform="rotate(-17.6 770.1 290.6)"/><rect x="833.2" y="266.5" width="3.9" height="2.0" fill="#e8fffa" opacity="0.74" transform="rotate(-19.7 835.1 267.5)"/><rect x="377.9" y="389.9" width="7.1" height="3.6" fill="#bff7ec" opacity="0.97" transform="rotate(-14.2 381.4 391.7)"/><rect x="256.3" y="432.4" width="6.1" height="3.0" fill="#bff7ec" opacity="0.84" transform="rotate(-19.6 259.4 433.9)"/><rect x="601.0" y="337.6" width="6.4" height="3.2" fill="#0fa08c" opacity="0.90" transform="rotate(-14.3 604.2 339.2)"/><rect x="499.1" y="361.8" width="5.0" height="2.5" fill="#e8fffa" opacity="0.76" transform="rotate(-13.5 501.6 363.0)"/><rect x="644.6" y="324.4" width="3.9" height="1.9" fill="#2fd8bf" opacity="0.66" transform="rotate(-14.3 646.5 325.3)"/><rect x="312.2" y="411.4" width="4.2" height="2.1" fill="#2fd8bf" opacity="0.61" transform="rotate(-19.6 314.3 412.5)"/><rect x="376.2" y="390.9" width="6.8" height="3.4" fill="#0fa08c" opacity="0.90" transform="rotate(-14.2 379.6 392.6)"/><rect x="445.1" y="372.6" width="7.4" height="3.7" fill="#0fa08c" opacity="0.74" transform="rotate(-13.5 448.8 374.4)"/><rect x="787.7" y="282.1" width="6.3" height="3.2" fill="#bff7ec" opacity="0.69" transform="rotate(-17.6 790.8 283.7)"/><rect x="475.7" y="368.2" width="4.2" height="2.1" fill="#9ee9da" opacity="0.87" transform="rotate(-13.5 477.8 369.3)"/><rect x="509.1" y="357.4" width="5.1" height="2.6" fill="#bff7ec" opacity="0.65" transform="rotate(-13.5 511.7 358.7)"/><rect x="601.0" y="336.0" width="5.2" height="2.6" fill="#e8fffa" opacity="0.84" transform="rotate(-14.3 603.6 337.3)"/><rect x="594.9" y="336.8" width="5.0" height="2.5" fill="#2fd8bf" opacity="0.96" transform="rotate(-14.3 597.3 338.1)"/><rect x="804.6" y="278.5" width="6.2" height="3.1" fill="#bff7ec" opacity="0.67" transform="rotate(-17.6 807.7 280.0)"/><rect x="483.6" y="362.9" width="5.0" height="2.5" fill="#2fd8bf" opacity="0.85" transform="rotate(-13.5 486.1 364.2)"/><rect x="768.4" y="285.9" width="5.1" height="2.5" fill="#0fa08c" opacity="0.62" transform="rotate(-17.6 771.0 287.1)"/><rect x="438.5" y="375.4" width="7.3" height="3.6" fill="#9ee9da" opacity="0.64" transform="rotate(-13.5 442.1 377.3)"/><rect x="389.8" y="389.8" width="8.0" height="4.0" fill="#2fd8bf" opacity="0.67" transform="rotate(-14.2 393.8 391.7)"/><rect x="506.7" y="357.2" width="7.3" height="3.7" fill="#e8fffa" opacity="0.68" transform="rotate(-13.5 510.4 359.0)"/><rect x="405.0" y="381.6" width="4.5" height="2.3" fill="#e8fffa" opacity="0.79" transform="rotate(-14.2 407.2 382.7)"/><rect x="829.3" y="266.8" width="7.7" height="3.9" fill="#0fa08c" opacity="0.78" transform="rotate(-19.7 833.1 268.7)"/><rect x="475.6" y="364.4" width="7.6" height="3.8" fill="#e8fffa" opacity="0.70" transform="rotate(-13.5 479.3 366.3)"/><rect x="563.1" y="347.0" width="5.8" height="2.9" fill="#9ee9da" opacity="0.94" transform="rotate(-14.3 566.0 348.5)"/><rect x="446.7" y="373.5" width="4.2" height="2.1" fill="#bff7ec" opacity="0.96" transform="rotate(-13.5 448.8 374.6)"/><rect x="725.0" y="298.5" width="7.9" height="3.9" fill="#0fa08c" opacity="0.66" transform="rotate(-15.2 729.0 300.5)"/><rect x="755.6" y="291.5" width="5.0" height="2.5" fill="#2fd8bf" opacity="0.77" transform="rotate(-15.2 758.1 292.8)"/><rect x="751.4" y="290.8" width="5.6" height="2.8" fill="#9ee9da" opacity="0.72" transform="rotate(-15.2 754.1 292.2)"/><rect x="331.5" y="400.0" width="7.3" height="3.6" fill="#0fa08c" opacity="0.80" transform="rotate(-19.6 335.1 401.9)"/><rect x="425.9" y="376.1" width="4.4" height="2.2" fill="#e8fffa" opacity="0.75" transform="rotate(-14.2 428.1 377.2)"/><rect x="563.0" y="343.0" width="7.8" height="3.9" fill="#2fd8bf" opacity="0.91" transform="rotate(-14.3 566.9 344.9)"/><rect x="311.9" y="407.7" width="7.3" height="3.7" fill="#bff7ec" opacity="0.92" transform="rotate(-19.6 315.5 409.5)"/><rect x="396.0" y="386.1" width="7.6" height="3.8" fill="#bff7ec" opacity="0.80" transform="rotate(-14.2 399.8 387.9)"/><rect x="559.5" y="349.6" width="6.1" height="3.0" fill="#bff7ec" opacity="0.77" transform="rotate(-14.3 562.5 351.1)"/><rect x="250.4" y="433.0" width="5.2" height="2.6" fill="#0fa08c" opacity="0.63" transform="rotate(-19.6 253.0 434.3)"/><rect x="576.2" y="345.1" width="5.6" height="2.8" fill="#9ee9da" opacity="0.76" transform="rotate(-14.3 579.0 346.5)"/><rect x="242.2" y="435.9" width="5.4" height="2.7" fill="#e8fffa" opacity="0.61" transform="rotate(-19.6 244.9 437.3)"/><rect x="729.9" y="298.6" width="6.3" height="3.2" fill="#2fd8bf" opacity="0.69" transform="rotate(-15.2 733.1 300.2)"/><rect x="488.5" y="365.6" width="6.9" height="3.4" fill="#9ee9da" opacity="0.63" transform="rotate(-13.5 491.9 367.3)"/><rect x="658.0" y="318.0" width="4.9" height="2.4" fill="#2fd8bf" opacity="0.88" transform="rotate(-18.4 660.4 319.2)"/><rect x="450.0" y="373.6" width="7.2" height="3.6" fill="#bff7ec" opacity="0.99" transform="rotate(-13.5 453.6 375.4)"/><rect x="323.6" y="408.4" width="4.2" height="2.1" fill="#9ee9da" opacity="0.81" transform="rotate(-19.6 325.7 409.5)"/><rect x="344.4" y="401.7" width="7.4" height="3.7" fill="#e8fffa" opacity="0.93" transform="rotate(-14.2 348.1 403.5)"/><rect x="248.0" y="430.4" width="5.6" height="2.8" fill="#0fa08c" opacity="0.88" transform="rotate(-19.6 250.8 431.8)"/><rect x="702.4" y="307.7" width="6.9" height="3.5" fill="#2fd8bf" opacity="0.77" transform="rotate(-15.2 705.8 309.4)"/><rect x="708.6" y="301.9" width="7.8" height="3.9" fill="#9ee9da" opacity="0.74" transform="rotate(-15.2 712.5 303.8)"/><rect x="417.2" y="382.2" width="5.2" height="2.6" fill="#2fd8bf" opacity="0.73" transform="rotate(-14.2 419.8 383.5)"/><rect x="587.8" y="339.4" width="5.9" height="3.0" fill="#9ee9da" opacity="0.96" transform="rotate(-14.3 590.8 340.8)"/><rect x="421.6" y="383.3" width="5.0" height="2.5" fill="#bff7ec" opacity="0.97" transform="rotate(-14.2 424.1 384.5)"/><rect x="382.8" y="389.7" width="7.0" height="3.5" fill="#e8fffa" opacity="0.95" transform="rotate(-14.2 386.4 391.4)"/><rect x="291.2" y="422.3" width="6.3" height="3.1" fill="#0fa08c" opacity="1.00" transform="rotate(-19.6 294.4 423.9)"/><rect x="847.3" y="260.9" width="4.8" height="2.4" fill="#bff7ec" opacity="0.77" transform="rotate(-19.7 849.7 262.1)"/><rect x="801.9" y="276.8" width="3.8" height="1.9" fill="#2fd8bf" opacity="0.86" transform="rotate(-17.6 803.8 277.8)"/><rect x="534.1" y="351.1" width="4.6" height="2.3" fill="#bff7ec" opacity="0.93" transform="rotate(-13.5 536.4 352.2)"/><rect x="651.1" y="322.3" width="7.2" height="3.6" fill="#e8fffa" opacity="0.81" transform="rotate(-18.4 654.6 324.1)"/><rect x="654.0" y="321.2" width="7.0" height="3.5" fill="#2fd8bf" opacity="0.99" transform="rotate(-18.4 657.5 323.0)"/><rect x="760.9" y="290.9" width="6.2" height="3.1" fill="#e8fffa" opacity="0.81" transform="rotate(-17.6 764.0 292.5)"/><rect x="683.1" y="316.0" width="4.1" height="2.1" fill="#0fa08c" opacity="0.69" transform="rotate(-18.4 685.2 317.1)"/><rect x="393.3" y="383.6" width="5.7" height="2.8" fill="#0fa08c" opacity="0.81" transform="rotate(-14.2 396.1 385.1)"/><rect x="505.6" y="359.3" width="4.5" height="2.2" fill="#9ee9da" opacity="0.86" transform="rotate(-13.5 507.8 360.4)"/><rect x="639.5" y="323.6" width="6.0" height="3.0" fill="#e8fffa" opacity="0.89" transform="rotate(-14.3 642.5 325.1)"/><rect x="626.5" y="331.2" width="3.8" height="1.9" fill="#0fa08c" opacity="0.89" transform="rotate(-14.3 628.4 332.1)"/><rect x="538.4" y="355.1" width="4.3" height="2.2" fill="#bff7ec" opacity="0.94" transform="rotate(-14.3 540.5 356.2)"/><rect x="522.4" y="359.1" width="6.1" height="3.0" fill="#e8fffa" opacity="0.66" transform="rotate(-13.5 525.4 360.7)"/><rect x="840.7" y="262.9" width="7.6" height="3.8" fill="#e8fffa" opacity="0.96" transform="rotate(-19.7 844.5 264.8)"/><rect x="556.9" y="347.6" width="5.9" height="3.0" fill="#2fd8bf" opacity="0.70" transform="rotate(-14.3 559.9 349.1)"/><rect x="478.6" y="365.8" width="7.6" height="3.8" fill="#9ee9da" opacity="0.95" transform="rotate(-13.5 482.4 367.7)"/><rect x="653.1" y="322.6" width="3.8" height="1.9" fill="#9ee9da" opacity="0.65" transform="rotate(-18.4 655.0 323.5)"/><rect x="358.0" y="394.9" width="7.4" height="3.7" fill="#e8fffa" opacity="0.87" transform="rotate(-14.2 361.7 396.7)"/><rect x="653.8" y="319.5" width="4.1" height="2.1" fill="#9ee9da" opacity="0.66" transform="rotate(-18.4 655.9 320.5)"/><rect x="420.2" y="378.1" width="5.5" height="2.8" fill="#9ee9da" opacity="0.93" transform="rotate(-14.2 423.0 379.4)"/><rect x="554.5" y="350.4" width="3.9" height="2.0" fill="#e8fffa" opacity="0.97" transform="rotate(-14.3 556.5 351.4)"/><rect x="251.1" y="430.2" width="7.8" height="3.9" fill="#e8fffa" opacity="0.64" transform="rotate(-19.6 255.0 432.1)"/><rect x="244.2" y="437.7" width="5.2" height="2.6" fill="#2fd8bf" opacity="0.89" transform="rotate(-19.6 246.9 439.0)"/><rect x="310.4" y="413.6" width="4.3" height="2.2" fill="#9ee9da" opacity="0.92" transform="rotate(-19.6 312.6 414.6)"/><rect x="295.6" y="418.0" width="7.2" height="3.6" fill="#0fa08c" opacity="0.75" transform="rotate(-19.6 299.2 419.8)"/><rect x="409.5" y="382.6" width="4.1" height="2.0" fill="#2fd8bf" opacity="0.71" transform="rotate(-14.2 411.5 383.6)"/><rect x="669.8" y="319.6" width="4.7" height="2.4" fill="#0fa08c" opacity="0.79" transform="rotate(-18.4 672.1 320.8)"/><rect x="239.4" y="433.7" width="3.6" height="1.8" fill="#e8fffa" opacity="0.78" transform="rotate(-19.6 241.2 434.6)"/><rect x="545.1" y="349.7" width="7.4" height="3.7" fill="#0fa08c" opacity="0.95" transform="rotate(-14.3 548.7 351.5)"/><rect x="711.7" y="303.6" width="3.9" height="1.9" fill="#e8fffa" opacity="0.84" transform="rotate(-15.2 713.7 304.6)"/><rect x="339.7" y="404.8" width="7.3" height="3.7" fill="#0fa08c" opacity="0.72" transform="rotate(-19.6 343.4 406.6)"/><rect x="421.5" y="382.6" width="3.8" height="1.9" fill="#e8fffa" opacity="0.73" transform="rotate(-14.2 423.4 383.5)"/><rect x="478.4" y="364.4" width="6.7" height="3.4" fill="#e8fffa" opacity="0.97" transform="rotate(-13.5 481.7 366.0)"/><rect x="735.4" y="297.3" width="3.9" height="2.0" fill="#2fd8bf" opacity="1.00" transform="rotate(-15.2 737.4 298.3)"/><rect x="240.9" y="436.1" width="5.2" height="2.6" fill="#2fd8bf" opacity="0.74" transform="rotate(-19.6 243.5 437.4)"/><rect x="249.7" y="432.0" width="4.6" height="2.3" fill="#e8fffa" opacity="0.62" transform="rotate(-19.6 252.0 433.2)"/><rect x="319.7" y="411.7" width="6.8" height="3.4" fill="#9ee9da" opacity="0.93" transform="rotate(-19.6 323.0 413.3)"/><rect x="694.7" y="307.3" width="4.1" height="2.0" fill="#e8fffa" opacity="0.61" transform="rotate(-18.4 696.7 308.4)"/><rect x="465.4" y="372.2" width="5.2" height="2.6" fill="#e8fffa" opacity="0.99" transform="rotate(-13.5 468.0 373.5)"/><rect x="623.3" y="328.1" width="4.0" height="2.0" fill="#9ee9da" opacity="0.74" transform="rotate(-14.3 625.3 329.0)"/><rect x="532.8" y="351.0" width="4.4" height="2.2" fill="#0fa08c" opacity="0.73" transform="rotate(-13.5 535.0 352.1)"/><rect x="299.5" y="417.9" width="4.9" height="2.5" fill="#bff7ec" opacity="0.97" transform="rotate(-19.6 302.0 419.2)"/><rect x="252.9" y="427.7" width="5.9" height="2.9" fill="#e8fffa" opacity="0.91" transform="rotate(-19.6 255.8 429.2)"/><rect x="675.7" y="318.2" width="4.3" height="2.2" fill="#0fa08c" opacity="0.85" transform="rotate(-18.4 677.9 319.3)"/><rect x="772.5" y="286.0" width="4.1" height="2.1" fill="#0fa08c" opacity="0.99" transform="rotate(-17.6 774.5 287.1)"/><rect x="657.9" y="324.6" width="3.9" height="1.9" fill="#0fa08c" opacity="0.91" transform="rotate(-18.4 659.9 325.6)"/><rect x="596.7" y="337.9" width="5.7" height="2.9" fill="#0fa08c" opacity="0.83" transform="rotate(-14.3 599.6 339.4)"/><path d="M692,310 L712,304" stroke="#f4fffb" stroke-width="8" stroke-linecap="round"/><path d="M252,438 L320,418" stroke="#a8f0e2" stroke-width="13" stroke-linecap="round" opacity="0.75"/><path d="M759,299 L805,318 L858,337" stroke="#22a88f" stroke-width="7" fill="none" stroke-linecap="round"/><path d="M442,375 L503,344" stroke="#4cb5a3" stroke-width="5" fill="none" stroke-linecap="round"/><path d="M293,194 L330,166 L385,118" stroke="#22ad98" stroke-width="4" fill="none" stroke-linecap="round"/><rect x="314.9" y="174.0" width="5.7" height="2.9" fill="#2aa892" opacity="0.86" transform="rotate(-39.6 317.8 175.5)"/><rect x="353.4" y="144.3" width="5.6" height="2.8" fill="#2aa892" opacity="0.65" transform="rotate(-39.6 356.2 145.6)"/><rect x="338.3" y="150.8" width="4.2" height="2.1" fill="#5fcfbd" opacity="0.65" transform="rotate(-39.6 340.4 151.9)"/><rect x="355.0" y="143.3" width="7.0" height="3.5" fill="#2aa892" opacity="0.63" transform="rotate(-39.6 358.5 145.1)"/><rect x="366.0" y="135.0" width="4.0" height="2.0" fill="#5fcfbd" opacity="0.90" transform="rotate(-39.6 368.0 136.0)"/><rect x="379.8" y="122.7" width="4.0" height="2.0" fill="#2aa892" opacity="0.79" transform="rotate(-39.6 381.8 123.7)"/><rect x="360.4" y="135.8" width="4.7" height="2.4" fill="#5fcfbd" opacity="0.96" transform="rotate(-39.6 362.8 137.0)"/><rect x="350.4" y="145.3" width="4.4" height="2.2" fill="#1b7f70" opacity="0.92" transform="rotate(-39.6 352.5 146.4)"/><rect x="382.0" y="119.0" width="5.2" height="2.6" fill="#1b7f70" opacity="0.99" transform="rotate(-39.6 384.7 120.3)"/><rect x="332.1" y="160.7" width="5.1" height="2.6" fill="#5fcfbd" opacity="0.68" transform="rotate(-39.6 334.7 161.9)"/><rect x="337.4" y="151.5" width="4.8" height="2.4" fill="#1b7f70" opacity="0.71" transform="rotate(-39.6 339.8 152.8)"/><rect x="372.6" y="125.6" width="5.2" height="2.6" fill="#1b7f70" opacity="0.69" transform="rotate(-39.6 375.2 126.9)"/><rect x="308.6" y="177.6" width="3.3" height="1.6" fill="#1b7f70" opacity="0.85" transform="rotate(-39.6 310.2 178.4)"/><rect x="330.8" y="154.5" width="4.7" height="2.3" fill="#2aa892" opacity="0.69" transform="rotate(-39.6 333.1 155.7)"/><rect x="337.4" y="156.2" width="4.8" height="2.4" fill="#5fcfbd" opacity="0.66" transform="rotate(-39.6 339.8 157.4)"/><rect x="329.6" y="163.2" width="6.5" height="3.3" fill="#5fcfbd" opacity="0.68" transform="rotate(-39.6 332.9 164.8)"/><rect x="368.0" y="126.9" width="5.9" height="2.9" fill="#2aa892" opacity="0.96" transform="rotate(-39.6 370.9 128.3)"/><rect x="353.9" y="137.6" width="5.0" height="2.5" fill="#1b7f70" opacity="0.62" transform="rotate(-39.6 356.4 138.9)"/><rect x="352.5" y="136.5" width="5.3" height="2.7" fill="#1b7f70" opacity="0.74" transform="rotate(-39.6 355.2 137.8)"/><rect x="315.6" y="168.1" width="5.7" height="2.9" fill="#2aa892" opacity="0.96" transform="rotate(-39.6 318.5 169.5)"/><rect x="305.3" y="179.5" width="5.4" height="2.7" fill="#1b7f70" opacity="0.88" transform="rotate(-39.6 308.0 180.8)"/><rect x="381.2" y="120.8" width="5.6" height="2.8" fill="#1b7f70" opacity="0.60" transform="rotate(-39.6 384.0 122.2)"/><rect x="380.8" y="114.8" width="4.2" height="2.1" fill="#5fcfbd" opacity="0.83" transform="rotate(-39.6 382.9 115.8)"/><rect x="357.0" y="142.3" width="5.1" height="2.5" fill="#2aa892" opacity="0.60" transform="rotate(-39.6 359.5 143.6)"/><rect x="320.3" y="166.8" width="6.9" height="3.4" fill="#1b7f70" opacity="0.93" transform="rotate(-39.6 323.8 168.5)"/><rect x="308.9" y="173.7" width="6.2" height="3.1" fill="#5fcfbd" opacity="0.80" transform="rotate(-39.6 312.0 175.2)"/><rect x="376.0" y="125.3" width="4.0" height="2.0" fill="#1b7f70" opacity="0.93" transform="rotate(-39.6 378.0 126.3)"/><rect x="310.4" y="176.2" width="3.9" height="2.0" fill="#2aa892" opacity="0.84" transform="rotate(-39.6 312.4 177.2)"/><rect x="330.7" y="161.2" width="4.7" height="2.4" fill="#5fcfbd" opacity="0.76" transform="rotate(-39.6 333.1 162.3)"/><rect x="299.6" y="187.6" width="5.4" height="2.7" fill="#2aa892" opacity="0.86" transform="rotate(-39.6 302.3 189.0)"/><rect x="317.4" y="168.7" width="7.0" height="3.5" fill="#5fcfbd" opacity="0.73" transform="rotate(-39.6 320.9 170.4)"/><rect x="317.5" y="170.7" width="3.5" height="1.8" fill="#2aa892" opacity="0.64" transform="rotate(-39.6 319.3 171.6)"/><rect x="365.2" y="128.6" width="4.2" height="2.1" fill="#5fcfbd" opacity="0.72" transform="rotate(-39.6 367.3 129.7)"/><rect x="320.5" y="163.9" width="5.0" height="2.5" fill="#1b7f70" opacity="0.95" transform="rotate(-39.6 322.9 165.1)"/><rect x="379.2" y="114.7" width="5.1" height="2.6" fill="#2aa892" opacity="0.99" transform="rotate(-39.6 381.7 116.0)"/><rect x="292.6" y="186.6" width="6.5" height="3.3" fill="#1b7f70" opacity="0.65" transform="rotate(-39.6 295.8 188.2)"/><rect x="288.9" y="190.5" width="6.5" height="3.2" fill="#2aa892" opacity="0.64" transform="rotate(-39.6 292.2 192.1)"/><rect x="374.5" y="119.5" width="4.1" height="2.0" fill="#2aa892" opacity="0.62" transform="rotate(-39.6 376.5 120.5)"/><rect x="314.6" y="177.0" width="4.0" height="2.0" fill="#5fcfbd" opacity="0.68" transform="rotate(-39.6 316.5 177.9)"/><rect x="324.3" y="160.1" width="5.2" height="2.6" fill="#2aa892" opacity="0.65" transform="rotate(-39.6 326.9 161.4)"/><g filter="url(#blurS)"><rect x="361.8" y="97.6" width="8.2" height="4.1" fill="#1f7f70" opacity="0.94" transform="rotate(7.6 365.9 99.6)"/><rect x="412.5" y="101.2" width="9.8" height="4.9" fill="#5fc8b5" opacity="0.80" transform="rotate(7.1 417.4 103.6)"/><rect x="368.0" y="90.3" width="6.9" height="3.4" fill="#d8f2ea" opacity="0.77" transform="rotate(7.6 371.4 92.0)"/><rect x="359.8" y="97.8" width="9.6" height="4.8" fill="#2f9f8c" opacity="0.77" transform="rotate(7.6 364.6 100.2)"/><rect x="413.8" y="105.4" width="7.0" height="3.5" fill="#1f7f70" opacity="0.61" transform="rotate(7.1 417.3 107.2)"/><rect x="373.6" y="97.3" width="5.6" height="2.8" fill="#9fe0d2" opacity="0.61" transform="rotate(7.6 376.4 98.7)"/><rect x="398.0" y="94.8" width="9.0" height="4.5" fill="#2f9f8c" opacity="0.78" transform="rotate(7.1 402.5 97.1)"/><rect x="386.7" y="96.8" width="7.4" height="3.7" fill="#5fc8b5" opacity="0.87" transform="rotate(7.1 390.4 98.7)"/><rect x="381.9" y="102.3" width="5.4" height="2.7" fill="#5fc8b5" opacity="0.68" transform="rotate(7.6 384.6 103.7)"/><rect x="411.1" y="106.3" width="8.8" height="4.4" fill="#d8f2ea" opacity="1.00" transform="rotate(7.1 415.5 108.4)"/><rect x="356.4" y="95.4" width="7.8" height="3.9" fill="#1f7f70" opacity="0.68" transform="rotate(7.6 360.3 97.3)"/><rect x="409.1" y="106.3" width="7.0" height="3.5" fill="#9fe0d2" opacity="0.98" transform="rotate(7.1 412.7 108.0)"/><rect x="383.6" y="96.1" width="7.4" height="3.7" fill="#9fe0d2" opacity="0.61" transform="rotate(7.1 387.3 98.0)"/><rect x="356.5" y="96.9" width="10.0" height="5.0" fill="#1f7f70" opacity="0.60" transform="rotate(7.6 361.4 99.4)"/><rect x="356.4" y="95.9" width="7.6" height="3.8" fill="#d8f2ea" opacity="0.84" transform="rotate(7.6 360.2 97.8)"/><rect x="387.4" y="100.5" width="5.9" height="3.0" fill="#5fc8b5" opacity="0.85" transform="rotate(7.1 390.3 102.0)"/><rect x="403.5" y="98.5" width="8.8" height="4.4" fill="#9fe0d2" opacity="0.70" transform="rotate(7.1 407.9 100.7)"/><rect x="362.8" y="101.0" width="5.9" height="2.9" fill="#1f7f70" opacity="0.75" transform="rotate(7.6 365.8 102.4)"/><rect x="393.3" y="101.3" width="9.5" height="4.7" fill="#5fc8b5" opacity="0.76" transform="rotate(7.1 398.1 103.6)"/><rect x="412.7" y="107.4" width="8.0" height="4.0" fill="#9fe0d2" opacity="0.80" transform="rotate(7.1 416.6 109.4)"/><rect x="375.0" y="93.8" width="9.4" height="4.7" fill="#5fc8b5" opacity="0.82" transform="rotate(7.6 379.7 96.1)"/><rect x="379.0" y="96.4" width="8.7" height="4.4" fill="#2f9f8c" opacity="0.93" transform="rotate(7.6 383.4 98.5)"/><rect x="356.4" y="91.9" width="6.4" height="3.2" fill="#1f7f70" opacity="0.70" transform="rotate(7.6 359.6 93.6)"/><rect x="375.7" y="101.6" width="8.2" height="4.1" fill="#5fc8b5" opacity="0.99" transform="rotate(7.6 379.9 103.7)"/><rect x="399.1" y="100.2" width="6.3" height="3.1" fill="#d8f2ea" opacity="0.96" transform="rotate(7.1 402.3 101.8)"/><rect x="380.2" y="103.0" width="9.5" height="4.7" fill="#9fe0d2" opacity="0.92" transform="rotate(7.6 385.0 105.3)"/><rect x="406.9" y="102.5" width="7.1" height="3.6" fill="#d8f2ea" opacity="0.96" transform="rotate(7.1 410.5 104.3)"/><rect x="382.2" y="93.7" width="7.9" height="4.0" fill="#5fc8b5" opacity="0.91" transform="rotate(7.6 386.1 95.6)"/><rect x="351.5" y="95.8" width="9.8" height="4.9" fill="#2f9f8c" opacity="0.71" transform="rotate(7.6 356.3 98.3)"/><rect x="371.7" y="93.3" width="9.8" height="4.9" fill="#1f7f70" opacity="0.70" transform="rotate(7.6 376.6 95.7)"/><rect x="375.6" y="102.4" width="9.5" height="4.8" fill="#5fc8b5" opacity="0.66" transform="rotate(7.6 380.4 104.8)"/><rect x="377.0" y="93.5" width="8.2" height="4.1" fill="#5fc8b5" opacity="0.63" transform="rotate(7.6 381.1 95.6)"/><rect x="360.5" y="92.8" width="6.5" height="3.3" fill="#9fe0d2" opacity="0.76" transform="rotate(7.6 363.7 94.4)"/><rect x="407.9" y="103.1" width="5.9" height="3.0" fill="#1f7f70" opacity="0.68" transform="rotate(7.1 410.9 104.6)"/><rect x="397.7" y="103.1" width="8.0" height="4.0" fill="#d8f2ea" opacity="0.95" transform="rotate(7.1 401.7 105.1)"/><rect x="401.0" y="104.5" width="5.0" height="2.5" fill="#1f7f70" opacity="0.95" transform="rotate(7.1 403.6 105.7)"/><rect x="375.9" y="97.8" width="9.3" height="4.6" fill="#5fc8b5" opacity="0.70" transform="rotate(7.6 380.6 100.1)"/><rect x="396.9" y="98.1" width="5.2" height="2.6" fill="#1f7f70" opacity="0.66" transform="rotate(7.1 399.5 99.4)"/><rect x="395.7" y="105.4" width="9.1" height="4.5" fill="#d8f2ea" opacity="0.80" transform="rotate(7.1 400.3 107.7)"/><rect x="388.8" y="99.9" width="5.3" height="2.7" fill="#d8f2ea" opacity="0.89" transform="rotate(7.1 391.4 101.2)"/><rect x="407.0" y="101.3" width="5.1" height="2.6" fill="#5fc8b5" opacity="0.67" transform="rotate(-4.8 409.5 102.6)"/><rect x="365.0" y="115.5" width="6.7" height="3.4" fill="#2f9f8c" opacity="0.69" transform="rotate(-21.0 368.4 117.2)"/><rect x="405.8" y="102.4" width="8.0" height="4.0" fill="#1f7f70" opacity="0.87" transform="rotate(-4.8 409.8 104.4)"/><rect x="405.6" y="107.1" width="5.2" height="2.6" fill="#2f9f8c" opacity="0.84" transform="rotate(-4.8 408.2 108.4)"/><rect x="371.3" y="107.0" width="9.2" height="4.6" fill="#1f7f70" opacity="0.81" transform="rotate(-21.0 375.9 109.3)"/><rect x="393.5" y="109.5" width="9.8" height="4.9" fill="#2f9f8c" opacity="0.88" transform="rotate(-4.8 398.4 112.0)"/><rect x="386.8" y="102.8" width="9.8" height="4.9" fill="#5fc8b5" opacity="0.96" transform="rotate(-4.8 391.7 105.3)"/><rect x="401.9" y="109.2" width="7.6" height="3.8" fill="#5fc8b5" opacity="0.93" transform="rotate(-4.8 405.7 111.1)"/><rect x="391.9" y="103.0" width="5.2" height="2.6" fill="#1f7f70" opacity="0.96" transform="rotate(-4.8 394.5 104.3)"/><rect x="378.2" y="106.3" width="6.4" height="3.2" fill="#5fc8b5" opacity="0.76" transform="rotate(-21.0 381.4 107.9)"/><rect x="403.9" y="101.2" width="7.8" height="3.9" fill="#5fc8b5" opacity="0.83" transform="rotate(-4.8 407.8 103.2)"/><rect x="372.9" y="111.4" width="7.7" height="3.9" fill="#5fc8b5" opacity="0.90" transform="rotate(-21.0 376.8 113.3)"/><rect x="404.0" y="104.3" width="5.5" height="2.7" fill="#5fc8b5" opacity="0.74" transform="rotate(-4.8 406.7 105.7)"/><rect x="377.8" y="106.6" width="9.6" height="4.8" fill="#2f9f8c" opacity="0.80" transform="rotate(-21.0 382.6 109.0)"/><rect x="375.2" y="104.4" width="9.5" height="4.7" fill="#2f9f8c" opacity="0.61" transform="rotate(-21.0 380.0 106.8)"/><rect x="374.3" y="105.6" width="9.5" height="4.8" fill="#1f7f70" opacity="0.68" transform="rotate(-21.0 379.1 108.0)"/><rect x="359.4" y="115.4" width="9.0" height="4.5" fill="#1f7f70" opacity="0.90" transform="rotate(-21.0 363.9 117.6)"/><rect x="390.9" y="102.0" width="6.0" height="3.0" fill="#2f9f8c" opacity="0.93" transform="rotate(-4.8 393.8 103.5)"/><rect x="403.3" y="103.6" width="9.2" height="4.6" fill="#5fc8b5" opacity="0.88" transform="rotate(-4.8 407.9 105.9)"/><rect x="363.6" y="111.4" width="8.4" height="4.2" fill="#5fc8b5" opacity="0.79" transform="rotate(-21.0 367.8 113.5)"/><rect x="361.1" y="116.3" width="9.8" height="4.9" fill="#2f9f8c" opacity="0.93" transform="rotate(-21.0 366.0 118.8)"/><rect x="389.6" y="110.8" width="5.1" height="2.5" fill="#1f7f70" opacity="0.74" transform="rotate(-4.8 392.1 112.1)"/><rect x="359.6" y="111.0" width="8.1" height="4.1" fill="#1f7f70" opacity="0.77" transform="rotate(-21.0 363.7 113.0)"/><rect x="368.5" y="106.2" width="9.8" height="4.9" fill="#5fc8b5" opacity="0.87" transform="rotate(-21.0 373.4 108.7)"/><rect x="408.0" y="104.5" width="7.4" height="3.7" fill="#2f9f8c" opacity="0.67" transform="rotate(-4.8 411.7 106.4)"/><rect x="370.3" y="107.3" width="7.3" height="3.7" fill="#2f9f8c" opacity="0.76" transform="rotate(-21.0 374.0 109.1)"/><rect x="365.4" y="117.7" width="7.6" height="3.8" fill="#2f9f8c" opacity="0.62" transform="rotate(-21.0 369.2 119.6)"/><rect x="379.0" y="112.9" width="5.2" height="2.6" fill="#2f9f8c" opacity="0.90" transform="rotate(-21.0 381.6 114.2)"/></g><rect x="292.1" y="235.7" width="5.6" height="2.8" fill="#2f8f80" opacity="0.71" transform="rotate(-50.1 294.9 237.1)"/><rect x="298.5" y="228.6" width="5.6" height="2.8" fill="#4fae9d" opacity="0.79" transform="rotate(-50.1 301.3 230.0)"/><rect x="320.7" y="195.9" width="6.6" height="3.3" fill="#4fae9d" opacity="0.69" transform="rotate(-50.1 324.0 197.6)"/><rect x="322.9" y="194.9" width="4.0" height="2.0" fill="#1d6a5f" opacity="0.85" transform="rotate(-50.1 324.9 195.9)"/><rect x="292.7" y="232.6" width="5.7" height="2.8" fill="#2f8f80" opacity="0.60" transform="rotate(-50.1 295.5 234.0)"/><rect x="291.0" y="237.4" width="3.1" height="1.6" fill="#4fae9d" opacity="0.68" transform="rotate(-50.1 292.6 238.2)"/><rect x="324.9" y="190.7" width="7.0" height="3.5" fill="#4fae9d" opacity="0.96" transform="rotate(-50.1 328.4 192.5)"/><rect x="290.7" y="235.6" width="6.5" height="3.3" fill="#1d6a5f" opacity="0.84" transform="rotate(-50.1 294.0 237.3)"/><rect x="310.8" y="207.1" width="3.4" height="1.7" fill="#4fae9d" opacity="0.81" transform="rotate(-50.1 312.5 207.9)"/><rect x="294.6" y="230.2" width="3.9" height="1.9" fill="#4fae9d" opacity="0.80" transform="rotate(-50.1 296.6 231.2)"/><rect x="294.0" y="237.2" width="3.4" height="1.7" fill="#4fae9d" opacity="0.65" transform="rotate(-50.1 295.6 238.0)"/><rect x="292.1" y="231.1" width="5.7" height="2.9" fill="#1d6a5f" opacity="0.64" transform="rotate(-50.1 295.0 232.5)"/><rect x="307.5" y="217.4" width="5.1" height="2.6" fill="#4fae9d" opacity="0.72" transform="rotate(-50.1 310.1 218.6)"/><rect x="304.1" y="216.4" width="6.3" height="3.2" fill="#4fae9d" opacity="0.79" transform="rotate(-50.1 307.2 217.9)"/><rect x="298.1" y="230.1" width="6.8" height="3.4" fill="#2f8f80" opacity="0.83" transform="rotate(-50.1 301.5 231.8)"/><rect x="304.9" y="214.3" width="4.8" height="2.4" fill="#1d6a5f" opacity="0.76" transform="rotate(-50.1 307.3 215.5)"/><rect x="322.9" y="188.1" width="5.8" height="2.9" fill="#4fae9d" opacity="0.98" transform="rotate(-50.1 325.8 189.6)"/><rect x="296.4" y="225.9" width="3.8" height="1.9" fill="#1d6a5f" opacity="0.82" transform="rotate(-50.1 298.3 226.8)"/><rect x="316.9" y="198.5" width="3.4" height="1.7" fill="#2f8f80" opacity="0.72" transform="rotate(-50.1 318.6 199.3)"/><rect x="327.9" y="192.4" width="4.1" height="2.1" fill="#4fae9d" opacity="1.00" transform="rotate(-50.1 330.0 193.4)"/><rect x="294.1" y="236.8" width="6.1" height="3.0" fill="#2f8f80" opacity="0.69" transform="rotate(-50.1 297.2 238.4)"/><rect x="321.0" y="195.7" width="4.0" height="2.0" fill="#1d6a5f" opacity="0.87" transform="rotate(-50.1 323.0 196.7)"/><rect x="301.0" y="224.5" width="6.6" height="3.3" fill="#2f8f80" opacity="0.82" transform="rotate(-50.1 304.3 226.2)"/><rect x="313.8" y="213.1" width="6.0" height="3.0" fill="#1d6a5f" opacity="0.86" transform="rotate(-50.1 316.8 214.6)"/><rect x="295.0" y="230.3" width="4.0" height="2.0" fill="#4fae9d" opacity="0.82" transform="rotate(-50.1 297.0 231.3)"/><rect x="316.0" y="200.2" width="6.7" height="3.3" fill="#1d6a5f" opacity="0.61" transform="rotate(-50.1 319.3 201.9)"/><rect x="311.8" y="207.5" width="6.1" height="3.0" fill="#2f8f80" opacity="0.71" transform="rotate(-50.1 314.8 209.0)"/><rect x="288.1" y="232.6" width="5.8" height="2.9" fill="#2f8f80" opacity="0.68" transform="rotate(-50.1 290.9 234.0)"/><rect x="302.8" y="213.1" width="6.6" height="3.3" fill="#2f8f80" opacity="0.91" transform="rotate(-50.1 306.1 214.7)"/><rect x="296.2" y="226.4" width="4.7" height="2.4" fill="#2f8f80" opacity="0.78" transform="rotate(-50.1 298.5 227.6)"/><path d="M290,240 L304,225" stroke="#3c8f80" stroke-width="8" stroke-linecap="round" opacity="0.8"/><path d="M320,153 L322,155 M340,139 L342,141 M355,160 L357,162" stroke="#4fa898" stroke-width="4"/><g filter="url(#blurS)"><rect x="364.5" y="438.5" width="5" height="5" fill="#4f9a8c"/><rect x="392.5" y="445.6" width="6" height="6" fill="#6fa89c"/><rect x="400.5" y="464.6" width="6" height="6" fill="#3f8f80"/><rect x="408.9" y="476.2" width="5" height="5" fill="#5f9a8e"/><rect x="420.0" y="461.9" width="5" height="5" fill="#5f9a8e"/><rect x="385.1" y="481.0" width="5" height="5" fill="#3f7f72"/><rect x="377.5" y="506.5" width="5" height="5" fill="#3f7f72"/><rect x="381.0" y="496.0" width="4" height="4" fill="#3f7f72"/><rect x="413.0" y="498.0" width="6" height="6" fill="#6f9f95"/><rect x="377.7" y="553.7" width="4" height="4" fill="#3f6a62"/><rect x="421.5" y="541.5" width="5" height="5" fill="#2f6a60"/><rect x="425.0" y="530.0" width="4" height="4" fill="#2f6a60"/><path d="M431,566 L449,566" stroke="#9fe8da" stroke-width="7" stroke-linecap="round"/><path d="M432,572 L423,604" stroke="#2f8a78" stroke-width="5" stroke-linecap="round"/><path d="M429,604 L455,594 L483,580" stroke="#1f8a74" stroke-width="7" stroke-linecap="round" fill="none"/><path d="M427,612 L432,630" stroke="#1f7f6a" stroke-width="7" stroke-linecap="round"/><rect x="419" y="599" width="7" height="7" fill="#8fc0b4"/></g><path d="M493,434 L512,415" stroke="#6fa79b" stroke-width="4" stroke-linecap="round"/><path d="M1031,102 L1033,104 M1062,165 L1064,167 M1099,214 L1101,216 M1085,195 L1086,196" stroke="#3f6a62" stroke-width="4"/></g><line x1="642.0" y1="524.0" x2="708.7" y2="412.3" stroke="#ffffff" stroke-width="6"/><polygon points="722.0,390.0 716.2,419.2 699.1,408.9" fill="#ffffff"/><line x1="781.5" y1="496.0" x2="850.4" y2="383.8" stroke="#ffffff" stroke-width="6"/><polygon points="864.0,361.6 857.9,390.7 840.8,380.2" fill="#ffffff"/><rect x="1036" y="632" width="159" height="14" fill="#fff"/></g><path d="M160.3,290 L160.3,1767.5" stroke="#000" stroke-width="6" fill="none"/><path d="M157.3,1764.5 L1974,1764.5" stroke="#000" stroke-width="6" fill="none"/><path d="M160.0,1764 L160.0,1799 M373.5,1764 L373.5,1799 M587.0,1764 L587.0,1799 M800.5,1764 L800.5,1799 M1014.0,1764 L1014.0,1799 M1227.5,1764 L1227.5,1799 M1441.0,1764 L1441.0,1799 M1654.5,1764 L1654.5,1799 M1868.0,1764 L1868.0,1799 M266.8,1764 L266.8,1785 M480.2,1764 L480.2,1785 M693.8,1764 L693.8,1785 M907.2,1764 L907.2,1785 M1120.8,1764 L1120.8,1785 M1334.2,1764 L1334.2,1785 M1547.7,1764 L1547.7,1785 M1761.2,1764 L1761.2,1785 M1974.7,1764 L1974.7,1785 M1973,1764 L1973,1785" stroke="#000" stroke-width="5" fill="none"/><path d="M162.0,1746.0 L163.3,1746.2 L164.9,1746.0 L166.6,1747.7 L168.2,1748.4 L169.9,1746.5 L171.5,1746.9 L173.2,1748.5 L174.8,1743.9 L176.5,1741.8 L178.1,1743.2 L179.8,1738.9 L181.4,1741.7 L183.1,1741.3 L184.7,1743.2 L186.4,1742.3 L188.0,1745.6 L189.7,1747.0 L191.3,1745.9 L192.9,1747.3 L194.6,1747.4 L196.2,1745.1 L197.9,1748.5 L199.6,1748.2 L201.2,1747.3 L202.8,1746.5 L204.5,1750.6 L206.6,1744.2 L208.6,1740.6 L210.7,1736.7 L212.8,1740.9 L214.8,1746.9 L216.9,1749.5 L219.0,1748.5 L221.0,1744.1 L223.1,1743.4 L224.8,1746.0 L226.6,1745.4 L228.3,1748.4 L229.9,1748.2 L231.5,1750.9 L233.1,1748.0 L234.8,1748.3 L236.4,1746.3 L238.0,1746.6 L239.6,1745.5 L241.7,1741.7 L243.7,1739.0 L245.8,1735.4 L247.9,1734.1 L249.9,1730.5 L252.0,1728.9 L254.1,1731.2 L256.1,1734.5 L258.2,1735.8 L259.8,1733.9 L261.4,1737.3 L263.0,1738.0 L264.6,1738.1 L266.2,1737.0 L267.8,1737.9 L269.4,1736.1 L271.0,1739.1 L272.6,1738.3 L274.6,1733.6 L276.7,1729.1 L278.8,1733.9 L280.9,1735.8 L283.0,1733.2 L284.8,1734.4 L286.6,1730.9 L288.4,1727.8 L290.2,1726.6 L292.3,1731.5 L294.3,1734.8 L296.4,1734.0 L298.2,1734.2 L300.1,1729.4 L301.9,1730.0 L303.8,1726.0 L305.6,1726.1 L307.4,1726.6 L309.1,1724.6 L310.9,1726.9 L312.7,1723.9 L314.5,1723.0 L316.2,1725.4 L318.0,1722.9 L320.1,1725.9 L322.2,1729.1 L323.8,1728.1 L325.5,1724.2 L327.1,1721.8 L328.8,1723.5 L330.4,1719.2 L332.0,1721.6 L333.6,1720.9 L335.2,1718.2 L336.9,1718.1 L338.5,1717.9 L340.1,1718.1 L341.7,1717.4 L343.3,1718.5 L345.0,1719.9 L346.6,1722.5 L348.2,1721.8 L349.8,1722.7 L351.5,1725.2 L353.1,1724.2 L354.8,1723.4 L356.4,1725.3 L358.1,1722.3 L359.7,1721.3 L361.4,1717.9 L363.0,1719.8 L364.7,1720.8 L366.3,1718.5 L368.0,1721.3 L369.6,1721.6 L371.3,1721.9 L373.1,1727.2 L374.8,1729.4 L376.9,1726.1 L378.9,1720.5 L381.0,1717.9 L382.8,1718.6 L384.7,1716.1 L386.5,1716.9 L388.4,1720.2 L390.2,1722.0 L391.9,1717.7 L393.5,1717.4 L395.2,1716.8 L396.8,1714.4 L398.5,1713.4 L400.2,1713.2 L401.9,1713.4 L403.6,1714.4 L405.4,1713.1 L407.1,1713.5 L408.8,1715.2 L410.4,1713.7 L412.1,1717.8 L413.7,1720.3 L415.3,1720.2 L417.2,1716.1 L419.0,1715.0 L420.9,1708.8 L422.7,1704.9 L424.6,1702.3 L426.3,1708.6 L428.1,1711.1 L429.8,1717.2 L431.6,1718.0 L433.3,1720.9 L435.1,1719.9 L436.8,1722.4 L438.6,1720.1 L440.3,1721.6 L442.1,1723.7 L443.8,1722.7 L445.4,1718.8 L447.1,1715.8 L448.7,1713.3 L450.4,1713.1 L452.0,1710.6 L453.6,1712.3 L455.2,1711.4 L456.9,1707.4 L458.5,1706.8 L460.1,1708.1 L461.7,1706.3 L463.4,1711.1 L465.2,1713.2 L466.9,1716.4 L468.6,1716.9 L470.3,1718.9 L472.0,1716.4 L473.7,1716.6 L475.4,1716.7 L477.0,1716.6 L478.7,1716.3 L480.4,1718.4 L482.1,1714.9 L483.8,1714.0 L485.5,1718.0 L487.1,1715.6 L488.8,1714.0 L490.4,1709.5 L492.1,1709.7 L493.7,1707.6 L495.4,1702.8 L497.1,1703.3 L498.9,1702.0 L500.6,1699.6 L502.3,1697.2 L504.0,1694.5 L505.7,1697.2 L507.3,1699.2 L509.0,1701.1 L510.6,1705.9 L512.3,1707.1 L514.0,1709.0 L515.7,1705.2 L517.5,1708.6 L519.2,1707.3 L520.9,1707.9 L522.6,1707.4 L524.7,1704.4 L526.7,1699.8 L528.8,1694.3 L530.9,1701.7 L532.9,1703.4 L535.0,1708.1 L536.8,1707.6 L538.6,1704.9 L540.4,1702.3 L542.2,1702.5 L543.9,1703.9 L545.7,1705.5 L547.4,1707.9 L549.5,1707.4 L551.5,1702.6 L553.6,1700.7 L555.7,1703.6 L557.7,1707.7 L559.5,1708.0 L561.2,1708.0 L563.0,1704.0 L564.7,1705.5 L566.5,1704.9 L568.2,1703.1 L570.0,1702.0 L571.7,1701.2 L573.5,1706.8 L575.2,1710.6 L576.8,1705.2 L578.5,1704.4 L580.1,1702.6 L581.7,1701.9 L583.3,1699.7 L585.0,1698.1 L586.6,1697.6 L588.2,1693.4 L589.9,1692.8 L591.5,1692.3 L593.2,1691.5 L594.8,1690.4 L596.5,1696.0 L598.1,1697.2 L599.8,1695.5 L601.4,1698.9 L603.1,1699.8 L604.9,1698.9 L606.7,1698.1 L608.5,1698.5 L610.3,1697.3 L612.1,1695.4 L613.9,1693.8 L615.7,1693.5 L617.5,1691.6 L619.2,1692.9 L621.0,1692.9 L622.7,1690.7 L624.4,1688.7 L626.2,1688.5 L627.9,1688.6 L629.5,1689.0 L631.2,1689.2 L632.8,1686.8 L634.5,1688.0 L636.1,1686.5 L638.2,1688.8 L640.2,1691.7 L642.3,1695.4 L644.0,1692.8 L645.6,1688.1 L647.3,1685.8 L648.9,1681.3 L650.6,1676.9 L652.7,1680.2 L654.7,1682.9 L656.8,1682.1 L658.4,1683.7 L660.1,1683.7 L661.7,1685.7 L663.4,1685.9 L665.0,1683.4 L666.8,1686.1 L668.7,1685.9 L670.5,1684.0 L672.3,1685.2 L674.2,1684.0 L676.0,1687.4 L677.6,1686.9 L679.2,1688.0 L680.9,1687.8 L682.5,1687.4 L684.1,1687.8 L685.8,1687.3 L687.4,1685.4 L689.0,1687.7 L690.8,1684.2 L692.6,1683.9 L694.4,1685.8 L696.2,1681.7 L698.0,1681.0 L699.8,1680.1 L701.6,1682.7 L703.3,1679.6 L704.9,1678.9 L706.6,1682.5 L708.2,1679.3 L709.9,1682.5 L711.5,1681.8 L713.2,1682.5 L714.9,1683.0 L716.5,1681.3 L718.2,1682.3 L719.8,1679.0 L721.5,1682.2 L723.1,1681.0 L724.8,1681.9 L726.4,1679.3 L728.1,1682.1 L729.8,1682.9 L731.4,1679.1 L733.1,1680.2 L734.7,1681.3 L736.4,1682.4 L738.0,1679.9 L739.7,1679.6 L741.5,1678.5 L743.3,1678.7 L745.1,1677.8 L747.0,1674.8 L748.8,1673.3 L750.6,1672.0 L752.4,1670.3 L754.0,1668.6 L755.7,1665.2 L757.3,1665.0 L758.9,1665.1 L760.5,1660.6 L762.2,1660.1 L763.8,1655.5 L765.4,1660.0 L767.0,1662.5 L768.6,1664.3 L770.2,1665.8 L771.9,1666.0 L773.6,1667.2 L775.3,1668.7 L777.0,1665.8 L778.7,1666.0 L780.4,1669.3 L782.1,1670.5 L783.7,1669.1 L785.4,1669.2 L787.1,1670.9 L788.8,1668.9 L790.5,1669.7 L792.2,1669.8 L793.9,1672.0 L795.6,1671.2 L797.4,1669.0 L799.2,1669.2 L801.0,1668.6 L802.9,1663.9 L804.7,1663.9 L806.5,1660.8 L808.3,1661.0 L810.0,1660.6 L811.7,1660.0 L813.3,1660.7 L815.0,1660.6 L816.7,1663.5 L818.4,1663.9 L820.1,1659.6 L821.8,1657.1 L823.5,1653.5 L825.1,1655.3 L826.8,1652.4 L828.4,1655.9 L830.0,1653.5 L831.6,1653.8 L833.3,1653.0 L834.9,1654.5 L836.5,1654.2 L838.2,1652.9 L839.8,1652.4 L841.4,1653.2 L843.0,1653.6 L844.7,1651.4 L846.3,1652.7 L848.2,1649.9 L850.1,1644.0 L852.1,1639.1 L854.0,1635.3 L855.8,1633.0 L857.6,1628.3 L859.4,1625.0 L861.2,1620.1 L863.0,1612.9 L864.7,1611.3 L866.4,1610.3 L868.1,1608.7 L869.8,1609.7 L871.5,1609.0 L873.2,1607.9 L874.8,1603.8 L876.5,1605.1 L878.2,1601.4 L879.9,1600.6 L881.6,1600.6 L883.3,1596.5 L885.0,1595.2 L886.6,1596.9 L888.3,1592.9 L889.9,1591.7 L891.6,1591.1 L893.2,1589.9 L894.9,1585.4 L896.5,1585.3 L898.3,1581.7 L900.1,1577.9 L901.8,1572.7 L903.6,1570.4 L905.4,1568.0 L907.1,1561.9 L908.8,1558.9 L910.5,1553.3 L913.0,1524.0 L914.3,1468.7 L915.6,1415.3 L916.8,1367.7 L918.7,1339.3 L920.6,1307.2 L923.8,1399.9 L925.0,1454.4 L927.0,1523.2 L929.5,1551.1 L931.6,1554.4 L933.8,1561.4 L935.9,1566.7 L937.7,1568.3 L939.5,1567.0 L941.3,1570.1 L943.2,1572.0 L945.0,1571.8 L946.8,1572.2 L948.6,1571.3 L950.4,1572.3 L952.2,1570.9 L954.0,1571.8 L955.9,1570.9 L957.7,1569.7 L959.5,1567.3 L961.3,1568.6 L963.2,1559.3 L965.1,1548.1 L967.1,1542.0 L969.0,1531.7 L970.7,1521.0 L972.3,1516.2 L974.0,1504.4 L976.5,1485.3 L978.4,1497.0 L980.3,1506.4 L983.0,1538.2 L984.7,1543.3 L986.3,1547.1 L988.0,1551.2 L989.8,1551.8 L991.5,1552.5 L993.3,1556.5 L995.0,1557.9 L996.8,1558.2 L998.9,1557.1 L1000.9,1553.4 L1003.0,1551.0 L1004.8,1551.9 L1006.6,1554.4 L1008.4,1551.2 L1010.2,1553.6 L1012.0,1552.9 L1014.6,1535.2 L1016.3,1528.4 L1018.0,1523.3 L1019.7,1518.6 L1022.0,1488.2 L1024.0,1472.7 L1026.0,1454.4 L1028.0,1454.5 L1030.0,1449.3 L1032.4,1410.0 L1033.2,1308.2 L1034.8,1180.8 L1036.4,1056.2 L1038.2,1001.3 L1039.9,944.1 L1041.7,889.4 L1043.4,835.6 L1045.5,922.6 L1047.5,1008.4 L1049.1,1111.6 L1050.7,1214.4 L1053.0,1323.4 L1054.9,1377.9 L1056.8,1430.3 L1058.7,1485.1 L1060.8,1511.6 L1062.9,1536.4 L1065.0,1562.9 L1066.6,1574.2 L1068.2,1579.9 L1069.8,1592.3 L1071.4,1601.7 L1073.0,1611.0 L1074.7,1608.3 L1076.3,1608.9 L1078.0,1608.9 L1079.7,1608.9 L1081.3,1610.3 L1083.0,1608.8 L1084.7,1607.0 L1086.3,1609.3 L1088.0,1607.4 L1089.7,1607.8 L1091.3,1608.2 L1093.0,1604.8 L1094.8,1606.9 L1096.5,1605.2 L1098.2,1603.2 L1100.0,1602.1 L1101.6,1600.9 L1103.2,1598.9 L1104.8,1599.4 L1106.4,1596.4 L1108.0,1597.5 L1110.0,1592.3 L1112.0,1585.5 L1113.9,1580.2 L1115.9,1576.0 L1118.0,1565.1 L1120.1,1551.1 L1122.2,1543.3 L1124.1,1533.5 L1125.9,1522.0 L1127.8,1514.4 L1129.4,1516.3 L1131.0,1518.1 L1132.8,1529.2 L1134.7,1539.9 L1136.5,1546.2 L1138.3,1551.2 L1140.2,1553.0 L1142.0,1553.1 L1143.9,1558.9 L1145.8,1560.4 L1147.6,1564.4 L1149.4,1568.0 L1151.3,1572.6 L1153.2,1575.3 L1155.0,1581.8 L1156.8,1586.9 L1158.7,1591.1 L1160.5,1590.8 L1162.3,1593.8 L1164.1,1594.2 L1166.0,1594.1 L1167.8,1595.4 L1169.6,1597.2 L1171.4,1599.3 L1173.2,1601.5 L1175.1,1605.4 L1177.0,1608.7 L1178.8,1610.4 L1180.7,1612.3 L1182.5,1615.7 L1184.3,1613.9 L1186.1,1614.3 L1187.9,1615.3 L1189.8,1613.4 L1191.6,1612.2 L1193.4,1615.0 L1195.2,1614.0 L1196.9,1613.4 L1198.6,1614.4 L1200.3,1616.1 L1201.9,1617.4 L1203.6,1616.8 L1205.3,1616.8 L1207.0,1618.7 L1208.7,1621.2 L1210.4,1618.4 L1212.1,1619.8 L1213.9,1618.7 L1215.6,1618.7 L1217.3,1618.6 L1219.0,1619.6 L1220.6,1617.8 L1222.2,1616.5 L1223.8,1616.2 L1225.4,1615.7 L1227.0,1616.5 L1228.8,1612.9 L1230.6,1611.1 L1232.4,1611.3 L1234.3,1609.5 L1236.1,1609.2 L1237.9,1604.7 L1239.7,1604.6 L1241.8,1600.2 L1243.9,1594.3 L1246.0,1594.0 L1247.6,1586.3 L1249.2,1581.2 L1251.1,1586.4 L1253.0,1588.5 L1255.0,1594.3 L1257.0,1596.8 L1258.6,1598.7 L1260.2,1601.3 L1261.8,1607.2 L1263.4,1608.1 L1265.0,1613.3 L1266.6,1613.0 L1268.2,1616.3 L1269.8,1614.7 L1271.4,1615.7 L1273.0,1617.0 L1274.9,1618.4 L1276.8,1616.6 L1278.7,1614.3 L1280.6,1612.2 L1282.5,1613.8 L1284.8,1607.6 L1287.0,1598.4 L1288.8,1588.3 L1290.5,1580.9 L1292.8,1588.7 L1295.0,1596.5 L1296.7,1598.3 L1298.3,1600.7 L1300.0,1605.7 L1301.8,1610.0 L1303.5,1610.2 L1305.2,1616.8 L1307.0,1617.9 L1308.6,1619.5 L1310.3,1620.1 L1311.9,1620.3 L1313.5,1616.5 L1315.2,1617.8 L1316.8,1619.3 L1318.5,1620.9 L1320.1,1617.3 L1321.7,1618.3 L1323.4,1620.9 L1325.0,1617.8 L1326.6,1619.2 L1328.3,1619.0 L1329.9,1620.7 L1331.5,1621.9 L1333.2,1618.8 L1334.8,1621.4 L1336.5,1621.5 L1338.1,1622.1 L1339.7,1621.0 L1341.4,1622.7 L1343.0,1620.4 L1344.8,1610.0 L1346.6,1598.6 L1348.4,1590.4 L1350.2,1578.5 L1352.0,1567.0 L1353.8,1543.0 L1355.7,1522.0 L1357.5,1498.0 L1359.3,1474.9 L1361.2,1450.0 L1363.0,1426.9 L1364.9,1405.2 L1366.8,1387.4 L1368.6,1364.2 L1370.5,1345.9 L1372.4,1363.5 L1374.3,1379.6 L1376.2,1393.4 L1378.1,1410.4 L1380.0,1429.5 L1381.8,1479.1 L1383.5,1530.7 L1385.2,1551.6 L1387.0,1570.8 L1388.8,1593.7 L1390.5,1614.0 L1392.2,1616.3 L1394.0,1620.4 L1395.8,1623.1 L1397.5,1628.6 L1399.2,1635.0 L1401.0,1635.3 L1402.8,1636.1 L1404.5,1633.0 L1406.2,1631.7 L1408.0,1633.0 L1409.8,1630.0 L1411.5,1628.0 L1413.2,1629.1 L1415.0,1632.0 L1416.8,1632.4 L1418.5,1630.5 L1420.2,1632.1 L1422.0,1636.1 L1423.8,1628.4 L1425.5,1625.5 L1427.2,1620.5 L1429.0,1617.7 L1430.8,1612.6 L1432.5,1609.0 L1434.2,1603.5 L1436.0,1597.6 L1437.7,1576.6 L1439.5,1555.1 L1441.2,1537.4 L1443.0,1513.3 L1444.7,1491.9 L1446.5,1449.4 L1448.2,1399.3 L1450.0,1355.7 L1451.7,1256.2 L1453.4,1161.8 L1455.2,1082.3 L1457.0,1006.4 L1458.6,865.5 L1461.0,774.6 L1464.0,866.2 L1465.6,1051.6 L1467.3,1113.8 L1469.0,1179.5 L1470.8,1213.8 L1472.6,1247.3 L1474.4,1285.5 L1476.1,1307.7 L1477.9,1332.1 L1479.6,1352.7 L1481.6,1371.5 L1483.7,1388.5 L1485.7,1407.0 L1487.8,1369.6 L1490.0,1336.3 L1491.8,1299.6 L1493.5,1260.4 L1495.3,1225.2 L1497.0,1186.0 L1498.8,1144.7 L1501.3,1118.7 L1503.0,1137.0 L1504.8,1153.7 L1506.0,1249.3 L1509.0,1332.2 L1512.0,1399.3 L1515.0,1464.7 L1517.0,1489.2 L1519.0,1494.3 L1521.0,1498.5 L1523.3,1504.9 L1525.7,1507.0 L1527.5,1499.0 L1529.2,1490.8 L1531.0,1480.5 L1533.0,1473.2 L1535.0,1462.8 L1537.0,1453.6 L1540.0,1472.0 L1542.9,1481.8 L1544.6,1495.3 L1546.3,1506.6 L1548.0,1521.2 L1550.1,1534.9 L1552.2,1552.9 L1554.3,1567.8 L1556.2,1577.4 L1558.1,1592.6 L1560.0,1601.6 L1561.4,1621.2 L1563.0,1596.0 L1565.7,1588.1 L1567.6,1588.1 L1569.5,1587.6 L1571.4,1584.0 L1573.2,1574.1 L1575.0,1559.0 L1576.8,1550.2 L1578.6,1540.3 L1580.8,1557.1 L1582.9,1572.1 L1584.8,1592.1 L1586.7,1613.3 L1588.6,1636.1 L1590.2,1637.0 L1591.9,1636.0 L1593.5,1636.8 L1595.1,1639.9 L1596.7,1640.0 L1598.4,1641.7 L1600.0,1642.1 L1601.6,1637.2 L1603.3,1630.6 L1604.9,1625.2 L1606.5,1621.5 L1608.1,1617.7 L1609.8,1613.5 L1611.4,1609.2 L1613.3,1588.7 L1615.1,1571.2 L1617.0,1549.1 L1619.0,1559.8 L1620.9,1571.7 L1622.9,1581.4 L1624.7,1582.9 L1626.5,1586.4 L1628.2,1592.6 L1630.0,1592.8 L1631.7,1597.0 L1633.3,1602.5 L1635.0,1606.2 L1636.7,1608.2 L1638.3,1611.4 L1640.0,1615.7 L1641.6,1614.5 L1643.3,1609.4 L1644.9,1608.0 L1646.5,1603.4 L1648.1,1600.5 L1649.8,1592.7 L1651.4,1589.6 L1653.7,1563.4 L1656.0,1539.7 L1658.0,1509.3 L1660.0,1478.0 L1661.9,1451.5 L1663.8,1420.9 L1665.7,1393.2 L1667.4,1391.9 L1669.1,1393.3 L1670.9,1390.6 L1672.6,1388.9 L1674.3,1387.0 L1676.5,1329.7 L1678.6,1274.6 L1681.6,1288.8 L1682.5,1378.8 L1685.5,1424.4 L1687.5,1403.9 L1689.5,1385.4 L1692.0,1359.1 L1694.4,1388.3 L1697.4,1476.0 L1699.3,1497.5 L1701.3,1516.2 L1703.0,1523.5 L1704.8,1531.5 L1706.5,1539.4 L1708.3,1550.6 L1710.3,1543.7 L1712.2,1535.8 L1714.2,1525.9 L1716.2,1457.7 L1719.0,1416.9 L1720.6,1420.8 L1722.2,1424.3 L1723.8,1427.8 L1725.4,1432.7 L1727.0,1435.6 L1729.0,1455.1 L1731.0,1476.8 L1733.0,1498.2 L1735.0,1516.2 L1736.7,1523.6 L1738.3,1531.3 L1740.0,1539.8 L1741.7,1539.0 L1743.3,1535.1 L1745.0,1535.0 L1746.7,1529.2 L1748.3,1527.5 L1750.0,1526.1 L1751.9,1491.1 L1753.8,1458.5 L1756.8,1388.4 L1759.7,1351.9 L1761.7,1374.0 L1763.7,1394.9 L1765.4,1402.3 L1767.2,1407.2 L1768.9,1411.9 L1770.6,1416.0 L1772.3,1424.4 L1774.0,1431.8 L1775.8,1434.8 L1777.5,1443.7 L1779.2,1433.8 L1780.8,1425.7 L1782.5,1418.7 L1785.5,1350.0 L1787.2,1324.6 L1788.8,1298.7 L1790.6,1325.9 L1792.4,1346.6 L1794.3,1365.0 L1796.3,1384.4 L1798.3,1398.2 L1801.3,1367.0 L1803.3,1350.0 L1805.0,1304.0 L1805.7,1134.2 L1807.5,1025.5 L1809.2,964.0 L1811.0,902.4 L1812.8,913.4 L1814.5,927.1 L1816.0,1080.1 L1817.8,1119.1 L1819.7,1157.3 L1821.5,1195.1 L1823.0,1239.1 L1825.4,1266.6 L1827.8,1293.5 L1829.9,1262.6 L1832.0,1233.4 L1834.8,1184.8 L1837.2,1238.0 L1838.9,1255.0 L1840.7,1265.1 L1842.4,1280.0 L1844.2,1266.9 L1845.9,1252.0 L1847.7,1239.2 L1850.0,1199.0 L1853.0,1237.8 L1854.7,1276.0 L1856.3,1307.4 L1858.0,1345.8 L1859.8,1283.1 L1861.7,1227.2 L1863.4,1152.8 L1865.2,1098.6 L1867.0,1042.4 L1868.7,1007.5 L1870.4,976.1 L1872.2,1022.1 L1874.0,1070.6 L1875.7,1151.9 L1877.4,1230.6 L1879.2,1259.7 L1880.9,1296.4 L1882.7,1327.2 L1884.5,1347.5 L1886.2,1367.3 L1888.0,1389.5 L1889.7,1362.1 L1891.4,1329.0 L1893.0,1237.4 L1895.0,1115.4 L1896.7,1076.9 L1898.4,1039.4 L1900.7,907.3 L1903.0,769.1 L1904.7,864.1 L1906.4,961.9 L1909.0,1318.2 L1910.7,1357.8 L1912.3,1394.2 L1914.0,1434.4 L1915.8,1435.5 L1917.6,1431.9 L1920.4,1204.9 L1923.0,964.2 L1924.7,1030.4 L1926.4,1099.3 L1928.0,1345.1 L1929.8,1411.7 L1931.6,1477.3 L1933.4,1458.2 L1935.1,1439.8 L1936.9,1420.7 L1939.0,1452.7 L1941.0,1485.5 L1943.1,1503.7 L1945.2,1526.4 L1947.3,1548.9 L1949.0,1551.7 L1950.8,1551.9 L1952.5,1558.5 L1954.3,1561.2 L1956.0,1561.4 L1957.8,1565.0 L1959.5,1537.7 L1961.3,1510.0 L1963.0,1311.1 L1964.8,1214.6 L1966.6,1310.6 L1968.3,1531.3 L1970.0,1565.9 L1971.8,1604.6 L1973.0,1610.0" stroke="#000" stroke-width="4.5" fill="none" stroke-linejoin="round"/><line x1="975.0" y1="1559.0" x2="984.8" y2="1631.2" stroke="#000" stroke-width="4.2"/><polygon points="988.0,1655.0 977.6,1630.2 991.4,1628.3" fill="#000"/><line x1="1239.0" y1="1574.0" x2="1197.3" y2="1411.2" stroke="#000" stroke-width="4.2"/><polygon points="1191.3,1388.0 1204.5,1411.4 1191.0,1414.9" fill="#000"/><line x1="1572.4" y1="1623.8" x2="1551.5" y2="1650.6" stroke="#000" stroke-width="4.2"/><polygon points="1536.7,1669.5 1547.2,1644.7 1558.2,1653.3" fill="#000"/><line x1="1618.6" y1="1603.0" x2="1620.5" y2="1650.3" stroke="#000" stroke-width="4.2"/><polygon points="1621.4,1674.3 1613.4,1648.6 1627.4,1648.0" fill="#000"/><line x1="1869.0" y1="958.0" x2="1841.0" y2="666.9" stroke="#000" stroke-width="4.2"/><polygon points="1838.7,643.0 1848.2,668.2 1834.2,669.6" fill="#000"/><line x1="1782.8" y1="1279.5" x2="1766.2" y2="1098.3" stroke="#000" stroke-width="4.2"/><polygon points="1764.0,1074.4 1773.3,1099.7 1759.4,1100.9" fill="#000"/><line x1="1757.0" y1="1335.0" x2="1724.6" y2="1228.0" stroke="#000" stroke-width="4.2"/><polygon points="1717.6,1205.0 1731.8,1227.9 1718.4,1231.9" fill="#000"/><line x1="1722.0" y1="1540.0" x2="1728.5" y2="1618.1" stroke="#000" stroke-width="4.2"/><polygon points="1730.5,1642.0 1721.4,1616.7 1735.3,1615.5" fill="#000"/><path d="M139.5,2462 L139.5,4036" stroke="#000" stroke-width="6" fill="none"/><path d="M136.5,4033.5 L2070,4033.5" stroke="#000" stroke-width="6" fill="none"/><path d="M139.0,4033 L139.0,4068.5 M386.2,4033 L386.2,4068.5 M633.5,4033 L633.5,4068.5 M880.8,4033 L880.8,4068.5 M1128.0,4033 L1128.0,4068.5 M1375.2,4033 L1375.2,4068.5 M1622.5,4033 L1622.5,4068.5 M1869.8,4033 L1869.8,4068.5 M262.6,4033 L262.6,4053 M509.9,4033 L509.9,4053 M757.1,4033 L757.1,4053 M1004.4,4033 L1004.4,4053 M1251.6,4033 L1251.6,4053 M1498.9,4033 L1498.9,4053 M1746.1,4033 L1746.1,4053 M1993.4,4033 L1993.4,4053" stroke="#000" stroke-width="5" fill="none"/><path d="M141.0,4025.0 L142.6,4025.7 L144.3,4025.7 L145.9,4026.0 L147.6,4025.1 L149.2,4025.5 L150.8,4022.1 L152.5,4023.5 L154.1,4025.0 L155.8,4023.8 L157.4,4024.5 L159.0,4021.5 L160.7,4022.6 L162.3,4021.6 L163.9,4022.4 L165.6,4022.3 L167.2,4020.1 L168.9,4020.7 L170.5,4020.7 L172.1,4022.8 L173.8,4022.1 L175.4,4019.7 L177.1,4021.8 L178.7,4019.2 L180.3,4020.8 L182.0,4018.8 L183.6,4018.2 L185.2,4021.1 L186.9,4018.5 L188.5,4018.3 L190.2,4020.9 L191.8,4020.3 L193.4,4018.0 L195.1,4020.2 L196.7,4018.5 L198.4,4018.8 L200.0,4016.9 L201.6,4019.4 L203.2,4018.3 L204.8,4019.1 L206.5,4018.7 L208.1,4016.4 L209.7,4016.4 L211.3,4015.5 L212.9,4015.3 L214.5,4014.8 L216.2,4015.5 L217.8,4016.4 L219.4,4014.1 L221.0,4016.3 L222.6,4014.9 L224.2,4014.6 L225.8,4016.3 L227.5,4014.9 L229.1,4014.1 L230.7,4014.5 L232.3,4015.1 L233.9,4012.6 L235.5,4015.8 L237.2,4012.2 L238.8,4014.6 L240.4,4014.8 L242.0,4011.6 L243.6,4014.2 L245.2,4012.5 L246.8,4013.1 L248.5,4010.8 L250.1,4010.8 L251.7,4011.1 L253.3,4013.7 L254.9,4010.8 L256.5,4012.6 L258.2,4013.1 L259.8,4013.0 L261.4,4010.6 L263.0,4010.5 L264.6,4010.8 L266.2,4011.3 L267.9,4008.6 L269.5,4010.6 L271.1,4010.4 L272.8,4010.3 L274.4,4007.0 L276.0,4009.9 L277.6,4006.5 L279.2,4007.1 L280.9,4007.7 L282.5,4008.5 L284.1,4006.1 L285.8,4007.9 L287.4,4006.2 L289.0,4005.0 L290.6,4004.7 L292.2,4003.8 L293.9,4003.1 L295.5,4003.1 L297.1,4004.7 L298.8,4005.5 L300.4,4002.1 L302.0,4001.4 L303.6,4004.0 L305.2,4001.5 L306.8,4000.3 L308.4,3998.9 L310.0,3999.3 L311.6,3999.4 L313.2,3997.2 L314.8,3996.3 L316.4,3994.2 L318.0,3996.5 L320.0,3990.3 L322.0,3989.0 L324.0,3988.2 L326.0,3983.7 L328.0,3961.8 L330.0,3962.6 L332.0,3985.5 L335.0,3993.0 L336.6,3990.4 L338.3,3991.4 L339.9,3990.2 L341.6,3992.5 L343.2,3990.3 L344.9,3990.7 L346.5,3992.4 L348.2,3991.7 L349.8,3992.0 L351.5,3989.9 L353.1,3989.8 L354.7,3990.5 L356.4,3989.4 L358.0,3988.5 L359.7,3988.8 L361.3,3987.6 L363.0,3988.3 L364.6,3990.3 L366.3,3990.0 L367.9,3988.6 L369.5,3987.9 L371.2,3987.2 L372.8,3986.1 L374.5,3986.5 L376.1,3988.2 L377.8,3988.3 L379.4,3986.3 L381.1,3987.6 L382.7,3987.4 L384.4,3986.9 L386.0,3986.6 L387.6,3986.4 L389.2,3984.5 L390.8,3985.2 L392.4,3983.1 L394.0,3983.3 L395.6,3983.8 L397.2,3983.0 L398.8,3981.1 L400.4,3982.9 L402.0,3981.3 L403.6,3980.6 L405.2,3978.0 L406.9,3979.4 L408.5,3977.8 L410.1,3978.8 L411.7,3977.5 L413.3,3978.3 L414.9,3977.2 L416.5,3977.2 L418.1,3975.0 L419.7,3975.6 L421.3,3975.4 L422.9,3975.2 L424.5,3973.0 L426.1,3974.2 L427.7,3973.8 L429.3,3972.6 L430.9,3973.1 L432.5,3972.5 L434.1,3970.4 L435.7,3970.0 L437.3,3968.1 L438.9,3970.0 L440.5,3969.9 L442.1,3967.7 L443.8,3967.9 L445.4,3967.5 L447.0,3967.0 L448.6,3964.5 L450.2,3966.2 L451.8,3964.9 L453.4,3964.7 L455.0,3963.3 L456.6,3963.5 L458.2,3963.6 L459.8,3962.5 L461.4,3962.3 L463.0,3959.3 L464.6,3959.1 L466.2,3959.5 L467.8,3959.7 L469.4,3957.5 L471.0,3958.5 L472.6,3957.7 L474.2,3955.0 L475.8,3955.9 L477.4,3954.4 L479.0,3953.1 L480.6,3952.8 L482.2,3952.8 L483.8,3951.7 L485.4,3951.1 L487.0,3949.9 L488.6,3950.8 L490.2,3949.9 L491.8,3950.1 L493.4,3949.4 L495.0,3947.5 L496.6,3949.3 L498.2,3945.4 L499.8,3946.2 L501.4,3945.1 L503.0,3945.0 L504.6,3943.3 L506.2,3945.2 L507.8,3942.9 L509.4,3941.1 L511.0,3942.6 L512.6,3940.1 L514.2,3941.0 L515.8,3939.7 L517.4,3939.9 L519.0,3940.6 L520.6,3939.5 L522.3,3937.4 L523.9,3938.2 L525.5,3936.9 L527.1,3935.3 L528.8,3933.8 L530.4,3934.8 L532.0,3934.1 L533.6,3934.8 L535.3,3934.2 L536.9,3932.3 L538.5,3930.7 L540.2,3932.0 L541.8,3928.1 L543.4,3927.9 L545.0,3928.9 L546.7,3928.4 L548.3,3926.1 L549.9,3927.2 L551.5,3927.5 L553.2,3925.0 L554.8,3924.5 L556.4,3923.1 L558.1,3922.7 L559.7,3924.5 L561.3,3921.7 L562.9,3923.2 L564.6,3922.4 L566.2,3920.6 L567.8,3918.7 L569.5,3920.7 L571.1,3918.3 L572.7,3917.3 L574.3,3916.3 L576.0,3918.1 L577.6,3915.7 L579.2,3914.3 L580.8,3914.3 L582.5,3912.4 L584.1,3913.6 L585.7,3912.3 L587.4,3911.1 L589.0,3912.2 L590.6,3911.7 L592.2,3908.1 L593.9,3909.4 L595.5,3907.8 L597.1,3909.5 L598.7,3908.3 L600.4,3905.7 L602.0,3905.2 L603.6,3903.7 L605.2,3905.6 L606.8,3902.0 L608.5,3902.0 L610.1,3900.4 L611.7,3899.9 L613.3,3898.7 L614.9,3898.1 L616.5,3894.8 L618.1,3896.0 L619.7,3893.2 L621.4,3893.0 L623.0,3891.2 L624.6,3889.9 L626.2,3889.7 L627.8,3888.3 L629.4,3886.9 L631.0,3887.1 L632.6,3885.5 L634.3,3882.4 L635.9,3882.1 L637.5,3881.7 L639.1,3882.3 L640.7,3881.1 L642.3,3878.7 L643.9,3875.7 L645.5,3877.4 L647.2,3875.0 L648.8,3874.5 L650.4,3873.8 L652.0,3872.5 L653.6,3869.9 L655.3,3869.5 L656.9,3865.6 L658.5,3863.6 L660.2,3863.3 L661.8,3858.9 L663.5,3857.3 L665.1,3857.2 L666.7,3852.4 L668.4,3853.2 L670.0,3850.7 L671.8,3849.0 L673.5,3847.7 L675.2,3848.8 L677.0,3848.5 L678.6,3846.1 L680.2,3847.7 L681.9,3848.3 L683.5,3848.5 L685.1,3848.3 L686.8,3848.0 L688.4,3849.9 L690.0,3851.1 L691.6,3848.7 L693.3,3849.6 L694.9,3852.0 L696.5,3852.1 L698.2,3852.0 L699.8,3849.9 L701.5,3852.7 L703.1,3853.9 L704.7,3854.2 L706.4,3853.5 L708.0,3851.4 L709.6,3853.3 L711.3,3850.1 L712.9,3850.7 L714.5,3850.9 L716.1,3849.1 L717.8,3846.1 L719.4,3845.8 L721.0,3847.1 L722.7,3843.4 L724.3,3844.1 L725.9,3842.5 L727.6,3840.7 L729.2,3841.4 L730.8,3838.4 L732.4,3837.7 L734.1,3837.8 L735.7,3835.7 L737.3,3834.7 L739.0,3835.7 L740.6,3835.4 L742.2,3834.9 L743.9,3831.3 L745.5,3831.5 L747.1,3830.1 L748.7,3830.2 L750.4,3828.9 L752.0,3829.6 L753.6,3825.3 L755.3,3821.8 L756.9,3821.8 L758.6,3817.6 L760.2,3817.0 L761.9,3814.3 L763.5,3813.4 L765.2,3809.8 L766.8,3807.8 L768.5,3804.2 L770.1,3803.0 L771.8,3799.6 L773.4,3799.1 L775.1,3795.9 L776.7,3792.3 L778.4,3790.3 L780.0,3788.5 L781.7,3785.0 L783.3,3778.1 L785.0,3775.1 L786.7,3770.0 L788.3,3763.1 L790.0,3760.3 L791.7,3753.3 L793.3,3748.5 L795.0,3745.3 L796.7,3740.4 L798.3,3739.0 L800.0,3733.9 L801.8,3731.1 L803.5,3730.6 L805.2,3725.6 L807.0,3725.8 L808.8,3726.6 L810.6,3730.1 L812.5,3736.1 L814.3,3738.3 L816.1,3739.8 L817.9,3742.6 L819.5,3748.0 L821.1,3749.1 L822.8,3752.0 L824.4,3751.8 L826.0,3755.8 L827.6,3757.1 L829.2,3759.0 L830.8,3761.6 L832.5,3764.9 L834.1,3766.2 L835.7,3768.6 L837.5,3768.4 L839.3,3771.7 L841.1,3771.8 L842.9,3773.1 L844.6,3772.5 L846.4,3774.8 L848.2,3774.3 L850.0,3775.3 L851.6,3775.1 L853.3,3775.6 L854.9,3774.2 L856.6,3772.9 L858.2,3772.6 L859.9,3773.0 L861.5,3772.3 L863.2,3775.2 L864.8,3773.5 L866.5,3774.4 L868.1,3771.5 L869.8,3773.0 L871.4,3774.4 L873.0,3772.9 L874.6,3771.7 L876.3,3771.4 L877.9,3769.6 L879.5,3769.3 L881.1,3768.8 L882.7,3769.0 L884.3,3768.6 L886.0,3769.9 L887.6,3766.7 L889.2,3766.6 L890.8,3766.2 L892.4,3765.3 L894.1,3765.2 L895.7,3764.5 L897.3,3764.9 L898.9,3762.8 L900.5,3765.5 L902.1,3763.0 L903.8,3764.6 L905.4,3763.2 L907.0,3762.6 L908.6,3761.4 L910.3,3762.6 L911.9,3759.1 L913.5,3760.6 L915.2,3758.7 L916.8,3759.6 L918.4,3759.3 L920.1,3756.8 L921.7,3756.4 L923.3,3755.3 L925.0,3755.5 L926.6,3754.5 L928.2,3755.1 L929.8,3756.7 L931.5,3754.0 L933.1,3753.3 L934.7,3753.4 L936.4,3752.2 L938.0,3753.3 L939.6,3752.8 L941.3,3750.3 L942.9,3750.1 L944.5,3751.1 L946.1,3751.5 L947.8,3749.9 L949.4,3748.6 L951.0,3750.0 L952.6,3745.9 L954.3,3745.6 L955.9,3747.6 L957.5,3745.8 L959.1,3743.9 L960.8,3745.2 L962.4,3746.2 L964.0,3744.0 L965.6,3742.8 L967.2,3741.4 L968.9,3740.7 L970.5,3743.2 L972.1,3741.1 L973.7,3742.2 L975.4,3738.5 L977.0,3738.6 L978.6,3737.4 L980.2,3737.9 L981.8,3736.0 L983.5,3735.9 L985.1,3735.8 L986.7,3734.7 L988.3,3733.0 L990.0,3732.2 L991.6,3734.9 L993.2,3731.3 L994.8,3731.8 L996.5,3730.6 L998.1,3730.4 L999.7,3728.0 L1001.3,3728.1 L1002.9,3726.7 L1004.6,3727.5 L1006.2,3728.2 L1007.8,3726.3 L1009.4,3726.5 L1011.1,3723.4 L1012.7,3722.0 L1014.3,3723.1 L1015.9,3722.1 L1017.6,3721.6 L1019.2,3720.0 L1020.9,3720.1 L1022.5,3719.6 L1024.2,3719.4 L1025.8,3716.4 L1027.5,3716.0 L1029.1,3716.6 L1030.8,3713.5 L1032.4,3712.3 L1034.1,3712.2 L1035.7,3710.5 L1037.3,3711.5 L1039.0,3710.2 L1040.6,3707.0 L1042.2,3704.8 L1043.8,3703.2 L1045.5,3702.4 L1047.1,3700.3 L1048.7,3700.1 L1050.3,3699.2 L1052.0,3696.5 L1053.6,3694.4 L1055.3,3696.5 L1056.9,3693.9 L1058.6,3694.2 L1060.3,3694.3 L1062.0,3694.4 L1063.6,3693.1 L1065.3,3694.1 L1067.0,3693.4 L1068.6,3694.8 L1070.3,3693.8 L1072.0,3694.8 L1073.6,3693.7 L1075.3,3693.9 L1077.0,3693.0 L1078.7,3692.3 L1080.3,3693.4 L1082.0,3692.6 L1083.6,3692.5 L1085.2,3690.5 L1086.8,3689.3 L1088.5,3686.6 L1090.1,3687.4 L1091.7,3684.7 L1093.3,3682.6 L1094.9,3681.2 L1096.5,3680.5 L1098.2,3679.6 L1099.8,3680.0 L1101.4,3677.4 L1103.0,3675.5 L1104.6,3676.8 L1106.2,3675.0 L1107.8,3671.9 L1109.5,3670.8 L1111.1,3670.0 L1112.7,3669.6 L1114.3,3670.3 L1115.9,3670.1 L1117.6,3668.3 L1119.2,3666.4 L1120.9,3666.6 L1122.5,3665.8 L1124.2,3665.2 L1125.8,3663.5 L1127.4,3665.0 L1129.1,3665.3 L1130.7,3664.4 L1132.4,3661.6 L1134.0,3662.6 L1135.7,3660.8 L1137.3,3662.2 L1138.9,3660.7 L1140.6,3662.0 L1142.2,3660.9 L1143.9,3657.9 L1145.5,3658.1 L1147.1,3659.7 L1148.8,3657.6 L1150.4,3656.9 L1152.1,3656.4 L1153.7,3657.0 L1155.4,3657.1 L1157.0,3655.1 L1158.7,3656.4 L1160.4,3654.8 L1162.1,3652.7 L1163.8,3655.0 L1165.4,3653.2 L1167.1,3651.6 L1168.8,3654.7 L1170.5,3651.0 L1172.2,3652.6 L1173.9,3652.0 L1175.6,3653.1 L1177.3,3651.1 L1178.9,3650.2 L1180.6,3650.1 L1182.3,3649.5 L1184.0,3650.5 L1185.7,3649.5 L1187.4,3650.3 L1189.0,3647.9 L1190.7,3647.7 L1192.4,3646.7 L1194.0,3648.7 L1195.7,3647.6 L1197.4,3647.1 L1199.0,3645.6 L1200.7,3644.2 L1202.4,3642.7 L1204.0,3644.6 L1205.7,3642.8 L1207.4,3640.5 L1209.0,3640.4 L1210.7,3639.6 L1212.6,3641.4 L1214.4,3641.6 L1216.3,3638.7 L1218.1,3640.5 L1220.0,3638.4 L1221.7,3639.3 L1223.4,3639.6 L1225.1,3638.4 L1226.8,3638.7 L1228.4,3636.9 L1230.1,3635.2 L1231.8,3636.7 L1233.5,3636.6 L1235.2,3634.9 L1236.9,3634.4 L1238.5,3632.9 L1240.2,3630.7 L1241.8,3630.5 L1243.5,3629.6 L1245.1,3628.7 L1246.8,3628.3 L1248.4,3626.0 L1250.0,3626.9 L1251.7,3625.1 L1253.4,3624.3 L1255.2,3622.1 L1256.9,3620.8 L1258.6,3619.0 L1260.4,3618.7 L1262.1,3615.9 L1263.9,3615.4 L1265.6,3614.5 L1267.3,3612.6 L1269.1,3610.5 L1270.8,3608.5 L1272.6,3607.1 L1274.4,3606.6 L1276.2,3606.0 L1278.1,3605.2 L1279.9,3603.6 L1281.7,3600.7 L1283.5,3601.5 L1285.3,3596.3 L1287.1,3595.1 L1288.9,3589.9 L1290.8,3589.5 L1292.6,3586.3 L1294.4,3584.5 L1296.2,3581.4 L1297.9,3572.3 L1299.6,3564.6 L1301.3,3555.9 L1303.2,3539.4 L1305.0,3522.0 L1307.0,3507.6 L1308.9,3493.4 L1310.8,3471.6 L1312.7,3454.7 L1314.6,3442.2 L1316.5,3430.6 L1318.3,3427.8 L1320.1,3427.8 L1321.8,3425.6 L1323.6,3426.0 L1325.4,3425.4 L1327.5,3422.1 L1329.6,3417.7 L1331.7,3413.6 L1333.3,3419.6 L1335.0,3428.7 L1336.9,3436.5 L1338.7,3445.4 L1340.6,3452.5 L1342.3,3465.1 L1344.0,3473.3 L1345.7,3484.3 L1347.6,3490.7 L1349.5,3498.4 L1351.4,3505.9 L1353.3,3509.8 L1355.0,3515.6 L1356.7,3520.3 L1358.4,3522.5 L1360.1,3526.1 L1361.8,3532.1 L1363.5,3537.2 L1365.2,3537.4 L1367.0,3536.8 L1368.7,3534.4 L1370.5,3533.2 L1372.2,3532.3 L1373.9,3532.4 L1375.6,3528.9 L1377.4,3527.6 L1379.1,3527.5 L1380.8,3527.5 L1382.5,3523.4 L1384.3,3521.6 L1386.0,3520.6 L1387.8,3522.6 L1389.6,3523.2 L1391.4,3522.1 L1393.2,3522.5 L1395.0,3524.3 L1396.8,3522.8 L1398.5,3521.2 L1400.2,3519.6 L1402.0,3515.4 L1403.7,3517.9 L1405.4,3520.2 L1407.2,3521.6 L1408.9,3520.3 L1410.6,3523.3 L1412.3,3520.5 L1414.1,3519.5 L1415.8,3515.0 L1417.5,3514.7 L1419.3,3513.2 L1421.0,3509.9 L1422.8,3505.3 L1424.5,3502.3 L1426.3,3498.9 L1428.0,3495.4 L1429.8,3492.3 L1431.5,3490.7 L1433.3,3485.6 L1435.0,3476.9 L1436.8,3465.9 L1438.5,3455.1 L1440.3,3444.1 L1442.1,3429.4 L1443.8,3415.9 L1445.6,3401.6 L1447.3,3382.8 L1449.1,3366.3 L1450.8,3345.6 L1453.0,3324.1 L1455.2,3302.4 L1457.2,3293.4 L1459.2,3284.5 L1461.1,3293.9 L1462.9,3303.6 L1464.8,3312.9 L1466.9,3337.0 L1469.1,3364.7 L1471.3,3386.7 L1473.5,3407.6 L1475.2,3418.3 L1477.0,3431.7 L1478.7,3442.5 L1480.5,3449.7 L1482.2,3455.0 L1484.0,3462.7 L1485.7,3463.9 L1487.5,3462.1 L1489.2,3465.9 L1491.0,3467.1 L1492.7,3466.9 L1494.5,3467.6 L1496.2,3470.3 L1498.0,3471.1 L1499.7,3473.9 L1501.4,3473.5 L1503.2,3470.6 L1504.9,3469.2 L1506.7,3469.0 L1508.4,3468.7 L1510.2,3470.2 L1511.9,3470.7 L1513.7,3470.9 L1515.4,3472.2 L1517.2,3475.3 L1518.9,3475.3 L1520.7,3474.8 L1522.4,3477.3 L1524.2,3477.9 L1525.9,3480.6 L1527.6,3477.5 L1529.4,3477.2 L1531.1,3475.5 L1532.8,3475.9 L1534.5,3476.7 L1536.3,3474.1 L1538.0,3472.6 L1539.8,3473.4 L1541.5,3469.1 L1543.3,3468.9 L1545.0,3469.3 L1546.8,3465.2 L1548.4,3461.8 L1550.0,3454.1 L1551.6,3446.7 L1553.2,3441.3 L1554.8,3435.8 L1556.6,3429.6 L1558.4,3424.1 L1560.2,3416.4 L1562.0,3411.0 L1563.7,3408.9 L1565.4,3402.2 L1567.2,3397.5 L1568.9,3391.3 L1570.6,3387.2 L1572.3,3375.6 L1574.0,3360.7 L1575.9,3325.0 L1577.8,3288.4 L1579.5,3179.6 L1580.8,3133.0 L1582.5,3179.8 L1585.4,3309.3 L1587.3,3335.9 L1589.2,3360.5 L1591.3,3368.5 L1593.5,3374.3 L1595.6,3382.3 L1597.3,3381.0 L1598.9,3375.7 L1600.6,3373.3 L1602.2,3357.2 L1603.8,3341.5 L1605.7,3313.6 L1607.6,3289.8 L1609.5,3299.4 L1611.4,3310.4 L1613.3,3349.7 L1614.9,3354.3 L1616.5,3355.2 L1618.1,3359.4 L1619.7,3361.8 L1621.6,3354.0 L1623.5,3349.7 L1625.4,3344.2 L1627.3,3339.9 L1628.6,3289.2 L1631.1,3239.6 L1633.7,3161.6 L1634.5,2988.8 L1636.0,2749.8 L1637.7,2727.0 L1639.3,2706.6 L1641.5,2781.4 L1643.0,2991.4 L1644.5,3168.9 L1645.0,3275.3 L1647.6,3329.2 L1649.3,3340.3 L1651.0,3349.7 L1652.7,3358.7 L1654.5,3362.9 L1656.3,3369.1 L1658.0,3373.0 L1659.8,3373.5 L1661.6,3377.9 L1663.5,3375.5 L1665.4,3371.7 L1667.3,3370.2 L1669.2,3365.5 L1671.1,3348.0 L1673.0,3326.7 L1674.7,3312.1 L1676.3,3297.7 L1678.0,3280.7 L1680.0,3286.5 L1682.0,3294.6 L1683.8,3309.0 L1685.7,3320.5 L1687.8,3331.2 L1689.9,3342.3 L1692.0,3353.3 L1693.8,3356.7 L1695.6,3356.1 L1697.7,3368.2 L1699.7,3378.1 L1701.5,3380.9 L1703.3,3383.3 L1705.1,3382.8 L1707.0,3385.8 L1708.8,3388.3 L1710.6,3387.5 L1712.4,3392.0 L1714.1,3391.3 L1715.9,3392.3 L1717.6,3393.3 L1719.3,3394.6 L1721.1,3392.5 L1722.8,3394.8 L1724.6,3393.7 L1726.3,3395.6 L1728.2,3388.1 L1730.1,3379.6 L1732.0,3373.3 L1734.7,3370.8 L1736.8,3377.1 L1739.0,3383.5 L1741.0,3390.0 L1743.0,3399.1 L1744.9,3398.1 L1746.8,3397.2 L1748.7,3395.6 L1750.4,3387.1 L1752.0,3376.0 L1753.7,3366.8 L1756.1,3381.1 L1758.5,3389.5 L1760.1,3392.1 L1761.8,3394.5 L1763.4,3395.1 L1765.0,3395.9 L1766.7,3399.2 L1768.3,3398.3 L1770.0,3399.8 L1771.6,3401.4 L1773.3,3399.5 L1774.9,3400.9 L1776.6,3402.0 L1778.7,3382.7 L1780.8,3361.9 L1782.9,3313.8 L1785.0,3263.4 L1787.8,3176.5 L1789.2,3175.4 L1791.3,3205.2 L1793.4,3238.7 L1796.2,3334.1 L1798.3,3359.2 L1800.4,3386.0 L1802.2,3391.4 L1803.9,3395.1 L1805.7,3402.7 L1807.4,3407.5 L1809.2,3405.3 L1810.9,3405.0 L1812.7,3402.3 L1814.4,3401.1 L1816.3,3390.4 L1818.1,3375.8 L1820.0,3364.4 L1821.8,3333.8 L1823.7,3305.7 L1825.5,3277.4 L1827.0,3181.9 L1828.3,2944.2 L1831.0,2763.2 L1833.2,2817.9 L1835.3,2875.2 L1836.7,3027.0 L1838.0,3140.3 L1840.2,3158.3 L1842.3,3181.3 L1844.4,3144.6 L1846.5,3111.8 L1848.6,3062.4 L1850.7,3013.4 L1853.5,3054.0 L1855.0,3182.6 L1857.7,3263.6 L1860.5,3283.4 L1863.2,3324.7 L1865.8,3278.5 L1867.5,3298.4 L1869.2,3327.9 L1871.0,3356.5 L1872.7,3378.4 L1874.3,3398.8 L1875.9,3407.4 L1877.5,3420.5 L1879.1,3411.7 L1880.7,3399.6 L1882.3,3387.4 L1883.9,3371.1 L1886.3,3387.3 L1888.7,3402.2 L1891.8,3433.9 L1893.4,3428.3 L1895.0,3424.9 L1896.6,3418.6 L1898.2,3412.8 L1900.3,3401.3 L1902.5,3389.8 L1904.6,3380.6 L1906.9,3388.9 L1909.3,3399.5 L1911.7,3408.5 L1914.0,3415.5 L1915.7,3405.1 L1917.3,3394.1 L1919.0,3382.5 L1922.0,3275.8 L1923.7,3240.7 L1925.3,3207.0 L1928.4,3149.7 L1930.8,3110.8 L1933.2,3073.3 L1934.8,3120.5 L1936.4,3163.7 L1939.6,3212.2 L1941.5,3245.0 L1943.4,3277.1 L1946.6,3332.4 L1948.5,3302.5 L1950.4,3274.3 L1952.3,3244.7 L1954.7,3270.0 L1957.0,3294.2 L1958.7,3305.9 L1960.3,3318.9 L1962.0,3333.1 L1964.3,3297.0 L1966.7,3262.4 L1968.8,3220.2 L1970.8,3181.5 L1972.6,3196.5 L1974.4,3212.6 L1976.2,3224.6 L1977.8,3233.0 L1979.4,3237.4 L1982.6,3163.6 L1984.2,3149.5 L1985.8,3134.2 L1987.4,3141.3 L1989.0,3147.4 L1990.5,3064.7 L1992.1,2957.6 L1993.7,2853.5 L1995.6,2885.8 L1997.5,2916.1 L2000.0,3021.7 L2002.6,3091.4 L2004.5,3071.5 L2006.4,3052.4 L2008.8,3043.8 L2011.2,3031.7 L2012.8,3080.8 L2014.4,3125.4 L2017.6,2949.3 L2019.2,2900.3 L2020.8,2854.6 L2022.4,2906.5 L2024.0,2959.4 L2027.1,3047.0 L2029.4,3173.6 L2032.0,3021.7 L2034.5,2773.0 L2036.0,2659.3 L2038.0,2679.2 L2039.9,2696.2 L2042.0,3042.6 L2044.0,3223.0 L2045.6,3025.6 L2047.2,2826.6 L2049.4,3116.9 L2051.0,3307.6 L2054.2,3357.0 L2055.8,3373.9 L2057.4,3394.8 L2059.0,3412.5 L2062.2,3294.8 L2065.3,3052.2 L2067.6,3285.8 L2068.5,3404.0" stroke="#000" stroke-width="4.5" fill="none" stroke-linejoin="round"/><line x1="666.0" y1="3833.0" x2="633.1" y2="3761.8" stroke="#000" stroke-width="4.2"/><polygon points="623.0,3740.0 640.3,3760.7 627.6,3766.5" fill="#000"/><line x1="812.5" y1="3692.5" x2="850.7" y2="3608.8" stroke="#000" stroke-width="4.2"/><polygon points="860.7,3587.0 856.3,3613.6 843.5,3607.7" fill="#000"/><rect x="263.5" y="3945.5" width="123.5" height="72.5" stroke="#ff1a1a" stroke-width="3" fill="none"/><rect x="1238.5" y="3295" width="158" height="319" stroke="#a8a8a8" stroke-width="3" fill="none"/><line x1="301.2" y1="3892.0" x2="301.2" y2="3530.4" stroke="#ff0000" stroke-width="6"/><polygon points="301.2,3511.4 310.4,3532.4 291.9,3532.4" fill="#ff0000"/><line x1="1310.6" y1="3254.0" x2="1310.6" y2="2777.0" stroke="#a8a8a8" stroke-width="6.5"/><polygon points="1310.6,2758.0 1321.1,2779.0 1300.1,2779.0" fill="#a8a8a8"/><rect x="633.5" y="2036.5" width="841" height="709" stroke="#aaaaaa" stroke-width="3.5" fill="#fff"/><path d="M714.5,2049 L714.5,2624 L1420,2624" stroke="#333" stroke-width="2.5" fill="none"/><path d="M714.7,2623 L714.7,2635 M773.4,2623 L773.4,2629 M832.2,2623 L832.2,2635 M890.9,2623 L890.9,2629 M949.6,2623 L949.6,2635 M1008.3,2623 L1008.3,2629 M1067.1,2623 L1067.1,2635 M1125.8,2623 L1125.8,2629 M1184.5,2623 L1184.5,2635 M1243.2,2623 L1243.2,2629 M1302.0,2623 L1302.0,2635 M1360.7,2623 L1360.7,2629 M1419.4,2623 L1419.4,2635" stroke="#333" stroke-width="2" fill="none"/><line x1="1137.5" y1="2176.4" x2="1107" y2="2232" stroke="#000" stroke-width="2.5"/><path d="M716.0,2612.0 L717.5,2590.7 L719.0,2580.9 L720.5,2570.7 L722.0,2568.4 L723.5,2594.4 L725.0,2576.3 L726.5,2598.0 L728.0,2581.5 L729.5,2571.0 L731.0,2578.3 L732.5,2573.1 L734.0,2594.1 L735.5,2587.0 L737.0,2580.8 L738.5,2558.5 L740.0,2590.0 L741.5,2579.0 L743.0,2583.2 L744.5,2593.4 L746.0,2576.9 L747.5,2585.4 L749.0,2591.5 L750.5,2599.0 L752.0,2582.1 L753.5,2574.2 L755.0,2570.8 L756.5,2592.5 L758.0,2595.9 L759.5,2590.5 L761.0,2587.0 L762.5,2594.8 L764.0,2583.8 L765.5,2571.4 L767.0,2589.0 L768.5,2594.3 L770.0,2581.2 L771.5,2570.3 L773.0,2574.6 L774.5,2571.4 L776.0,2573.5 L777.5,2581.3 L779.0,2572.0 L780.5,2586.1 L782.0,2594.2 L783.5,2577.9 L785.0,2580.4 L786.5,2598.3 L788.0,2574.9 L789.5,2576.6 L791.0,2587.3 L792.5,2569.7 L794.0,2580.7 L795.5,2598.2 L797.0,2585.1 L798.5,2607.4 L800.0,2593.0 L801.5,2593.5 L803.0,2581.5 L804.5,2569.6 L806.0,2575.8 L807.5,2557.8 L809.0,2574.1 L810.5,2596.9 L812.0,2588.0 L813.5,2577.1 L815.0,2580.5 L816.5,2595.0 L818.0,2583.5 L819.5,2572.1 L821.0,2579.8 L822.5,2594.4 L824.0,2570.2 L825.5,2585.3 L827.0,2587.0 L828.5,2598.8 L830.0,2590.4 L831.5,2580.5 L833.0,2592.6 L834.5,2592.8 L836.0,2576.1 L837.5,2598.9 L839.0,2593.6 L840.5,2591.5 L842.0,2584.8 L843.5,2560.4 L845.0,2577.0 L846.5,2597.9 L848.0,2597.3 L849.5,2597.8 L851.0,2575.7 L852.5,2575.0 L854.0,2587.8 L855.5,2594.2 L857.0,2588.5 L858.5,2571.4 L860.0,2596.1 L861.5,2591.2 L863.0,2574.0 L864.5,2578.5 L866.0,2597.7 L867.5,2580.4 L869.0,2590.0 L870.5,2571.9 L872.0,2595.2 L873.5,2572.3 L875.0,2597.2 L876.5,2578.1 L878.0,2592.1 L879.5,2586.8 L881.0,2595.2 L882.5,2593.1 L884.0,2573.0 L885.5,2575.2 L887.0,2583.8 L888.5,2578.5 L890.0,2593.1 L891.5,2579.1 L893.0,2592.3 L894.5,2592.4 L896.0,2580.4 L897.5,2564.4 L899.0,2582.2 L900.5,2568.2 L902.0,2618.0 L903.5,2571.9 L905.0,2578.4 L906.5,2564.1 L908.0,2567.9 L909.5,2583.3 L911.0,2576.2 L912.5,2586.2 L914.0,2576.3 L915.5,2572.4 L917.0,2569.7 L918.5,2569.6 L920.0,2575.4 L921.5,2581.9 L923.0,2569.0 L924.5,2576.6 L926.0,2553.0 L927.5,2550.1 L929.0,2548.7 L930.5,2569.5 L932.0,2548.1 L933.5,2562.4 L935.0,2567.6 L936.5,2544.7 L938.0,2548.3 L939.5,2565.1 L941.0,2536.2 L942.5,2545.2 L944.0,2532.2 L945.5,2549.0 L947.0,2527.1 L948.5,2537.5 L950.0,2515.6 L951.5,2536.3 L953.0,2509.7 L954.5,2503.6 L956.0,2507.3 L957.5,2508.2 L959.0,2517.5 L960.5,2489.5 L962.0,2499.3 L963.5,2485.4 L965.0,2503.0 L966.5,2485.6 L968.0,2459.7 L969.5,2452.9 L971.0,2461.0 L972.5,2458.3 L974.0,2440.9 L975.5,2443.9 L977.0,2420.7 L978.5,2411.1 L980.0,2414.1 L981.5,2424.7 L983.0,2406.8 L984.5,2382.0 L986.0,2371.5 L987.5,2386.2 L989.0,2375.3 L990.5,2351.9 L992.0,2358.3 L993.5,2368.4 L995.0,2346.6 L996.5,2360.6 L998.0,2346.8 L999.5,2331.0 L1001.0,2294.7 L1002.5,2291.5 L1004.0,2293.6 L1005.5,2279.3 L1007.0,2310.6 L1008.5,2276.9 L1010.0,2272.0 L1011.5,2260.3 L1013.0,2260.6 L1014.5,2290.8 L1016.0,2250.9 L1017.5,2250.1 L1019.0,2231.1 L1020.5,2251.3 L1022.0,2234.5 L1023.5,2221.8 L1025.0,2223.4 L1026.5,2210.0 L1028.0,2226.1 L1029.5,2239.3 L1031.0,2244.1 L1032.5,2253.9 L1034.0,2224.4 L1035.5,2214.1 L1037.0,2253.1 L1038.5,2250.1 L1040.0,2241.2 L1041.5,2209.9 L1043.0,2228.0 L1044.5,2242.9 L1046.0,2231.0 L1047.5,2235.7 L1049.0,2195.8 L1050.5,2218.3 L1052.0,2242.5 L1053.5,2231.5 L1055.0,2234.0 L1056.5,2198.9 L1058.0,2237.2 L1059.5,2226.1 L1061.0,2201.8 L1062.5,2201.2 L1064.0,2236.2 L1065.5,2236.9 L1067.0,2224.4 L1068.5,2223.9 L1070.0,2239.1 L1071.5,2217.7 L1073.0,2213.7 L1074.5,2217.0 L1076.0,2192.6 L1077.5,2237.6 L1079.0,2238.8 L1080.5,2231.8 L1082.0,2230.5 L1083.5,2253.8 L1085.0,2259.6 L1086.5,2212.4 L1088.0,2255.1 L1089.5,2238.3 L1091.0,2228.4 L1092.5,2230.8 L1094.0,2229.8 L1095.5,2273.1 L1097.0,2269.2 L1098.5,2275.4 L1100.0,2245.9 L1101.5,2239.9 L1103.0,2265.4 L1104.5,2259.6 L1106.0,2265.4 L1107.5,2304.2 L1109.0,2297.0 L1110.5,2305.1 L1112.0,2307.9 L1113.5,2286.9 L1115.0,2320.9 L1116.5,2295.2 L1118.0,2278.3 L1119.5,2326.4 L1121.0,2335.7 L1122.5,2309.6 L1124.0,2311.1 L1125.5,2350.7 L1127.0,2349.1 L1128.5,2358.5 L1130.0,2347.3 L1131.5,2330.3 L1133.0,2353.1 L1134.5,2366.6 L1136.0,2346.0 L1137.5,2354.6 L1139.0,2369.1 L1140.5,2391.0 L1142.0,2375.9 L1143.5,2382.8 L1145.0,2391.8 L1146.5,2387.4 L1148.0,2422.8 L1149.5,2399.9 L1151.0,2436.1 L1152.5,2406.8 L1154.0,2409.8 L1155.5,2414.7 L1157.0,2426.1 L1158.5,2455.2 L1160.0,2441.5 L1161.5,2450.3 L1163.0,2437.9 L1164.5,2475.8 L1166.0,2462.7 L1167.5,2480.3 L1169.0,2462.5 L1170.5,2471.4 L1172.0,2495.5 L1173.5,2475.8 L1175.0,2494.3 L1176.5,2489.6 L1178.0,2476.5 L1179.5,2512.7 L1181.0,2513.6 L1182.5,2495.8 L1184.0,2495.9 L1185.5,2517.3 L1187.0,2521.7 L1188.5,2526.1 L1190.0,2534.2 L1191.5,2513.9 L1193.0,2530.5 L1194.5,2515.8 L1196.0,2535.3 L1197.5,2521.5 L1199.0,2538.4 L1200.5,2528.9 L1202.0,2524.2 L1203.5,2541.1 L1205.0,2549.1 L1206.5,2545.6 L1208.0,2540.2 L1209.5,2556.7 L1211.0,2536.6 L1212.5,2559.1 L1214.0,2547.5 L1215.5,2570.2 L1217.0,2543.5 L1218.5,2557.2 L1220.0,2551.5 L1221.5,2569.8 L1223.0,2554.3 L1224.5,2558.9 L1226.0,2557.5 L1227.5,2575.0 L1229.0,2581.9 L1230.5,2559.2 L1232.0,2567.3 L1233.5,2584.5 L1235.0,2568.3 L1236.5,2586.9 L1238.0,2554.6 L1239.5,2586.0 L1241.0,2581.6 L1242.5,2588.3 L1244.0,2566.1 L1245.5,2591.0 L1247.0,2573.1 L1248.5,2572.2 L1250.0,2562.7 L1251.5,2573.7 L1253.0,2567.2 L1254.5,2570.2 L1256.0,2589.2 L1257.5,2576.6 L1259.0,2576.3 L1260.5,2571.1 L1262.0,2588.8 L1263.5,2590.4 L1265.0,2548.1 L1266.5,2594.2 L1268.0,2589.2 L1269.5,2577.1 L1271.0,2595.9 L1272.5,2575.1 L1274.0,2576.9 L1275.5,2567.7 L1277.0,2595.3 L1278.5,2584.5 L1280.0,2582.3 L1281.5,2596.8 L1283.0,2575.8 L1284.5,2583.2 L1286.0,2573.9 L1287.5,2590.7 L1289.0,2591.8 L1290.5,2612.0 L1292.0,2579.6 L1293.5,2571.2 L1295.0,2591.5 L1296.5,2573.2 L1298.0,2578.8 L1299.5,2595.6 L1301.0,2559.3 L1302.5,2584.1 L1304.0,2582.6 L1305.5,2581.7 L1307.0,2589.5 L1308.5,2594.7 L1310.0,2572.9 L1311.5,2578.2 L1313.0,2580.6 L1314.5,2575.4 L1316.0,2576.8 L1317.5,2596.0 L1319.0,2579.2 L1320.5,2599.2 L1322.0,2576.4 L1323.5,2589.1 L1325.0,2572.6 L1326.5,2594.1 L1328.0,2587.9 L1329.5,2573.1 L1331.0,2598.7 L1332.5,2597.4 L1334.0,2595.5 L1335.5,2577.3 L1337.0,2597.9 L1338.5,2587.4 L1340.0,2576.1 L1341.5,2573.8 L1343.0,2577.2 L1344.5,2589.1 L1346.0,2569.9 L1347.5,2589.9 L1349.0,2578.9 L1350.5,2593.4 L1352.0,2571.5 L1353.5,2581.4 L1355.0,2574.0 L1356.5,2590.4 L1358.0,2578.1 L1359.5,2598.2 L1361.0,2586.6 L1362.5,2582.1 L1364.0,2599.5 L1365.5,2575.5 L1367.0,2593.4 L1368.5,2582.3 L1370.0,2581.8 L1371.5,2583.4 L1373.0,2570.0 L1374.5,2588.8 L1376.0,2572.3 L1377.5,2580.7 L1379.0,2574.0 L1380.5,2585.2 L1382.0,2572.9 L1383.5,2593.7 L1385.0,2575.5 L1386.5,2597.9 L1388.0,2602.8 L1389.5,2581.2 L1391.0,2588.2 L1392.5,2574.4 L1394.0,2576.3 L1395.5,2595.0 L1397.0,2575.1 L1398.5,2581.6 L1400.0,2581.1 L1401.5,2577.0 L1403.0,2599.3 L1404.5,2607.2 L1406.0,2573.1 L1407.5,2586.1 L1409.0,2578.8 L1410.5,2587.1 L1412.0,2589.4 L1413.5,2588.0 L1415.0,2584.3 L1416.5,2592.5 L1418.0,2583.3 L1419.5,2583.8 L1419.5,2592.0 L1419.5,2540.0" stroke="#000" stroke-width="3.0" fill="none" stroke-linejoin="bevel"/><path d="M716,2584.6 L880,2584.6 L880.0,2582.2 L882.0,2582.0 L884.0,2581.7 L886.0,2581.4 L888.0,2581.1 L890.0,2580.7 L892.0,2580.3 L894.0,2579.9 L896.0,2579.4 L898.0,2578.9 L900.0,2578.4 L902.0,2577.8 L904.0,2577.1 L906.0,2576.4 L908.0,2575.7 L910.0,2574.9 L912.0,2574.0 L914.0,2573.1 L916.0,2572.1 L918.0,2571.0 L920.0,2569.8 L922.0,2568.6 L924.0,2567.3 L926.0,2565.8 L928.0,2564.3 L930.0,2562.7 L932.0,2561.0 L934.0,2559.2 L936.0,2557.3 L938.0,2555.2 L940.0,2553.0 L942.0,2550.7 L944.0,2548.3 L946.0,2545.8 L948.0,2543.1 L950.0,2540.2 L952.0,2537.2 L954.0,2534.1 L956.0,2530.8 L958.0,2527.4 L960.0,2523.8 L962.0,2520.0 L964.0,2516.1 L966.0,2512.1 L968.0,2507.8 L970.0,2503.4 L972.0,2498.9 L974.0,2494.2 L976.0,2489.3 L978.0,2484.2 L980.0,2479.1 L982.0,2473.7 L984.0,2468.2 L986.0,2462.6 L988.0,2456.8 L990.0,2450.9 L992.0,2444.8 L994.0,2438.6 L996.0,2432.4 L998.0,2426.0 L1000.0,2419.5 L1002.0,2412.9 L1004.0,2406.3 L1006.0,2399.6 L1008.0,2392.8 L1010.0,2386.0 L1012.0,2379.2 L1014.0,2372.3 L1016.0,2365.5 L1018.0,2358.6 L1020.0,2351.8 L1022.0,2345.1 L1024.0,2338.4 L1026.0,2331.8 L1028.0,2325.2 L1030.0,2318.8 L1032.0,2312.5 L1034.0,2306.4 L1036.0,2300.4 L1038.0,2294.5 L1040.0,2288.9 L1042.0,2283.5 L1044.0,2278.2 L1046.0,2273.3 L1048.0,2268.5 L1050.0,2264.1 L1052.0,2259.9 L1054.0,2256.0 L1056.0,2252.3 L1058.0,2249.0 L1060.0,2246.1 L1062.0,2243.4 L1064.0,2241.1 L1066.0,2239.1 L1068.0,2237.5 L1070.0,2236.2 L1072.0,2235.3 L1074.0,2234.8 L1076.0,2234.6 L1078.0,2234.8 L1080.0,2235.3 L1082.0,2236.2 L1084.0,2237.5 L1086.0,2239.1 L1088.0,2241.1 L1090.0,2243.4 L1092.0,2246.1 L1094.0,2249.0 L1096.0,2252.3 L1098.0,2256.0 L1100.0,2259.9 L1102.0,2264.1 L1104.0,2268.5 L1106.0,2273.3 L1108.0,2278.2 L1110.0,2283.5 L1112.0,2288.9 L1114.0,2294.5 L1116.0,2300.4 L1118.0,2306.4 L1120.0,2312.5 L1122.0,2318.8 L1124.0,2325.2 L1126.0,2331.8 L1128.0,2338.4 L1130.0,2345.1 L1132.0,2351.8 L1134.0,2358.6 L1136.0,2365.5 L1138.0,2372.3 L1140.0,2379.2 L1142.0,2386.0 L1144.0,2392.8 L1146.0,2399.6 L1148.0,2406.3 L1150.0,2412.9 L1152.0,2419.5 L1154.0,2426.0 L1156.0,2432.4 L1158.0,2438.6 L1160.0,2444.8 L1162.0,2450.9 L1164.0,2456.8 L1166.0,2462.6 L1168.0,2468.2 L1170.0,2473.7 L1172.0,2479.1 L1174.0,2484.2 L1176.0,2489.3 L1178.0,2494.2 L1180.0,2498.9 L1182.0,2503.4 L1184.0,2507.8 L1186.0,2512.1 L1188.0,2516.1 L1190.0,2520.0 L1192.0,2523.8 L1194.0,2527.4 L1196.0,2530.8 L1198.0,2534.1 L1200.0,2537.2 L1202.0,2540.2 L1204.0,2543.1 L1206.0,2545.8 L1208.0,2548.3 L1210.0,2550.7 L1212.0,2553.0 L1214.0,2555.2 L1216.0,2557.3 L1218.0,2559.2 L1220.0,2561.0 L1222.0,2562.7 L1224.0,2564.3 L1226.0,2565.8 L1228.0,2567.3 L1230.0,2568.6 L1232.0,2569.8 L1234.0,2571.0 L1236.0,2572.1 L1238.0,2573.1 L1240.0,2574.0 L1242.0,2574.9 L1244.0,2575.7 L1246.0,2576.4 L1248.0,2577.1 L1250.0,2577.8 L1252.0,2578.4 L1254.0,2578.9 L1256.0,2579.4 L1258.0,2579.9 L1260.0,2580.3 L1262.0,2580.7 L1264.0,2581.1 L1266.0,2581.4 L1268.0,2581.7 L1270.0,2582.0 L1272.0,2582.2 L1274.0,2582.5 L1276.0,2582.7 L1278.0,2582.9 L1280.0,2583.0 L1282.0,2583.2 L1284.0,2583.3 L1286.0,2583.5 L1288.0,2583.6 L1290.0,2583.7 L1292.0,2583.8 L1294.0,2583.9 L1296.0,2584.0 L1298.0,2584.0 L1420,2584.6" stroke="#000" stroke-width="2.6" fill="none"/><path d="M716,2584.6 L900,2584.6 L900.0,2584.6 L902.0,2584.5 L904.0,2584.5 L906.0,2584.5 L908.0,2584.5 L910.0,2584.4 L912.0,2584.4 L914.0,2584.3 L916.0,2584.3 L918.0,2584.2 L920.0,2584.0 L922.0,2583.9 L924.0,2583.7 L926.0,2583.5 L928.0,2583.2 L930.0,2582.9 L932.0,2582.6 L934.0,2582.1 L936.0,2581.6 L938.0,2581.0 L940.0,2580.2 L942.0,2579.4 L944.0,2578.4 L946.0,2577.3 L948.0,2576.0 L950.0,2574.5 L952.0,2572.9 L954.0,2571.0 L956.0,2569.0 L958.0,2566.7 L960.0,2564.2 L962.0,2561.4 L964.0,2558.4 L966.0,2555.2 L968.0,2551.7 L970.0,2548.1 L972.0,2544.2 L974.0,2540.1 L976.0,2535.9 L978.0,2531.6 L980.0,2527.1 L982.0,2522.6 L984.0,2518.1 L986.0,2513.7 L988.0,2509.3 L990.0,2505.1 L992.0,2501.0 L994.0,2497.2 L996.0,2493.7 L998.0,2490.5 L1000.0,2487.7 L1002.0,2485.3 L1004.0,2483.4 L1006.0,2481.9 L1008.0,2481.0 L1010.0,2480.6 L1012.0,2480.7 L1014.0,2481.4 L1016.0,2482.6 L1018.0,2484.3 L1020.0,2486.4 L1022.0,2489.0 L1024.0,2492.0 L1026.0,2495.4 L1028.0,2499.1 L1030.0,2503.0 L1032.0,2507.2 L1034.0,2511.5 L1036.0,2515.9 L1038.0,2520.4 L1040.0,2524.9 L1042.0,2529.4 L1044.0,2533.8 L1046.0,2538.0 L1048.0,2542.2 L1050.0,2546.2 L1052.0,2549.9 L1054.0,2553.5 L1056.0,2556.8 L1058.0,2559.9 L1060.0,2562.8 L1062.0,2565.4 L1064.0,2567.8 L1066.0,2570.0 L1068.0,2572.0 L1070.0,2573.7 L1072.0,2575.3 L1074.0,2576.7 L1076.0,2577.9 L1078.0,2578.9 L1080.0,2579.8 L1082.0,2580.6 L1084.0,2581.3 L1086.0,2581.9 L1088.0,2582.3 L1090.0,2582.8 L1092.0,2583.1 L1094.0,2583.4 L1096.0,2583.6 L1098.0,2583.8 L1100.0,2584.0 L1102.0,2584.1 L1104.0,2584.2 L1106.0,2584.3 L1108.0,2584.4 L1110.0,2584.4 L1112.0,2584.5 L1114.0,2584.5 L1116.0,2584.5 L1118.0,2584.5 L1120.0,2584.6 L1122.0,2584.6 L1124.0,2584.6 L1126.0,2584.6 L1128.0,2584.6 L1130.0,2584.6 L1132.0,2584.6 L1134.0,2584.6 L1136.0,2584.6 L1138.0,2584.6 L1140.0,2584.6 L1142.0,2584.6 L1144.0,2584.6 L1146.0,2584.6 L1148.0,2584.6 L1420,2584.6" stroke="#000" stroke-width="2.6" fill="none"/><path d="M940.0,2548.7 L942.0,2545.5 L944.0,2542.1 L946.0,2538.4 L948.0,2534.4 L950.0,2530.1 L952.0,2525.5 L954.0,2520.5 L956.0,2515.2 L958.0,2509.5 L960.0,2503.3 L962.0,2496.8 L964.0,2489.9 L966.0,2482.7 L968.0,2475.0 L970.0,2466.9 L972.0,2458.5 L974.0,2449.7 L976.0,2440.6 L978.0,2431.2 L980.0,2421.6 L982.0,2411.7 L984.0,2401.7 L986.0,2391.6 L988.0,2381.5 L990.0,2371.3 L992.0,2361.2 L994.0,2351.2 L996.0,2341.4 L998.0,2331.8 L1000.0,2322.5 L1002.0,2313.6 L1004.0,2305.0 L1006.0,2296.9 L1008.0,2289.2 L1010.0,2282.0 L1012.0,2275.3 L1014.0,2269.1 L1016.0,2263.5 L1018.0,2258.3 L1020.0,2253.7 L1022.0,2249.5 L1024.0,2245.8 L1026.0,2242.5 L1028.0,2239.7 L1030.0,2237.2 L1032.0,2235.1 L1034.0,2233.2 L1036.0,2231.7 L1038.0,2230.3 L1040.0,2229.2 L1042.0,2228.2 L1044.0,2227.4 L1046.0,2226.7 L1048.0,2226.1 L1050.0,2225.6 L1052.0,2225.2 L1054.0,2224.8 L1056.0,2224.6 L1058.0,2224.4 L1060.0,2224.3 L1062.0,2224.2 L1064.0,2224.3 L1066.0,2224.5 L1068.0,2224.9 L1070.0,2225.4 L1072.0,2226.0 L1074.0,2226.8 L1076.0,2227.9 L1078.0,2229.1 L1080.0,2230.6 L1082.0,2232.2 L1084.0,2234.2 L1086.0,2236.4 L1088.0,2238.8 L1090.0,2241.6 L1092.0,2244.6 L1094.0,2247.8" stroke="#ee1111" stroke-width="3" fill="none"/><rect x="168.5" y="2764.5" width="841" height="706" stroke="#ff1a1a" stroke-width="3" fill="#fff"/><path d="M240.5,2774 L240.5,3348 L952,3348" stroke="#888" stroke-width="2.5" fill="none"/><path d="M240.5,3347 L240.5,3361 M359.1,3347 L359.1,3355 M477.6,3347 L477.6,3361 M596.2,3347 L596.2,3355 M714.8,3347 L714.8,3361 M833.4,3347 L833.4,3355 M952.0,3347 L952.0,3361" stroke="#888" stroke-width="2" fill="none"/><path d="M241.4,3289.0 C243.1,3292.7 248.1,3307.3 251.8,3311.0 C255.5,3314.7 259.5,3309.2 263.4,3311.0 C267.3,3312.8 271.1,3321.0 275.0,3322.0 C278.9,3323.0 282.3,3317.5 286.6,3317.0 C290.9,3316.5 295.9,3321.3 300.8,3319.0 C305.7,3316.7 311.5,3305.3 316.2,3303.0 C320.9,3300.7 325.2,3306.2 329.1,3305.0 C333.0,3303.8 335.4,3294.5 339.5,3296.0 C343.6,3297.5 349.1,3312.8 353.6,3314.0 C358.1,3315.2 362.8,3305.5 366.5,3303.5 C370.2,3301.5 372.2,3305.4 375.6,3302.0 C379.1,3298.6 382.7,3283.3 387.2,3283.0 C391.7,3282.7 398.0,3296.0 402.7,3300.0 C407.4,3304.0 410.8,3308.5 415.5,3307.0 C420.2,3305.5 426.2,3295.8 431.0,3291.0 C435.8,3286.2 439.9,3283.5 444.0,3278.0 C448.1,3272.5 451.7,3261.0 455.5,3258.0 C459.3,3255.0 463.3,3260.5 467.0,3260.0 C470.7,3259.5 474.2,3255.3 477.5,3255.0 C480.8,3254.7 482.9,3259.3 486.5,3258.0 C490.1,3256.7 494.5,3246.7 499.4,3247.0 C504.3,3247.3 511.6,3260.3 516.1,3260.0 C520.6,3259.7 522.6,3251.7 526.5,3245.0 C530.4,3238.3 535.8,3234.2 539.4,3220.0 C543.0,3205.8 545.1,3177.8 548.3,3160.0 C551.4,3142.2 555.2,3113.0 558.3,3113.0 C561.4,3113.0 564.2,3141.0 566.7,3160.0 C569.2,3179.0 571.4,3214.2 573.3,3227.0 C575.2,3239.8 575.5,3237.8 578.3,3237.0 C581.1,3236.2 586.1,3221.8 590.0,3222.0 C593.9,3222.2 598.4,3240.0 601.7,3238.0 C605.0,3236.0 607.0,3239.7 610.0,3210.0 C613.0,3180.3 617.2,3107.2 620.0,3060.0 C622.8,3012.8 624.5,2957.8 626.7,2927.0 C628.9,2896.2 631.1,2875.0 633.3,2875.0 C635.5,2875.0 637.8,2896.2 640.0,2927.0 C642.2,2957.8 644.5,3018.3 646.7,3060.0 C648.9,3101.7 650.0,3149.8 653.3,3177.0 C656.6,3204.2 662.2,3220.3 666.7,3223.0 C671.2,3225.7 675.0,3194.0 680.0,3193.0 C685.0,3192.0 691.4,3217.0 696.7,3217.0 C702.0,3217.0 707.0,3194.5 711.7,3193.0 C716.4,3191.5 720.8,3206.8 725.0,3208.0 C729.2,3209.2 732.5,3201.3 736.7,3200.0 C740.9,3198.7 746.1,3199.5 750.0,3200.0 C753.9,3200.5 756.4,3205.2 760.0,3203.0 C763.6,3200.8 767.2,3185.8 771.7,3187.0 C776.2,3188.2 780.9,3211.2 786.7,3210.0 C792.5,3208.8 801.2,3182.5 806.7,3180.0 C812.2,3177.5 815.6,3196.3 820.0,3195.0 C824.4,3193.7 828.3,3172.5 833.3,3172.0 C838.3,3171.5 845.0,3190.2 850.0,3192.0 C855.0,3193.8 859.1,3183.7 863.3,3183.0 C867.5,3182.3 870.5,3192.7 875.0,3188.0 C879.5,3183.3 885.3,3160.0 890.0,3155.0 C894.7,3150.0 898.0,3161.0 903.3,3158.0 C908.6,3155.0 915.9,3137.0 921.7,3137.0 C927.5,3137.0 933.3,3154.5 938.3,3158.0 C943.3,3161.5 949.5,3158.0 951.7,3158.0" stroke="#000" stroke-width="3.5" fill="none"/>
<text transform="translate(271.56,97.26) scale(0.9792,1)" font-size="70.21" font-weight="bold" fill="#fff" >(a)</text><text transform="translate(1017.99,610.69) scale(0.9856,1)" font-size="68.13" font-weight="bold" fill="#fff" >50 µm</text><text transform="translate(94.43,1865.35) scale(0.9075,1)" font-size="65.49" font-weight="bold" fill="#000" >1800</text><text transform="translate(307.93,1865.35) scale(0.9075,1)" font-size="65.49" font-weight="bold" fill="#000" >1600</text><text transform="translate(521.43,1865.35) scale(0.9075,1)" font-size="65.49" font-weight="bold" fill="#000" >1400</text><text transform="translate(734.93,1865.35) scale(0.9075,1)" font-size="65.49" font-weight="bold" fill="#000" >1200</text><text transform="translate(948.43,1865.35) scale(0.9075,1)" font-size="65.49" font-weight="bold" fill="#000" >1000</text><text transform="translate(1179.22,1865.35) scale(0.9066,1)" font-size="65.49" font-weight="bold" fill="#000" >800</text><text transform="translate(1392.11,1865.35) scale(0.9123,1)" font-size="65.49" font-weight="bold" fill="#000" >600</text><text transform="translate(1607.41,1865.35) scale(0.8954,1)" font-size="65.49" font-weight="bold" fill="#000" >400</text><text transform="translate(1819.72,1865.35) scale(0.9066,1)" font-size="65.49" font-weight="bold" fill="#000" >200</text><text transform="translate(100.31,1226.01) rotate(-90) scale(0.9888,1)" font-size="72.34" font-weight="bold" fill="#000">Relative Intensity</text><text transform="translate(60.61,358.17) scale(0.9865,1)" font-size="68.72" font-weight="bold" fill="#000" >(b)</text><text transform="translate(769.70,2002.24) scale(0.9679,1)" font-size="67.45" font-weight="bold" fill="#000" >Wavenumber (cm</text><text transform="translate(1308.63,1961.80) scale(0.8069,1)" font-size="42.32" font-weight="bold" fill="#000" >-1</text><text transform="translate(1344.40,2002.50) scale(0.8960,1)" font-size="66.17" font-weight="bold" fill="#000" >)</text><text transform="translate(835.47,1253.11) scale(0.8488,1)" font-size="69.30" font-weight="bold" fill="#000" >1087</text><text transform="translate(987.22,782.13) scale(0.8913,1)" font-size="66.62" font-weight="bold" fill="#000" >973</text><text transform="translate(1411.04,733.32) scale(0.8168,1)" font-size="67.61" font-weight="bold" fill="#000" >581</text><text transform="translate(1473.86,1057.36) scale(0.9047,1)" font-size="64.29" font-weight="bold" fill="#000" >544</text><text transform="translate(1314.65,1310.44) scale(0.8902,1)" font-size="65.92" font-weight="bold" fill="#000" >666</text><text transform="translate(1530.26,1415.37) scale(0.9171,1)" font-size="63.38" font-weight="bold" fill="#000" >510</text><text transform="translate(1579.33,1250.35) scale(0.9042,1)" font-size="64.79" font-weight="bold" fill="#000" >378</text><text transform="translate(1067.79,1493.35) scale(0.9299,1)" font-size="64.79" font-weight="bold" fill="#000" >892</text><text transform="translate(1120.66,1361.35) scale(0.9028,1)" font-size="64.79" font-weight="bold" fill="#000" >779</text><text transform="translate(1251.20,1541.35) scale(0.9261,1)" font-size="64.79" font-weight="bold" fill="#000" >740</text><text transform="translate(930.70,1721.25) scale(0.9254,1)" font-size="64.79" font-weight="bold" fill="#000" >1036</text><text transform="translate(1462.31,1741.62) scale(0.8576,1)" font-size="68.45" font-weight="bold" fill="#000" >470</text><text transform="translate(1574.00,1727.71) scale(0.8640,1)" font-size="69.01" font-weight="bold" fill="#000" >436</text><text transform="translate(1699.87,1700.35) scale(0.8649,1)" font-size="65.35" font-weight="bold" fill="#000" >337</text><text transform="translate(1793.33,596.35) scale(0.8927,1)" font-size="64.79" font-weight="bold" fill="#000" >199</text><text transform="translate(1895.43,725.35) scale(0.9093,1)" font-size="65.49" font-weight="bold" fill="#000" >166</text><text transform="translate(1762.26,869.35) scale(0.8971,1)" font-size="64.79" font-weight="bold" fill="#000" >252</text><text transform="translate(1926.06,918.35) scale(0.9105,1)" font-size="64.79" font-weight="bold" fill="#000" >148</text><text transform="translate(1694.82,1052.85) scale(0.9047,1)" font-size="65.49" font-weight="bold" fill="#000" >275</text><text transform="translate(1665.14,1181.35) scale(0.8935,1)" font-size="64.79" font-weight="bold" fill="#000" >302</text><text transform="translate(1962.56,1155.34) scale(0.8734,1)" font-size="65.63" font-weight="bold" fill="#000" >109</text><text transform="translate(71.88,4140.28) scale(0.8661,1)" font-size="71.83" font-weight="bold" fill="#000" >4000</text><text transform="translate(318.50,4140.28) scale(0.8701,1)" font-size="71.83" font-weight="bold" fill="#000" >3500</text><text transform="translate(565.75,4140.28) scale(0.8701,1)" font-size="71.83" font-weight="bold" fill="#000" >3000</text><text transform="translate(812.37,4140.28) scale(0.8741,1)" font-size="71.83" font-weight="bold" fill="#000" >2500</text><text transform="translate(1059.62,4140.28) scale(0.8741,1)" font-size="71.83" font-weight="bold" fill="#000" >2000</text><text transform="translate(1304.93,4140.28) scale(0.8865,1)" font-size="71.83" font-weight="bold" fill="#000" >1500</text><text transform="translate(1552.18,4140.28) scale(0.8865,1)" font-size="71.83" font-weight="bold" fill="#000" >1000</text><text transform="translate(1818.88,4140.28) scale(0.8701,1)" font-size="71.83" font-weight="bold" fill="#000" >500</text><text transform="translate(92.52,3604.87) rotate(-90) scale(0.9947,1)" font-size="75.64" font-weight="bold" fill="#000">Relative Intensity</text><text transform="translate(39.49,2526.88) scale(1.0438,1)" font-size="67.23" font-weight="bold" fill="#000" >(c)</text><text transform="translate(787.00,4287.64) scale(0.9331,1)" font-size="74.57" font-weight="bold" fill="#000" >Wavenumber (cm</text><text transform="translate(1361.55,4244.00) scale(0.8089,1)" font-size="44.93" font-weight="bold" fill="#000" >-1</text><text transform="translate(1399.50,4287.64) scale(0.8381,1)" font-size="74.57" font-weight="bold" fill="#000" >)</text><text transform="translate(542.11,3714.91) scale(0.9142,1)" font-size="68.87" font-weight="bold" fill="#000" >2916</text><text transform="translate(808.75,3560.34) scale(0.9330,1)" font-size="66.20" font-weight="bold" fill="#000" >2658</text><text transform="translate(1245.62,3379.93) scale(0.9386,1)" font-size="67.04" font-weight="bold" fill="#000" >1600</text><text transform="translate(1387.23,3260.32) scale(0.9285,1)" font-size="67.61" font-weight="bold" fill="#000" >1333</text><text transform="translate(670.79,2676.60) scale(0.9988,1)" font-size="40.14" font-weight="bold" fill="#000" >1750</text><text transform="translate(788.24,2676.60) scale(0.9988,1)" font-size="40.14" font-weight="bold" fill="#000" >1700</text><text transform="translate(905.69,2676.60) scale(0.9988,1)" font-size="40.14" font-weight="bold" fill="#000" >1650</text><text transform="translate(1023.14,2676.60) scale(0.9988,1)" font-size="40.14" font-weight="bold" fill="#000" >1600</text><text transform="translate(1140.59,2676.60) scale(0.9988,1)" font-size="40.14" font-weight="bold" fill="#000" >1550</text><text transform="translate(1258.04,2676.60) scale(0.9988,1)" font-size="40.14" font-weight="bold" fill="#000" >1500</text><text transform="translate(1375.49,2676.60) scale(0.9988,1)" font-size="40.14" font-weight="bold" fill="#000" >1450</text><text transform="translate(875.00,2727.74) scale(0.9283,1)" font-size="45.53" font-weight="bold" fill="#000" >Wavenumber (cm</text><text transform="translate(1226.12,2703.00) scale(0.8415,1)" font-size="26.09" font-weight="bold" fill="#000" >-1</text><text transform="translate(1247.00,2727.74) scale(1.0197,1)" font-size="45.53" font-weight="bold" fill="#000" >)</text><text transform="translate(691.66,2480.83) rotate(-90) scale(0.9756,1)" font-size="47.34" font-weight="bold" fill="#000">Relative Intensity</text><text transform="translate(737.10,2105.75) scale(1.0787,1)" font-size="63.09" font-weight="bold" fill="#000" >(d)</text><text transform="translate(1103.30,2165.32) scale(1.0649,1)" font-size="37.61" font-weight="bold" fill="#000" >1596</text><text transform="translate(1004.68,2466.65) scale(1.0979,1)" font-size="35.21" font-weight="bold" fill="#000" >1624</text><text transform="translate(197.21,3403.58) scale(0.9471,1)" font-size="41.55" font-weight="bold" fill="#000" >3700</text><text transform="translate(434.36,3403.58) scale(0.9471,1)" font-size="41.55" font-weight="bold" fill="#000" >3650</text><text transform="translate(671.51,3403.58) scale(0.9471,1)" font-size="41.55" font-weight="bold" fill="#000" >3600</text><text transform="translate(908.66,3403.58) scale(0.9471,1)" font-size="41.55" font-weight="bold" fill="#000" >3550</text><text transform="translate(403.00,3456.00) scale(0.9774,1)" font-size="43.83" font-weight="bold" fill="#000" >Wavenumber (cm</text><text transform="translate(756.90,3431.00) scale(0.6858,1)" font-size="28.99" font-weight="bold" fill="#000" >-1</text><text transform="translate(777.00,3456.00) scale(1.0593,1)" font-size="43.83" font-weight="bold" fill="#000" >)</text><text transform="translate(222.64,3209.07) rotate(-90) scale(0.9848,1)" font-size="47.45" font-weight="bold" fill="#000">Relative Intensity</text><text transform="translate(258.20,2840.67) scale(1.0484,1)" font-size="64.89" font-weight="bold" fill="#000" >(e)</text><text transform="translate(592.68,2858.57) scale(0.9538,1)" font-size="42.96" font-weight="bold" fill="#000" >3617</text><text transform="translate(515.18,3097.57) scale(0.9516,1)" font-size="43.10" font-weight="bold" fill="#000" >3633</text>
</svg>
</body></html>
